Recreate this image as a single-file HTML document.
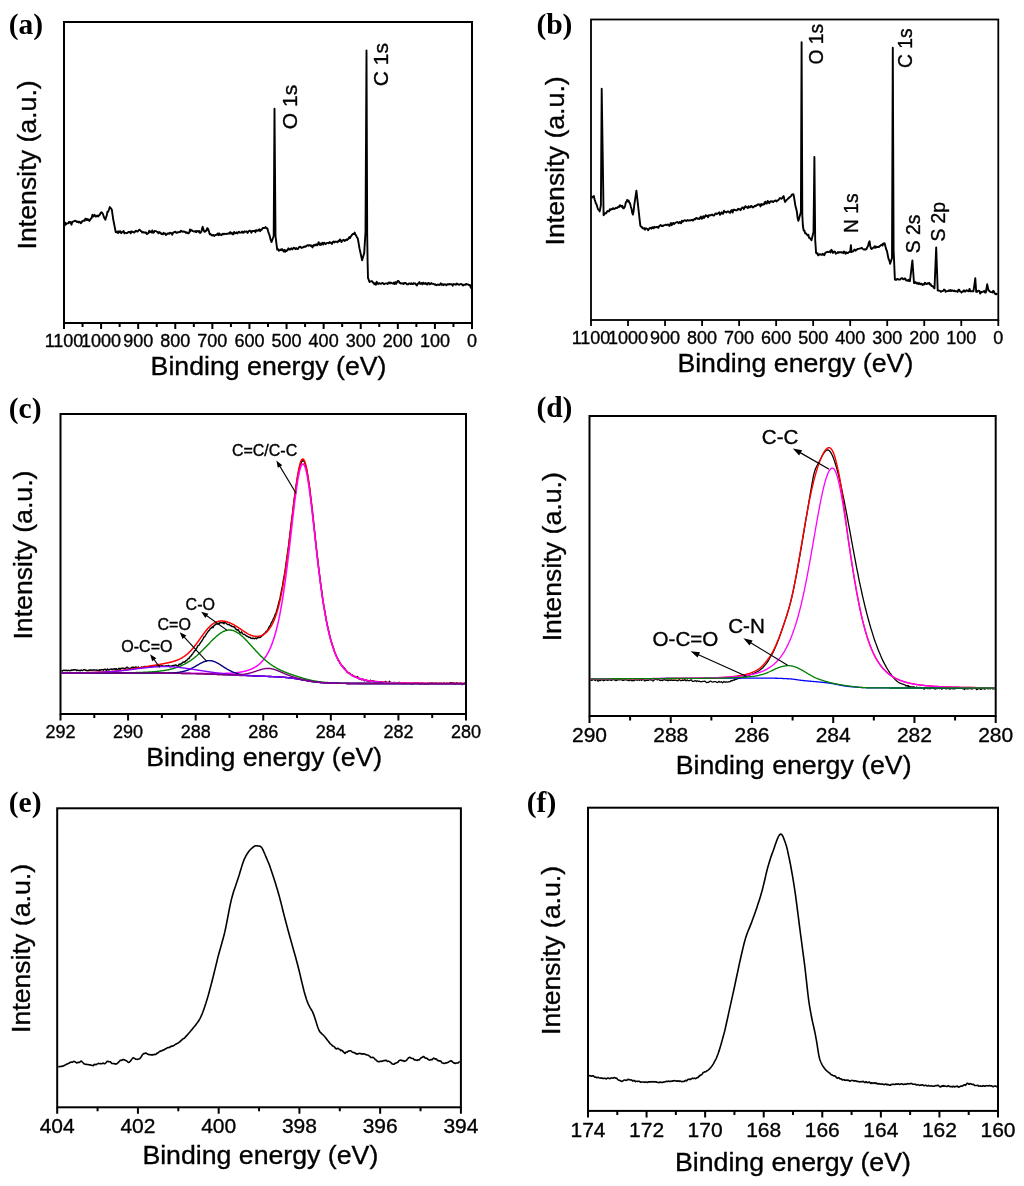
<!DOCTYPE html>
<html><head><meta charset="utf-8"><style>
html,body{margin:0;padding:0;background:#fff;}
body{width:1024px;height:1186px;position:relative;overflow:hidden;}
</style></head><body>
<svg width="1024" height="1186" viewBox="0 0 1024 1186" style="position:absolute;left:0;top:0;will-change:transform"><rect x="64" y="22" width="408" height="301" fill="none" stroke="#000" stroke-width="2"/><path d="M64.00,323L64.00,329M101.09,323L101.09,329M138.18,323L138.18,329M175.27,323L175.27,329M212.36,323L212.36,329M249.45,323L249.45,329M286.55,323L286.55,329M323.64,323L323.64,329M360.73,323L360.73,329M397.82,323L397.82,329M434.91,323L434.91,329M472.00,323L472.00,329M82.55,323L82.55,327M119.64,323L119.64,327M156.73,323L156.73,327M193.82,323L193.82,327M230.91,323L230.91,327M268.00,323L268.00,327M305.09,323L305.09,327M342.18,323L342.18,327M379.27,323L379.27,327M416.36,323L416.36,327M453.45,323L453.45,327" stroke="#000" stroke-width="2" fill="none"/><text x="64.0" y="347" font-family="'Liberation Sans', sans-serif" font-size="18" font-weight="normal" text-anchor="middle" fill="#000" stroke="#000" stroke-width="0.35">1100</text><text x="101.09" y="347" font-family="'Liberation Sans', sans-serif" font-size="18" font-weight="normal" text-anchor="middle" fill="#000" stroke="#000" stroke-width="0.35">1000</text><text x="138.18" y="347" font-family="'Liberation Sans', sans-serif" font-size="18" font-weight="normal" text-anchor="middle" fill="#000" stroke="#000" stroke-width="0.35">900</text><text x="175.27" y="347" font-family="'Liberation Sans', sans-serif" font-size="18" font-weight="normal" text-anchor="middle" fill="#000" stroke="#000" stroke-width="0.35">800</text><text x="212.36" y="347" font-family="'Liberation Sans', sans-serif" font-size="18" font-weight="normal" text-anchor="middle" fill="#000" stroke="#000" stroke-width="0.35">700</text><text x="249.45" y="347" font-family="'Liberation Sans', sans-serif" font-size="18" font-weight="normal" text-anchor="middle" fill="#000" stroke="#000" stroke-width="0.35">600</text><text x="286.55" y="347" font-family="'Liberation Sans', sans-serif" font-size="18" font-weight="normal" text-anchor="middle" fill="#000" stroke="#000" stroke-width="0.35">500</text><text x="323.64" y="347" font-family="'Liberation Sans', sans-serif" font-size="18" font-weight="normal" text-anchor="middle" fill="#000" stroke="#000" stroke-width="0.35">400</text><text x="360.73" y="347" font-family="'Liberation Sans', sans-serif" font-size="18" font-weight="normal" text-anchor="middle" fill="#000" stroke="#000" stroke-width="0.35">300</text><text x="397.82" y="347" font-family="'Liberation Sans', sans-serif" font-size="18" font-weight="normal" text-anchor="middle" fill="#000" stroke="#000" stroke-width="0.35">200</text><text x="434.91" y="347" font-family="'Liberation Sans', sans-serif" font-size="18" font-weight="normal" text-anchor="middle" fill="#000" stroke="#000" stroke-width="0.35">100</text><text x="472.0" y="347" font-family="'Liberation Sans', sans-serif" font-size="18" font-weight="normal" text-anchor="middle" fill="#000" stroke="#000" stroke-width="0.35">0</text><text x="150.6" y="375.2" font-family="'Liberation Sans', sans-serif" font-size="26.7" font-weight="normal" text-anchor="start" fill="#000" stroke="#000" stroke-width="0.35">Binding energy (eV)</text><text x="36.2" y="249.4" font-family="'Liberation Sans', sans-serif" font-size="26.7" font-weight="normal" text-anchor="start" fill="#000" stroke="#000" stroke-width="0.35" transform="rotate(-90 36.2 249.4)">Intensity (a.u.)</text><text x="8.8" y="34.2" font-family="'Liberation Serif', serif" font-size="29.5" font-weight="bold" text-anchor="start" fill="#000">(a)</text><path d="M64.40,226.13L65.18,222.65L65.97,224.47L66.75,223.52L67.54,223.34L68.32,223.24L69.11,221.72L69.89,222.71L70.68,222.00L71.46,224.67L72.25,222.24L73.03,221.58L73.82,221.36L74.60,220.83L75.37,220.66L76.13,221.23L76.90,221.94L77.67,221.53L78.43,222.47L79.20,221.76L79.97,222.02L80.73,223.18L81.50,222.58L82.28,221.17L83.06,220.71L83.84,220.54L84.62,220.83L85.40,218.61L86.18,218.93L86.96,220.10L87.74,219.08L88.52,219.80L89.30,220.92L90.08,219.83L90.86,218.60L91.64,218.13L92.42,214.80L93.20,216.61L93.90,215.30L94.60,214.87L95.30,216.31L96.00,216.68L96.70,215.95L97.40,215.58L98.10,216.42L98.78,215.38L99.46,215.42L100.14,213.98L100.82,212.62L101.50,212.28L102.28,213.02L103.06,214.17L103.84,216.89L104.62,218.55L105.40,219.65L106.07,217.12L106.73,215.69L107.40,211.65L108.20,211.78L109.00,209.54L109.80,207.10L110.47,207.90L111.13,208.70L111.80,209.50L112.50,214.40L113.20,219.30L113.83,222.48L114.45,225.65L115.08,228.82L115.70,232.00L116.50,232.23L117.30,231.57L118.10,233.11L118.90,231.17L119.70,232.25L120.50,231.27L121.29,233.03L122.08,232.08L122.87,231.89L123.66,231.00L124.45,233.43L125.24,232.83L126.03,232.88L126.82,233.20L127.61,232.69L128.40,232.05L129.16,231.89L129.92,231.84L130.68,233.31L131.44,231.28L132.20,231.83L132.96,231.98L133.72,232.31L134.48,232.50L135.24,231.18L136.00,230.79L136.78,231.40L137.55,231.65L138.32,230.73L139.10,229.75L139.88,229.96L140.66,230.97L141.44,231.17L142.22,232.49L143.00,231.94L143.78,232.56L144.56,232.36L145.33,232.78L146.11,232.52L146.89,234.12L147.67,233.35L148.44,233.31L149.22,230.81L150.00,231.96L150.76,231.71L151.52,232.45L152.28,230.42L153.04,232.78L153.80,232.65L154.56,230.93L155.32,231.10L156.08,231.16L156.84,231.69L157.60,232.05L158.36,233.28L159.12,231.96L159.88,232.89L160.64,232.71L161.40,234.08L162.16,233.62L162.92,234.31L163.68,232.85L164.44,233.72L165.20,233.53L165.99,235.03L166.77,234.32L167.56,233.53L168.34,233.31L169.13,233.84L169.91,232.89L170.70,232.62L171.49,233.48L172.27,234.75L173.06,232.74L173.84,232.40L174.63,231.85L175.41,231.62L176.20,232.80L176.99,232.91L177.77,232.20L178.56,232.31L179.34,232.04L180.13,231.94L180.91,230.65L181.70,231.28L182.41,231.82L183.12,231.34L183.83,231.70L184.54,231.60L185.26,232.09L185.97,233.06L186.68,232.33L187.39,232.65L188.10,233.47L188.72,232.70L189.35,232.79L189.97,229.49L190.60,230.90L191.38,230.06L192.17,230.59L192.95,231.19L193.74,231.46L194.52,231.53L195.31,231.01L196.09,232.13L196.88,230.90L197.66,231.10L198.45,231.86L199.23,231.01L200.02,233.01L200.80,232.31L201.43,231.62L202.07,228.58L202.70,226.83L203.33,228.92L203.97,231.01L204.60,231.79L205.24,231.59L205.88,230.43L206.52,230.69L207.16,228.22L207.80,228.53L208.43,229.68L209.07,231.79L209.70,234.30L210.49,233.97L211.27,234.90L212.06,235.52L212.85,234.92L213.64,235.24L214.43,235.94L215.21,234.99L216.00,234.94L216.79,234.54L217.58,233.54L218.37,235.14L219.16,233.31L219.95,234.93L220.74,234.40L221.53,235.13L222.32,234.23L223.11,233.63L223.90,234.40L224.69,233.69L225.48,233.89L226.27,233.98L227.06,233.79L227.84,233.69L228.63,233.17L229.42,233.55L230.21,232.12L231.00,233.45L231.79,232.65L232.58,234.21L233.37,234.25L234.16,231.93L234.95,233.33L235.74,233.07L236.53,232.36L237.32,233.40L238.11,232.64L238.90,231.66L239.69,232.60L240.47,232.58L241.26,232.64L242.04,231.60L242.83,232.78L243.62,232.75L244.40,231.33L245.19,231.56L245.98,231.85L246.76,231.40L247.55,232.91L248.33,231.72L249.12,230.76L249.91,230.80L250.69,231.20L251.48,232.74L252.27,230.90L253.05,231.00L253.84,231.16L254.62,230.67L255.41,232.18L256.20,230.10L256.98,230.88L257.77,230.36L258.56,230.58L259.34,229.21L260.13,231.16L260.91,229.73L261.70,229.72L262.46,228.41L263.22,227.91L263.98,228.17L264.74,227.83L265.50,227.03L266.13,227.98L266.77,228.27L267.40,228.42L268.10,231.25L268.80,233.35L269.50,235.13L270.20,237.97L270.90,240.63L271.60,242.00L272.30,240.00L273.00,238.00L273.70,236.00L274.10,172.40L274.50,108.80L275.00,172.40L275.50,236.00L276.07,240.53L276.63,245.07L277.20,249.60L278.00,249.12L278.80,250.82L279.60,250.24L280.40,249.58L281.20,250.19L282.00,249.07L282.80,249.83L283.60,251.60L284.40,249.78L285.20,251.79L285.99,250.29L286.77,250.89L287.56,250.07L288.34,248.32L289.13,249.34L289.91,249.72L290.70,248.63L291.49,248.34L292.27,249.38L293.06,248.52L293.84,247.64L294.63,248.19L295.41,249.12L296.20,248.04L296.99,248.87L297.77,249.13L298.56,247.93L299.34,246.97L300.13,246.69L300.91,247.43L301.70,247.92L302.47,247.35L303.24,247.41L304.01,246.58L304.79,246.97L305.56,246.29L306.33,246.26L307.10,245.45L307.87,245.11L308.64,245.74L309.41,245.17L310.19,245.14L310.96,246.14L311.73,245.46L312.50,247.44L313.27,245.91L314.04,244.69L314.81,245.54L315.59,245.11L316.36,244.24L317.13,245.36L317.90,243.91L318.67,242.17L319.44,244.73L320.21,243.61L320.99,244.95L321.76,243.32L322.53,242.81L323.30,244.58L324.09,242.64L324.88,243.42L325.67,244.18L326.46,243.14L327.25,242.89L328.04,242.91L328.83,243.31L329.62,242.05L330.41,242.93L331.20,242.80L331.99,243.92L332.78,241.94L333.57,241.43L334.36,242.47L335.14,241.57L335.93,241.94L336.72,241.72L337.51,242.33L338.30,240.94L339.09,241.23L339.88,239.40L340.67,240.45L341.46,242.04L342.25,240.37L343.04,240.25L343.83,239.78L344.62,240.93L345.41,240.53L346.20,239.47L346.97,240.08L347.75,239.10L348.52,238.76L349.29,237.09L350.06,238.06L350.84,236.44L351.61,235.38L352.38,234.41L353.15,233.91L353.93,233.99L354.70,232.51L355.45,234.70L356.20,235.61L356.95,237.39L357.70,238.27L358.30,241.22L358.90,244.83L359.50,248.40L360.15,251.35L360.80,254.30L361.45,257.25L362.10,260.20L362.80,257.83L363.50,255.47L364.20,253.10L364.85,242.55L365.50,232.00L366.00,141.25L366.50,50.50L367.20,235.00L367.60,262.00L368.00,277.90L368.75,279.95L369.50,282.00L370.15,281.70L370.80,281.40L371.45,281.10L372.10,281.18L372.85,282.54L373.60,282.65L374.38,284.26L375.16,283.38L375.94,284.64L376.72,281.80L377.50,283.73L378.28,283.93L379.06,283.01L379.84,283.57L380.62,283.78L381.40,283.67L382.18,282.90L382.96,283.18L383.74,284.00L384.52,284.19L385.30,283.37L386.08,283.36L386.86,283.45L387.64,284.05L388.42,282.59L389.20,282.40L389.98,283.43L390.76,282.57L391.54,282.94L392.32,283.42L393.10,283.70L393.88,282.62L394.66,283.94L395.44,282.15L396.22,283.78L397.00,282.30L397.75,281.06L398.50,280.95L399.00,281.62L399.50,282.74L400.29,283.00L401.09,283.66L401.88,283.31L402.68,283.34L403.47,284.11L404.27,282.89L405.06,283.07L405.85,283.05L406.65,284.25L407.44,284.14L408.24,284.37L409.03,283.46L409.83,283.38L410.62,284.11L411.41,283.25L412.21,284.12L413.00,284.06L413.80,283.08L414.59,283.53L415.39,283.52L416.18,284.83L416.97,285.44L417.77,283.57L418.56,283.67L419.36,282.08L420.15,283.84L420.94,283.70L421.74,282.97L422.53,284.28L423.33,282.65L424.12,283.61L424.92,283.88L425.71,282.92L426.50,284.41L427.30,284.56L428.09,282.87L428.89,282.87L429.68,284.29L430.48,283.86L431.27,283.05L432.06,283.71L432.86,283.85L433.65,283.84L434.45,284.54L435.24,284.24L436.04,285.23L436.83,284.96L437.62,284.49L438.42,284.79L439.21,284.97L440.01,284.56L440.80,283.22L441.60,284.69L442.39,284.16L443.18,285.26L443.98,284.20L444.77,284.52L445.57,284.40L446.36,285.36L447.16,284.32L447.95,284.02L448.74,284.44L449.54,283.93L450.33,284.37L451.13,284.27L451.92,284.48L452.71,285.65L453.51,284.03L454.30,284.36L455.10,284.21L455.89,284.83L456.69,283.55L457.48,283.91L458.27,284.38L459.07,284.80L459.86,284.40L460.66,284.10L461.45,283.86L462.25,284.84L463.04,285.50L463.83,284.74L464.63,284.66L465.42,284.85L466.22,283.90L467.01,284.35L467.81,284.40L468.60,284.81L469.28,285.22L469.96,285.03L470.64,287.31L471.32,288.34L472.00,287.62" stroke="#000" stroke-width="1.9" fill="none" stroke-linejoin="round"/><text x="296.6" y="129.2" font-family="'Liberation Sans', sans-serif" font-size="21" font-weight="normal" text-anchor="start" fill="#000" stroke="#000" stroke-width="0.35" transform="rotate(-90 296.6 129.2)">O 1s</text><text x="388" y="86.2" font-family="'Liberation Sans', sans-serif" font-size="21" font-weight="normal" text-anchor="start" fill="#000" stroke="#000" stroke-width="0.35" transform="rotate(-90 388 86.2)">C 1s</text><rect x="591" y="19.5" width="407.29999999999995" height="300.5" fill="none" stroke="#000" stroke-width="1.8"/><path d="M591.00,320L591.00,326M628.03,320L628.03,326M665.05,320L665.05,326M702.08,320L702.08,326M739.11,320L739.11,326M776.14,320L776.14,326M813.16,320L813.16,326M850.19,320L850.19,326M887.22,320L887.22,326M924.25,320L924.25,326M961.27,320L961.27,326M998.30,320L998.30,326" stroke="#000" stroke-width="1.8" fill="none"/><text x="591.0" y="343.6" font-family="'Liberation Sans', sans-serif" font-size="18" font-weight="normal" text-anchor="middle" fill="#000" stroke="#000" stroke-width="0.35">1100</text><text x="628.03" y="343.6" font-family="'Liberation Sans', sans-serif" font-size="18" font-weight="normal" text-anchor="middle" fill="#000" stroke="#000" stroke-width="0.35">1000</text><text x="665.05" y="343.6" font-family="'Liberation Sans', sans-serif" font-size="18" font-weight="normal" text-anchor="middle" fill="#000" stroke="#000" stroke-width="0.35">900</text><text x="702.08" y="343.6" font-family="'Liberation Sans', sans-serif" font-size="18" font-weight="normal" text-anchor="middle" fill="#000" stroke="#000" stroke-width="0.35">800</text><text x="739.11" y="343.6" font-family="'Liberation Sans', sans-serif" font-size="18" font-weight="normal" text-anchor="middle" fill="#000" stroke="#000" stroke-width="0.35">700</text><text x="776.14" y="343.6" font-family="'Liberation Sans', sans-serif" font-size="18" font-weight="normal" text-anchor="middle" fill="#000" stroke="#000" stroke-width="0.35">600</text><text x="813.16" y="343.6" font-family="'Liberation Sans', sans-serif" font-size="18" font-weight="normal" text-anchor="middle" fill="#000" stroke="#000" stroke-width="0.35">500</text><text x="850.19" y="343.6" font-family="'Liberation Sans', sans-serif" font-size="18" font-weight="normal" text-anchor="middle" fill="#000" stroke="#000" stroke-width="0.35">400</text><text x="887.22" y="343.6" font-family="'Liberation Sans', sans-serif" font-size="18" font-weight="normal" text-anchor="middle" fill="#000" stroke="#000" stroke-width="0.35">300</text><text x="924.25" y="343.6" font-family="'Liberation Sans', sans-serif" font-size="18" font-weight="normal" text-anchor="middle" fill="#000" stroke="#000" stroke-width="0.35">200</text><text x="961.27" y="343.6" font-family="'Liberation Sans', sans-serif" font-size="18" font-weight="normal" text-anchor="middle" fill="#000" stroke="#000" stroke-width="0.35">100</text><text x="998.3" y="343.6" font-family="'Liberation Sans', sans-serif" font-size="18" font-weight="normal" text-anchor="middle" fill="#000" stroke="#000" stroke-width="0.35">0</text><text x="677.4" y="371.6" font-family="'Liberation Sans', sans-serif" font-size="26.7" font-weight="normal" text-anchor="start" fill="#000" stroke="#000" stroke-width="0.35">Binding energy (eV)</text><text x="563.7" y="245.4" font-family="'Liberation Sans', sans-serif" font-size="26.7" font-weight="normal" text-anchor="start" fill="#000" stroke="#000" stroke-width="0.35" transform="rotate(-90 563.7 245.4)">Intensity (a.u.)</text><text x="536.4" y="33.5" font-family="'Liberation Serif', serif" font-size="29.5" font-weight="bold" text-anchor="start" fill="#000">(b)</text><path d="M591.50,198.30L592.30,196.87L593.10,196.65L593.90,196.12L594.53,199.25L595.17,201.08L595.80,203.19L596.58,204.57L597.36,207.28L598.14,209.51L598.92,210.04L599.70,211.40L600.30,208.20L600.90,205.00L601.30,146.85L601.70,88.70L602.33,130.90L602.97,173.10L603.60,215.30L604.38,214.15L605.16,213.21L605.94,213.38L606.72,212.13L607.50,210.96L608.29,211.38L609.07,211.37L609.86,209.18L610.64,209.89L611.43,209.02L612.21,209.30L613.00,208.13L613.78,208.98L614.57,208.80L615.35,208.47L616.13,207.78L616.92,208.14L617.70,207.48L618.48,206.51L619.25,206.92L620.02,205.14L620.80,206.08L621.57,206.71L622.35,205.65L623.12,208.33L623.90,208.27L624.54,207.32L625.18,205.53L625.82,202.21L626.46,201.72L627.10,199.91L627.87,201.45L628.63,200.48L629.40,202.55L630.10,203.60L630.80,206.59L631.50,208.63L632.20,212.77L632.90,214.53L633.60,211.24L634.30,204.74L635.00,200.06L635.70,195.38L636.40,190.70L637.18,197.66L637.96,204.62L638.74,211.58L639.52,218.68L640.30,225.48L640.90,226.63L641.50,226.58L642.10,227.41L642.70,228.38L643.48,228.54L644.27,228.08L645.05,229.67L645.83,228.29L646.62,228.63L647.40,228.84L648.17,230.23L648.95,228.93L649.73,228.17L650.50,227.75L651.28,228.74L652.07,227.46L652.85,227.13L653.64,228.37L654.42,226.84L655.20,227.32L655.99,227.39L656.77,226.88L657.56,227.00L658.34,227.88L659.12,226.31L659.91,225.58L660.69,224.98L661.48,226.03L662.26,225.74L663.05,226.04L663.83,225.32L664.61,225.13L665.40,224.78L666.18,224.76L666.97,225.09L667.75,224.51L668.53,224.70L669.32,225.88L670.10,224.64L670.89,222.93L671.67,225.24L672.45,224.02L673.24,222.88L674.02,224.10L674.81,223.26L675.59,222.61L676.38,222.42L677.16,221.98L677.94,222.59L678.73,223.18L679.51,221.97L680.30,222.35L681.08,223.27L681.86,220.78L682.65,221.71L683.43,221.12L684.22,220.38L685.00,220.23L685.80,220.82L686.59,220.98L687.39,220.08L688.18,220.35L688.98,220.68L689.77,220.19L690.57,220.44L691.36,219.96L692.16,219.81L692.95,220.64L693.75,219.57L694.55,219.02L695.34,219.29L696.14,217.89L696.93,218.16L697.73,218.83L698.52,218.54L699.32,219.05L700.11,217.73L700.91,216.45L701.70,218.83L702.50,218.02L703.30,216.23L704.09,217.89L704.89,216.71L705.68,215.15L706.48,216.02L707.27,215.78L708.07,217.18L708.86,215.22L709.66,215.46L710.45,215.27L711.25,215.02L712.05,214.44L712.84,215.12L713.64,215.59L714.43,215.08L715.23,213.74L716.02,213.40L716.82,214.18L717.61,213.39L718.41,213.27L719.20,212.31L720.00,214.86L720.79,213.91L721.59,212.31L722.38,213.55L723.17,213.70L723.97,210.72L724.76,211.92L725.56,211.86L726.35,212.46L727.14,211.71L727.94,211.45L728.73,211.40L729.52,212.66L730.32,212.71L731.11,210.52L731.90,210.04L732.70,212.57L733.49,209.64L734.29,209.77L735.08,210.05L735.87,210.21L736.67,210.44L737.46,209.78L738.25,208.66L739.05,209.51L739.84,209.14L740.63,210.19L741.43,208.59L742.22,207.42L743.02,207.46L743.81,209.15L744.60,207.48L745.40,206.13L746.19,207.10L746.98,207.36L747.78,208.07L748.57,206.24L749.37,207.32L750.16,207.24L750.95,205.94L751.75,206.15L752.54,207.44L753.33,207.22L754.13,206.40L754.92,205.83L755.71,206.25L756.51,205.12L757.30,204.97L758.10,204.22L758.89,204.69L759.68,204.45L760.48,206.41L761.27,204.01L762.06,204.93L762.86,204.79L763.65,203.48L764.44,204.32L765.24,201.63L766.03,203.16L766.83,203.55L767.62,200.93L768.41,201.69L769.21,203.17L770.00,202.01L770.74,201.20L771.48,201.57L772.21,201.27L772.95,202.04L773.69,201.67L774.42,200.94L775.16,200.48L775.90,200.76L776.68,201.44L777.46,200.36L778.24,200.23L779.02,199.29L779.80,198.08L780.58,198.17L781.36,198.84L782.14,198.08L782.92,196.97L783.70,196.09L784.40,199.83L785.10,201.95L785.83,200.97L786.57,200.02L787.30,199.51L788.03,198.55L788.77,198.09L789.50,197.10L790.28,196.90L791.06,196.00L791.84,194.65L792.62,194.36L793.40,194.27L794.10,197.51L794.80,202.00L795.50,206.29L796.20,208.67L796.90,211.79L797.60,217.85L798.30,220.81L798.95,219.13L799.60,216.40L800.25,214.20L800.90,212.00L801.60,42.30L802.30,215.00L802.90,226.00L803.30,228.25L803.70,230.50L804.47,230.65L805.24,233.42L806.01,233.43L806.79,234.50L807.56,235.50L808.33,234.65L809.10,237.80L809.90,238.12L810.70,239.12L811.50,240.35L812.17,237.53L812.83,234.77L813.50,232.00L813.95,194.45L814.40,156.90L814.80,198.45L815.20,240.00L815.65,246.50L816.10,253.00L816.77,253.50L817.45,253.20L818.12,255.40L818.80,254.96L819.58,254.28L820.37,254.12L821.15,254.75L821.94,254.87L822.72,253.85L823.51,254.51L824.29,255.17L825.08,253.24L825.87,252.34L826.65,252.21L827.43,251.76L828.22,252.12L829.00,251.86L829.79,251.21L830.58,252.40L831.36,249.84L832.14,250.61L832.93,252.91L833.72,251.98L834.50,251.39L835.13,252.01L835.77,253.66L836.40,253.40L837.16,253.00L837.92,251.97L838.68,252.78L839.44,252.23L840.21,252.19L840.97,252.13L841.73,252.58L842.49,252.31L843.25,253.15L844.01,251.45L844.77,252.26L845.53,253.73L846.29,252.31L847.06,253.12L847.82,253.02L848.58,252.11L849.34,252.06L850.10,252.00L850.90,245.20L851.50,252.00L852.29,251.70L853.08,251.40L853.88,250.16L854.67,249.55L855.46,250.66L856.25,250.17L857.05,249.38L857.84,248.89L858.63,248.89L859.42,248.70L860.22,248.39L861.01,248.36L861.80,247.77L862.58,248.79L863.36,249.29L864.14,249.57L864.92,249.20L865.70,249.64L866.48,249.07L867.26,247.23L868.04,245.99L868.82,242.79L869.60,241.27L870.25,245.95L870.90,248.35L871.64,248.99L872.38,248.33L873.12,247.80L873.85,247.50L874.59,246.26L875.33,247.84L876.07,246.57L876.81,247.25L877.55,246.87L878.28,246.77L879.02,247.08L879.76,245.89L880.50,245.81L881.18,244.87L881.87,244.65L882.55,245.60L883.23,243.49L883.92,244.07L884.60,243.22L885.39,246.18L886.17,249.26L886.96,250.93L887.74,254.99L888.53,258.93L889.31,260.25L890.10,263.76L890.73,261.87L891.37,259.93L892.00,258.00L892.80,47.80L893.20,148.90L893.60,250.00L894.25,264.80L894.90,279.60L895.64,279.87L896.38,279.77L897.12,278.98L897.87,278.97L898.61,279.56L899.35,279.59L900.09,279.48L900.83,278.83L901.57,278.20L902.32,278.29L903.06,279.15L903.80,279.28L904.56,278.37L905.32,278.69L906.09,280.41L906.85,280.44L907.61,280.85L908.38,279.77L909.14,280.89L909.90,281.21L910.52,276.30L911.15,271.00L911.77,265.70L912.40,260.40L912.93,267.93L913.47,275.47L914.00,283.00L914.77,283.05L915.55,281.92L916.32,283.37L917.09,283.71L917.87,282.71L918.64,283.89L919.41,283.08L920.19,284.30L920.96,283.82L921.73,283.63L922.51,285.02L923.28,284.18L924.05,284.59L924.83,282.76L925.60,283.22L926.30,284.15L927.00,284.03L927.70,283.13L928.40,283.58L929.16,282.88L929.92,284.51L930.69,284.16L931.45,285.96L932.21,286.01L932.98,286.57L933.74,287.72L934.50,288.40L935.07,274.73L935.63,261.07L936.20,247.40L936.95,268.95L937.70,290.50L938.50,290.52L939.29,290.60L940.09,290.81L940.88,291.87L941.68,291.07L942.47,290.98L943.27,290.80L944.06,289.45L944.86,289.98L945.66,291.77L946.45,291.29L947.25,291.07L948.04,291.18L948.84,290.31L949.63,290.99L950.43,290.07L951.22,291.06L952.02,290.24L952.82,290.64L953.61,291.15L954.41,290.58L955.20,291.33L956.00,291.20L956.79,291.14L957.59,291.88L958.38,289.80L959.18,289.72L959.98,291.40L960.77,291.66L961.57,292.48L962.36,291.55L963.16,291.62L963.95,290.35L964.75,291.59L965.54,291.55L966.34,290.27L967.14,290.40L967.93,291.01L968.73,291.32L969.52,288.91L970.32,291.19L971.11,291.33L971.91,291.04L972.70,291.38L973.50,291.20L974.10,286.87L974.70,282.53L975.30,278.20L975.75,285.05L976.20,291.90L977.00,291.95L977.80,290.90L978.60,290.81L979.40,290.86L980.20,293.63L981.00,292.01L981.80,292.21L982.60,291.71L983.40,291.64L984.20,290.88L985.00,292.45L985.80,292.50L986.50,288.40L987.20,284.30L987.85,287.40L988.50,290.50L989.29,290.70L990.07,291.74L990.86,292.12L991.64,292.10L992.43,292.51L993.21,290.83L994.00,291.48L994.68,293.58L995.36,293.76L996.04,294.37L996.72,293.70L997.40,294.61" stroke="#000" stroke-width="1.9" fill="none" stroke-linejoin="round"/><text x="822.5" y="64.5" font-family="'Liberation Sans', sans-serif" font-size="19.3" font-weight="normal" text-anchor="start" fill="#000" stroke="#000" stroke-width="0.35" transform="rotate(-90 822.5 64.5)">O 1s</text><text x="911.8" y="68" font-family="'Liberation Sans', sans-serif" font-size="19.3" font-weight="normal" text-anchor="start" fill="#000" stroke="#000" stroke-width="0.35" transform="rotate(-90 911.8 68)">C 1s</text><text x="858.4" y="233" font-family="'Liberation Sans', sans-serif" font-size="19.3" font-weight="normal" text-anchor="start" fill="#000" stroke="#000" stroke-width="0.35" transform="rotate(-90 858.4 233)">N 1s</text><text x="920" y="253.2" font-family="'Liberation Sans', sans-serif" font-size="19.3" font-weight="normal" text-anchor="start" fill="#000" stroke="#000" stroke-width="0.35" transform="rotate(-90 920 253.2)">S 2s</text><text x="945" y="241.6" font-family="'Liberation Sans', sans-serif" font-size="19.3" font-weight="normal" text-anchor="start" fill="#000" stroke="#000" stroke-width="0.35" transform="rotate(-90 945 241.6)">S 2p</text><rect x="60.5" y="414" width="405.5" height="300" fill="none" stroke="#000" stroke-width="2"/><path d="M60.50,714L60.50,720.5M128.08,714L128.08,720.5M195.67,714L195.67,720.5M263.25,714L263.25,720.5M330.83,714L330.83,720.5M398.42,714L398.42,720.5M466.00,714L466.00,720.5M94.29,714L94.29,718M161.88,714L161.88,718M229.46,714L229.46,718M297.04,714L297.04,718M364.62,714L364.62,718M432.21,714L432.21,718" stroke="#000" stroke-width="2" fill="none"/><text x="60.5" y="737.6" font-family="'Liberation Sans', sans-serif" font-size="18" font-weight="normal" text-anchor="middle" fill="#000" stroke="#000" stroke-width="0.35">292</text><text x="128.08" y="737.6" font-family="'Liberation Sans', sans-serif" font-size="18" font-weight="normal" text-anchor="middle" fill="#000" stroke="#000" stroke-width="0.35">290</text><text x="195.67" y="737.6" font-family="'Liberation Sans', sans-serif" font-size="18" font-weight="normal" text-anchor="middle" fill="#000" stroke="#000" stroke-width="0.35">288</text><text x="263.25" y="737.6" font-family="'Liberation Sans', sans-serif" font-size="18" font-weight="normal" text-anchor="middle" fill="#000" stroke="#000" stroke-width="0.35">286</text><text x="330.83" y="737.6" font-family="'Liberation Sans', sans-serif" font-size="18" font-weight="normal" text-anchor="middle" fill="#000" stroke="#000" stroke-width="0.35">284</text><text x="398.42" y="737.6" font-family="'Liberation Sans', sans-serif" font-size="18" font-weight="normal" text-anchor="middle" fill="#000" stroke="#000" stroke-width="0.35">282</text><text x="466.0" y="737.6" font-family="'Liberation Sans', sans-serif" font-size="18" font-weight="normal" text-anchor="middle" fill="#000" stroke="#000" stroke-width="0.35">280</text><text x="146.3" y="765.8" font-family="'Liberation Sans', sans-serif" font-size="26.7" font-weight="normal" text-anchor="start" fill="#000" stroke="#000" stroke-width="0.35">Binding energy (eV)</text><text x="32.1" y="639.6" font-family="'Liberation Sans', sans-serif" font-size="26.7" font-weight="normal" text-anchor="start" fill="#000" stroke="#000" stroke-width="0.35" transform="rotate(-90 32.1 639.6)">Intensity (a.u.)</text><text x="8.8" y="418.2" font-family="'Liberation Serif', serif" font-size="29.5" font-weight="bold" text-anchor="start" fill="#000">(c)</text><path d="M61.50,670.43L62.00,670.81L62.50,671.13L63.00,670.61L63.50,670.19L64.00,670.19L64.50,670.42L65.00,670.55L65.50,670.60L66.00,670.10L66.50,670.32L67.00,670.80L67.50,670.56L68.00,670.54L68.50,670.25L69.00,670.41L69.50,670.74L70.00,670.55L70.50,670.28L71.00,670.52L71.50,670.32L72.00,669.72L72.50,670.06L73.00,670.29L73.50,669.65L74.00,669.61L74.50,670.00L75.00,669.89L75.50,669.61L76.00,669.94L76.50,670.60L77.00,670.52L77.50,670.06L78.00,670.23L78.50,670.63L79.00,670.43L79.50,670.38L80.00,670.75L80.50,670.53L81.00,670.02L81.50,670.17L82.00,670.45L82.50,670.65L83.00,670.23L83.50,669.74L84.00,669.85L84.50,669.55L85.00,669.81L85.50,670.42L86.00,670.18L86.50,670.41L87.00,670.83L87.50,670.61L88.00,670.49L88.50,670.57L89.00,670.08L89.50,669.98L90.00,670.50L90.50,669.84L91.00,669.76L91.50,670.16L92.00,670.27L92.50,670.21L93.00,669.98L93.50,670.18L94.00,669.93L94.50,669.99L95.00,670.19L95.50,670.14L96.00,670.02L96.50,670.16L97.00,670.46L97.50,670.10L98.00,670.09L98.50,670.46L99.00,670.77L99.50,669.97L100.00,669.70L100.50,670.24L101.00,669.96L101.50,669.53L102.00,669.88L102.50,669.79L103.00,669.58L103.50,670.26L104.00,669.64L104.50,669.18L105.00,669.23L105.50,669.36L106.00,670.11L106.50,670.57L107.00,669.64L107.50,668.90L108.00,669.55L108.50,670.12L109.00,670.01L109.50,669.34L110.00,669.27L110.50,669.44L111.00,669.27L111.50,669.04L112.00,669.17L112.50,669.42L113.00,669.25L113.50,669.07L114.00,668.70L114.50,668.59L115.00,669.24L115.50,669.28L116.00,668.51L116.50,668.89L117.00,669.39L117.50,669.56L118.00,669.38L118.50,668.63L119.00,668.17L119.50,668.62L120.00,669.67L120.50,669.04L121.00,668.11L121.50,668.45L122.00,668.36L122.50,668.07L123.00,668.16L123.50,668.25L124.00,668.61L124.50,668.52L125.00,668.44L125.50,668.28L126.00,668.08L126.50,667.57L127.00,667.04L127.50,667.81L128.00,668.02L128.50,667.92L129.00,668.20L129.50,668.37L130.00,668.41L130.50,668.30L131.00,668.01L131.50,667.51L132.00,667.31L132.50,667.33L133.00,667.19L133.50,667.14L134.00,667.40L134.50,667.59L135.00,667.49L135.50,666.86L136.00,666.90L136.50,667.46L137.00,667.75L137.50,667.82L138.00,667.31L138.50,666.92L139.00,667.62L139.50,667.99L140.00,667.91L140.50,668.26L141.00,667.50L141.50,666.99L142.00,667.30L142.50,667.32L143.00,667.31L143.50,667.18L144.00,667.04L144.50,666.54L145.00,666.41L145.50,666.58L146.00,666.62L146.50,666.67L147.00,666.77L147.50,667.09L148.00,666.97L148.50,666.80L149.00,666.71L149.50,666.47L150.00,666.37L150.50,666.32L151.00,666.45L151.50,666.56L152.00,666.59L152.50,666.19L153.00,666.25L153.50,666.38L154.00,665.91L154.50,666.04L155.00,666.06L155.50,666.18L156.00,666.15L156.50,665.76L157.00,665.66L157.50,666.30L158.00,666.52L158.50,665.82L159.00,665.79L159.50,665.67L160.00,666.14L160.50,666.13L161.00,665.76L161.50,666.31L162.00,665.76L162.50,665.68L163.00,666.33L163.50,666.36L164.00,666.14L164.50,666.26L165.00,666.21L165.50,666.03L166.00,665.94L166.50,666.02L167.00,665.80L167.50,665.85L168.00,665.98L168.50,665.48L169.00,665.73L169.50,666.51L170.00,666.69L170.50,666.09L171.00,666.03L171.50,666.05L172.00,665.82L172.50,665.97L173.00,665.35L173.50,665.36L174.00,665.68L174.50,665.39L175.00,665.21L175.50,664.92L176.00,664.99L176.50,665.54L177.00,666.14L177.50,665.78L178.00,665.47L178.50,665.24L179.00,664.22L179.50,664.12L180.00,664.54L180.50,664.13L181.00,663.82L181.50,663.82L182.00,663.21L182.50,662.34L183.00,662.20L183.50,662.22L184.00,661.84L184.50,661.81L185.00,662.01L185.50,661.23L186.00,660.54L186.50,660.50L187.00,660.07L187.50,659.65L188.00,658.88L188.50,658.31L189.00,658.48L189.50,657.98L190.00,656.73L190.50,656.13L191.00,656.08L191.50,655.44L192.00,654.35L192.50,654.06L193.00,653.25L193.50,652.33L194.00,652.03L194.50,650.90L195.00,650.57L195.50,650.31L196.00,648.95L196.50,648.32L197.00,647.81L197.50,646.40L198.00,645.60L198.50,645.46L199.00,645.09L199.50,644.32L200.00,643.41L200.50,642.75L201.00,641.93L201.50,641.37L202.00,640.72L202.50,639.72L203.00,639.08L203.50,637.97L204.00,636.88L204.50,636.86L205.00,636.43L205.50,635.21L206.00,634.51L206.50,633.77L207.00,633.08L207.50,632.37L208.00,631.73L208.50,630.85L209.00,630.54L209.50,630.24L210.00,628.88L210.50,628.41L211.00,628.23L211.50,627.83L212.00,627.15L212.50,626.76L213.00,627.65L213.50,626.78L214.00,625.50L214.50,625.42L215.00,625.05L215.50,624.33L216.00,623.68L216.50,624.03L217.00,624.09L217.50,624.18L218.00,623.78L218.50,623.19L219.00,624.01L219.50,623.61L220.00,622.43L220.50,622.52L221.00,622.68L221.50,622.86L222.00,622.87L222.50,622.42L223.00,622.45L223.50,623.42L224.00,623.77L224.50,622.36L225.00,622.08L225.50,622.73L226.00,623.09L226.50,623.45L227.00,623.99L227.50,624.49L228.00,624.42L228.50,624.45L229.00,624.44L229.50,624.74L230.00,625.38L230.50,625.72L231.00,625.56L231.50,626.07L232.00,626.53L232.50,626.48L233.00,626.54L233.50,626.75L234.00,627.13L234.50,626.87L235.00,627.68L235.50,628.96L236.00,628.98L236.50,629.47L237.00,630.01L237.50,630.19L238.00,629.75L238.50,629.93L239.00,631.11L239.50,631.97L240.00,632.67L240.50,632.96L241.00,632.47L241.50,631.81L242.00,632.61L242.50,633.56L243.00,633.99L243.50,634.27L244.00,634.38L244.50,634.32L245.00,634.69L245.50,635.27L246.00,635.54L246.50,636.07L247.00,636.21L247.50,636.44L248.00,636.72L248.50,637.08L249.00,637.45L249.50,637.30L250.00,637.21L250.50,638.02L251.00,638.33L251.50,638.28L252.00,638.56L252.50,638.26L253.00,638.05L253.50,638.32L254.00,638.65L254.50,638.81L255.00,638.39L255.50,638.02L256.00,638.27L256.50,638.78L257.00,638.04L257.50,637.58L258.00,637.91L258.50,637.71L259.00,637.50L259.50,637.24L260.00,637.54L260.50,637.25L261.00,636.63L261.50,636.31L262.00,635.64L262.50,635.31L263.00,635.03L263.50,634.20L264.00,633.75L264.50,633.38L265.00,633.03L265.50,632.49L266.00,631.50L266.50,631.26L267.00,630.98L267.50,630.22L268.00,629.37L268.50,628.23L269.00,627.15L269.50,626.29L270.00,625.83L270.50,625.08L271.00,623.53L271.50,622.58L272.00,621.67L272.50,620.76L273.00,619.79L273.50,618.32L274.00,617.53L274.50,616.64L275.00,614.87L275.50,613.74L276.00,613.36L276.50,611.24L277.00,609.55L277.50,608.09L278.00,605.68L278.50,603.97L279.00,601.75L279.50,600.10L280.00,598.49L280.50,595.67L281.00,593.09L281.50,590.42L282.00,587.82L282.50,585.81L283.00,582.65L283.50,579.39L284.00,576.92L284.50,574.23L285.00,571.37L285.50,567.66L286.00,563.70L286.50,560.45L287.00,556.97L287.50,553.09L288.00,549.73L288.50,546.44L289.00,542.31L289.50,537.82L290.00,533.87L290.50,529.34L291.00,525.07L291.50,521.18L292.00,517.71L292.50,514.10L293.00,509.44L293.50,505.22L294.00,500.60L294.50,497.06L295.00,494.52L295.50,490.57L296.00,486.88L296.50,484.01L297.00,480.28L297.50,477.41L298.00,475.46L298.50,472.72L299.00,470.00L299.50,468.04L300.00,465.75L300.50,463.94L301.00,463.32L301.50,461.92L302.00,461.18L302.50,461.00L303.00,460.08L303.50,460.40L304.00,461.28L304.50,462.29L305.00,463.45L305.50,465.19L306.00,467.15L306.50,469.10L307.00,471.56L307.50,474.08L308.00,477.53L308.50,480.88L309.00,483.88L309.50,487.13L310.00,491.39L310.50,495.95L311.00,499.69L311.50,503.82L312.00,507.99L312.50,512.09L313.00,516.66L313.50,521.59L314.00,526.49L314.50,530.78L315.00,535.50L315.50,540.50L316.00,544.89L316.50,549.47L317.00,553.80L317.50,557.88L318.00,562.42L318.50,566.69L319.00,570.94L319.50,574.68L320.00,578.83L320.50,582.85L321.00,586.19L321.50,589.70L322.00,593.48L322.50,597.68L323.00,601.16L323.50,604.29L324.00,606.71L324.50,609.30L325.00,612.53L325.50,615.31L326.00,618.47L326.50,621.40L327.00,623.61L327.50,626.12L328.00,628.20L328.50,630.06L329.00,632.23L329.50,634.69L330.00,637.01L330.50,638.94L331.00,640.96L331.50,642.18L332.00,643.41L332.50,645.43L333.00,646.76L333.50,648.05L334.00,650.11L334.50,651.91L335.00,653.22L335.50,654.17L336.00,655.01L336.50,656.43L337.00,657.47L337.50,658.31L338.00,659.77L338.50,660.53L339.00,660.91L339.50,661.88L340.00,663.05L340.50,663.99L341.00,664.63L341.50,665.39L342.00,665.60L342.50,665.89L343.00,667.02L343.50,667.61L344.00,667.79L344.50,668.28L345.00,668.94L345.50,669.74L346.00,670.21L346.50,670.80L347.00,672.01L347.50,672.34L348.00,672.65L348.50,673.17L349.00,672.90L349.50,673.12L350.00,673.51L350.50,674.14L351.00,674.42L351.50,674.89L352.00,675.66L352.50,675.03L353.00,675.37L353.50,676.62L354.00,676.45L354.50,676.54L355.00,676.50L355.50,676.52L356.00,676.78L356.50,677.06L357.00,677.22L357.50,676.56L358.00,677.35L358.50,678.89L359.00,678.79L359.50,678.55L360.00,678.91L360.50,678.75L361.00,679.04L361.50,679.72L362.00,679.35L362.50,679.19L363.00,679.75L363.50,679.33L364.00,679.80L364.50,680.85L365.00,680.25L365.50,680.30L366.00,680.68L366.50,680.26L367.00,680.76L367.50,680.96L368.00,680.72L368.50,681.16L369.00,681.51L369.50,681.42L370.00,680.76L370.50,680.16L371.00,680.93L371.50,681.18L372.00,680.98L372.50,681.01L373.00,680.98L373.50,680.98L374.00,681.54L374.50,681.67L375.00,681.25L375.50,681.53L376.00,681.95L376.50,681.66L377.00,681.37L377.50,681.75L378.00,681.95L378.50,682.19L379.00,681.96L379.50,681.93L380.00,682.00L380.50,682.10L381.00,682.22L381.50,681.94L382.00,682.00L382.50,682.32L383.00,682.98L383.50,682.78L384.00,682.27L384.50,682.84L385.00,682.22L385.50,681.36L386.00,681.64L386.50,682.11L387.00,683.14L387.50,683.30L388.00,682.99L388.50,682.85L389.00,681.86L389.50,681.31L390.00,682.29L390.50,683.00L391.00,682.38L391.50,682.66L392.00,682.61L392.50,682.64L393.00,683.48L393.50,682.98L394.00,682.29L394.50,682.75L395.00,682.77L395.50,682.79L396.00,682.78L396.50,682.78L397.00,683.15L397.50,682.83L398.00,682.57L398.50,682.77L399.00,682.51L399.50,682.38L400.00,682.81L400.50,683.08L401.00,682.86L401.50,683.16L402.00,683.43L402.50,682.65L403.00,683.13L403.50,683.91L404.00,683.49L404.50,682.80L405.00,682.87L405.50,682.93L406.00,682.85L406.50,683.48L407.00,683.68L407.50,683.30L408.00,683.30L408.50,683.25L409.00,683.40L409.50,683.66L410.00,683.34L410.50,683.13L411.00,683.91L411.50,684.00L412.00,683.29L412.50,683.75L413.00,683.81L413.50,682.95L414.00,683.14L414.50,683.20L415.00,682.88L415.50,683.23L416.00,683.34L416.50,683.04L417.00,682.93L417.50,682.98L418.00,683.46L418.50,683.43L419.00,682.96L419.50,683.72L420.00,683.73L420.50,683.59L421.00,684.11L421.50,683.66L422.00,682.91L422.50,683.08L423.00,683.66L423.50,683.81L424.00,683.65L424.50,683.72L425.00,684.08L425.50,683.47L426.00,683.48L426.50,683.82L427.00,683.28L427.50,683.15L428.00,683.82L428.50,684.18L429.00,683.18L429.50,682.93L430.00,683.39L430.50,683.32L431.00,683.22L431.50,682.87L432.00,683.26L432.50,683.40L433.00,683.07L433.50,683.16L434.00,683.07L434.50,683.44L435.00,683.75L435.50,683.36L436.00,683.00L436.50,683.06L437.00,683.58L437.50,683.75L438.00,683.55L438.50,683.43L439.00,683.30L439.50,683.45L440.00,683.01L440.50,683.40L441.00,683.69L441.50,683.09L442.00,683.68L442.50,683.90L443.00,683.55L443.50,683.33L444.00,682.89L444.50,683.10L445.00,683.86L445.50,683.56L446.00,683.61L446.50,683.55L447.00,682.98L447.50,683.43L448.00,683.63L448.50,683.68L449.00,683.48L449.50,683.01L450.00,682.70L450.50,682.66L451.00,682.87L451.50,682.81L452.00,683.20L452.50,683.41L453.00,682.78L453.50,683.64L454.00,683.96L454.50,682.94L455.00,683.51L455.50,684.18L456.00,683.52L456.50,682.79L457.00,682.84L457.50,683.55L458.00,683.74L458.50,683.21L459.00,683.29L459.50,683.85L460.00,683.47L460.50,683.04L461.00,683.04L461.50,683.74L462.00,684.63L462.50,684.29L463.00,683.76L463.50,683.68L464.00,683.14L464.50,683.03L465.00,683.24" stroke="#000" stroke-width="1.4" fill="none" stroke-linejoin="round"/><path d="M61.50,672.92L62.00,672.92L62.50,672.92L63.00,672.92L63.50,672.91L64.00,672.91L64.50,672.91L65.00,672.91L65.50,672.90L66.00,672.90L66.50,672.90L67.00,672.89L67.50,672.89L68.00,672.89L68.50,672.88L69.00,672.88L69.50,672.88L70.00,672.87L70.50,672.87L71.00,672.86L71.50,672.86L72.00,672.86L72.50,672.85L73.00,672.85L73.50,672.84L74.00,672.84L74.50,672.83L75.00,672.83L75.50,672.82L76.00,672.81L76.50,672.81L77.00,672.80L77.50,672.80L78.00,672.79L78.50,672.78L79.00,672.78L79.50,672.77L80.00,672.76L80.50,672.75L81.00,672.74L81.50,672.74L82.00,672.73L82.50,672.72L83.00,672.71L83.50,672.70L84.00,672.69L84.50,672.68L85.00,672.67L85.50,672.66L86.00,672.65L86.50,672.64L87.00,672.63L87.50,672.62L88.00,672.60L88.50,672.59L89.00,672.58L89.50,672.56L90.00,672.55L90.50,672.54L91.00,672.52L91.50,672.51L92.00,672.49L92.50,672.48L93.00,672.46L93.50,672.44L94.00,672.43L94.50,672.41L95.00,672.39L95.50,672.37L96.00,672.35L96.50,672.33L97.00,672.31L97.50,672.29L98.00,672.27L98.50,672.25L99.00,672.22L99.50,672.20L100.00,672.18L100.50,672.15L101.00,672.13L101.50,672.10L102.00,672.08L102.50,672.05L103.00,672.02L103.50,671.99L104.00,671.96L104.50,671.93L105.00,671.90L105.50,671.87L106.00,671.84L106.50,671.81L107.00,671.77L107.50,671.74L108.00,671.70L108.50,671.67L109.00,671.63L109.50,671.59L110.00,671.55L110.50,671.51L111.00,671.47L111.50,671.43L112.00,671.39L112.50,671.35L113.00,671.31L113.50,671.26L114.00,671.22L114.50,671.17L115.00,671.12L115.50,671.08L116.00,671.03L116.50,670.98L117.00,670.93L117.50,670.87L118.00,670.82L118.50,670.77L119.00,670.71L119.50,670.66L120.00,670.60L120.50,670.55L121.00,670.49L121.50,670.43L122.00,670.37L122.50,670.31L123.00,670.25L123.50,670.18L124.00,670.12L124.50,670.06L125.00,669.99L125.50,669.93L126.00,669.86L126.50,669.79L127.00,669.72L127.50,669.65L128.00,669.58L128.50,669.51L129.00,669.44L129.50,669.37L130.00,669.30L130.50,669.22L131.00,669.15L131.50,669.07L132.00,669.00L132.50,668.92L133.00,668.84L133.50,668.77L134.00,668.69L134.50,668.61L135.00,668.53L135.50,668.45L136.00,668.37L136.50,668.29L137.00,668.21L137.50,668.13L138.00,668.04L138.50,667.96L139.00,667.88L139.50,667.79L140.00,667.71L140.50,667.63L141.00,667.54L141.50,667.46L142.00,667.37L142.50,667.29L143.00,667.21L143.50,667.12L144.00,667.04L144.50,666.95L145.00,666.87L145.50,666.78L146.00,666.69L146.50,666.61L147.00,666.52L147.50,666.44L148.00,666.35L148.50,666.27L149.00,666.18L149.50,666.10L150.00,666.01L150.50,665.93L151.00,665.84L151.50,665.76L152.00,665.67L152.50,665.59L153.00,665.51L153.50,665.42L154.00,665.34L154.50,665.25L155.00,665.17L155.50,665.08L156.00,665.00L156.50,664.91L157.00,664.83L157.50,664.74L158.00,664.66L158.50,664.57L159.00,664.49L159.50,664.40L160.00,664.31L160.50,664.23L161.00,664.14L161.50,664.05L162.00,663.96L162.50,663.87L163.00,663.78L163.50,663.69L164.00,663.60L164.50,663.50L165.00,663.41L165.50,663.31L166.00,663.21L166.50,663.11L167.00,663.00L167.50,662.90L168.00,662.79L168.50,662.68L169.00,662.57L169.50,662.45L170.00,662.33L170.50,662.21L171.00,662.09L171.50,661.96L172.00,661.82L172.50,661.68L173.00,661.54L173.50,661.39L174.00,661.24L174.50,661.08L175.00,660.92L175.50,660.75L176.00,660.57L176.50,660.39L177.00,660.19L177.50,659.99L178.00,659.79L178.50,659.57L179.00,659.35L179.50,659.12L180.00,658.87L180.50,658.62L181.00,658.36L181.50,658.09L182.00,657.80L182.50,657.51L183.00,657.20L183.50,656.88L184.00,656.55L184.50,656.20L185.00,655.85L185.50,655.47L186.00,655.09L186.50,654.69L187.00,654.28L187.50,653.85L188.00,653.41L188.50,652.95L189.00,652.48L189.50,651.99L190.00,651.49L190.50,650.97L191.00,650.44L191.50,649.89L192.00,649.33L192.50,648.76L193.00,648.17L193.50,647.57L194.00,646.96L194.50,646.33L195.00,645.69L195.50,645.04L196.00,644.39L196.50,643.72L197.00,643.04L197.50,642.36L198.00,641.66L198.50,640.97L199.00,640.27L199.50,639.56L200.00,638.86L200.50,638.15L201.00,637.44L201.50,636.74L202.00,636.04L202.50,635.34L203.00,634.65L203.50,633.96L204.00,633.29L204.50,632.62L205.00,631.96L205.50,631.32L206.00,630.69L206.50,630.07L207.00,629.47L207.50,628.89L208.00,628.32L208.50,627.78L209.00,627.25L209.50,626.74L210.00,626.25L210.50,625.78L211.00,625.34L211.50,624.92L212.00,624.52L212.50,624.14L213.00,623.78L213.50,623.45L214.00,623.14L214.50,622.85L215.00,622.58L215.50,622.34L216.00,622.12L216.50,621.92L217.00,621.74L217.50,621.58L218.00,621.45L218.50,621.33L219.00,621.23L219.50,621.15L220.00,621.09L220.50,621.05L221.00,621.02L221.50,621.01L222.00,621.02L222.50,621.04L223.00,621.08L223.50,621.13L224.00,621.20L224.50,621.28L225.00,621.37L225.50,621.48L226.00,621.59L226.50,621.73L227.00,621.87L227.50,622.02L228.00,622.19L228.50,622.36L229.00,622.55L229.50,622.75L230.00,622.96L230.50,623.17L231.00,623.40L231.50,623.63L232.00,623.88L232.50,624.13L233.00,624.39L233.50,624.66L234.00,624.94L234.50,625.22L235.00,625.52L235.50,625.81L236.00,626.12L236.50,626.43L237.00,626.74L237.50,627.06L238.00,627.39L238.50,627.72L239.00,628.05L239.50,628.38L240.00,628.72L240.50,629.06L241.00,629.40L241.50,629.74L242.00,630.08L242.50,630.41L243.00,630.75L243.50,631.08L244.00,631.41L244.50,631.74L245.00,632.06L245.50,632.37L246.00,632.68L246.50,632.98L247.00,633.28L247.50,633.56L248.00,633.84L248.50,634.10L249.00,634.36L249.50,634.60L250.00,634.83L250.50,635.05L251.00,635.25L251.50,635.44L252.00,635.61L252.50,635.77L253.00,635.91L253.50,636.04L254.00,636.15L254.50,636.24L255.00,636.31L255.50,636.37L256.00,636.40L256.50,636.42L257.00,636.42L257.50,636.40L258.00,636.35L258.50,636.29L259.00,636.20L259.50,636.10L260.00,635.97L260.50,635.82L261.00,635.65L261.50,635.46L262.00,635.24L262.50,635.00L263.00,634.73L263.50,634.44L264.00,634.13L264.50,633.78L265.00,633.41L265.50,633.01L266.00,632.58L266.50,632.12L267.00,631.63L267.50,631.11L268.00,630.54L268.50,629.95L269.00,629.31L269.50,628.64L270.00,627.92L270.50,627.15L271.00,626.34L271.50,625.48L272.00,624.57L272.50,623.60L273.00,622.58L273.50,621.49L274.00,620.35L274.50,619.13L275.00,617.85L275.50,616.49L276.00,615.06L276.50,613.55L277.00,611.96L277.50,610.28L278.00,608.51L278.50,606.65L279.00,604.70L279.50,602.64L280.00,600.49L280.50,598.24L281.00,595.88L281.50,593.41L282.00,590.83L282.50,588.14L283.00,585.34L283.50,582.43L284.00,579.41L284.50,576.27L285.00,573.03L285.50,569.67L286.00,566.21L286.50,562.64L287.00,558.97L287.50,555.21L288.00,551.36L288.50,547.42L289.00,543.41L289.50,539.34L290.00,535.21L290.50,531.03L291.00,526.82L291.50,522.58L292.00,518.34L292.50,514.11L293.00,509.90L293.50,505.74L294.00,501.63L294.50,497.60L295.00,493.67L295.50,489.86L296.00,486.18L296.50,482.65L297.00,479.31L297.50,476.15L298.00,473.22L298.50,470.51L299.00,468.06L299.50,465.87L300.00,463.96L300.50,462.35L301.00,461.05L301.50,460.06L302.00,459.39L302.50,459.06L303.00,459.06L303.50,459.39L304.00,460.06L304.50,461.06L305.00,462.38L305.50,464.02L306.00,465.97L306.50,468.21L307.00,470.74L307.50,473.53L308.00,476.58L308.50,479.86L309.00,483.35L309.50,487.05L310.00,490.92L310.50,494.95L311.00,499.12L311.50,503.41L312.00,507.80L312.50,512.27L313.00,516.80L313.50,521.37L314.00,525.98L314.50,530.60L315.00,535.21L315.50,539.81L316.00,544.37L316.50,548.90L317.00,553.37L317.50,557.79L318.00,562.13L318.50,566.39L319.00,570.57L319.50,574.66L320.00,578.65L320.50,582.55L321.00,586.34L321.50,590.03L322.00,593.61L322.50,597.08L323.00,600.45L323.50,603.71L324.00,606.86L324.50,609.90L325.00,612.83L325.50,615.66L326.00,618.39L326.50,621.02L327.00,623.55L327.50,625.98L328.00,628.32L328.50,630.56L329.00,632.72L329.50,634.79L330.00,636.78L330.50,638.68L331.00,640.51L331.50,642.26L332.00,643.94L332.50,645.55L333.00,647.09L333.50,648.56L334.00,649.98L334.50,651.33L335.00,652.63L335.50,653.87L336.00,655.05L336.50,656.19L337.00,657.28L337.50,658.32L338.00,659.31L338.50,660.27L339.00,661.18L339.50,662.05L340.00,662.89L340.50,663.69L341.00,664.46L341.50,665.19L342.00,665.89L342.50,666.56L343.00,667.21L343.50,667.83L344.00,668.42L344.50,668.98L345.00,669.52L345.50,670.04L346.00,670.54L346.50,671.02L347.00,671.48L347.50,671.92L348.00,672.34L348.50,672.74L349.00,673.13L349.50,673.50L350.00,673.85L350.50,674.20L351.00,674.52L351.50,674.84L352.00,675.14L352.50,675.43L353.00,675.71L353.50,675.98L354.00,676.24L354.50,676.48L355.00,676.72L355.50,676.95L356.00,677.17L356.50,677.38L357.00,677.58L357.50,677.78L358.00,677.97L358.50,678.15L359.00,678.32L359.50,678.49L360.00,678.65L360.50,678.81L361.00,678.96L361.50,679.10L362.00,679.24L362.50,679.38L363.00,679.50L363.50,679.63L364.00,679.75L364.50,679.87L365.00,679.98L365.50,680.09L366.00,680.19L366.50,680.29L367.00,680.39L367.50,680.48L368.00,680.57L368.50,680.66L369.00,680.74L369.50,680.82L370.00,680.90L370.50,680.98L371.00,681.05L371.50,681.12L372.00,681.19L372.50,681.26L373.00,681.32L373.50,681.39L374.00,681.45L374.50,681.50L375.00,681.56L375.50,681.62L376.00,681.67L376.50,681.72L377.00,681.77L377.50,681.82L378.00,681.86L378.50,681.91L379.00,681.95L379.50,682.00L380.00,682.04L380.50,682.08L381.00,682.12L381.50,682.15L382.00,682.19L382.50,682.22L383.00,682.26L383.50,682.29L384.00,682.32L384.50,682.36L385.00,682.39L385.50,682.42L386.00,682.44L386.50,682.47L387.00,682.50L387.50,682.53L388.00,682.55L388.50,682.58L389.00,682.60L389.50,682.62L390.00,682.65L390.50,682.67L391.00,682.69L391.50,682.71L392.00,682.73L392.50,682.75L393.00,682.77L393.50,682.79L394.00,682.81L394.50,682.82L395.00,682.84L395.50,682.86L396.00,682.87L396.50,682.89L397.00,682.91L397.50,682.92L398.00,682.94L398.50,682.95L399.00,682.96L399.50,682.98L400.00,682.99L400.50,683.00L401.00,683.02L401.50,683.03L402.00,683.04L402.50,683.05L403.00,683.06L403.50,683.07L404.00,683.09L404.50,683.10L405.00,683.11L405.50,683.12L406.00,683.13L406.50,683.14L407.00,683.15L407.50,683.15L408.00,683.16L408.50,683.17L409.00,683.18L409.50,683.19L410.00,683.20L410.50,683.20L411.00,683.21L411.50,683.22L412.00,683.23L412.50,683.23L413.00,683.24L413.50,683.25L414.00,683.26L414.50,683.26L415.00,683.27L415.50,683.27L416.00,683.28L416.50,683.29L417.00,683.29L417.50,683.30L418.00,683.30L418.50,683.31L419.00,683.31L419.50,683.32L420.00,683.32L420.50,683.33L421.00,683.33L421.50,683.34L422.00,683.34L422.50,683.35L423.00,683.35L423.50,683.36L424.00,683.36L424.50,683.37L425.00,683.37L425.50,683.37L426.00,683.38L426.50,683.38L427.00,683.39L427.50,683.39L428.00,683.39L428.50,683.40L429.00,683.40L429.50,683.40L430.00,683.41L430.50,683.41L431.00,683.41L431.50,683.42L432.00,683.42L432.50,683.42L433.00,683.43L433.50,683.43L434.00,683.43L434.50,683.43L435.00,683.44L435.50,683.44L436.00,683.44L436.50,683.44L437.00,683.45L437.50,683.45L438.00,683.45L438.50,683.45L439.00,683.46L439.50,683.46L440.00,683.46L440.50,683.46L441.00,683.47L441.50,683.47L442.00,683.47L442.50,683.47L443.00,683.47L443.50,683.48L444.00,683.48L444.50,683.48L445.00,683.48L445.50,683.48L446.00,683.49L446.50,683.49L447.00,683.49L447.50,683.49L448.00,683.49L448.50,683.49L449.00,683.50L449.50,683.50L450.00,683.50L450.50,683.50L451.00,683.50L451.50,683.50L452.00,683.50L452.50,683.51L453.00,683.51L453.50,683.51L454.00,683.51L454.50,683.51L455.00,683.51L455.50,683.51L456.00,683.51L456.50,683.52L457.00,683.52L457.50,683.52L458.00,683.52L458.50,683.52L459.00,683.52L459.50,683.52L460.00,683.52L460.50,683.53L461.00,683.53L461.50,683.53L462.00,683.53L462.50,683.53L463.00,683.53L463.50,683.53L464.00,683.53L464.50,683.53L465.00,683.53" stroke="#ff0000" stroke-width="1.5" fill="none" stroke-linejoin="round"/><path d="M61.50,672.99L62.00,672.99L62.50,672.99L63.00,672.99L63.50,672.99L64.00,672.99L64.50,672.99L65.00,672.99L65.50,672.99L66.00,672.99L66.50,672.99L67.00,672.99L67.50,672.99L68.00,672.99L68.50,672.99L69.00,672.99L69.50,672.99L70.00,672.99L70.50,672.99L71.00,672.99L71.50,672.99L72.00,672.99L72.50,672.99L73.00,672.99L73.50,672.99L74.00,672.99L74.50,672.99L75.00,672.99L75.50,672.99L76.00,672.99L76.50,672.99L77.00,672.99L77.50,672.99L78.00,672.99L78.50,672.99L79.00,672.99L79.50,672.99L80.00,672.99L80.50,672.99L81.00,672.99L81.50,672.99L82.00,672.99L82.50,672.99L83.00,672.99L83.50,672.99L84.00,672.99L84.50,672.99L85.00,672.99L85.50,672.99L86.00,672.99L86.50,672.99L87.00,672.99L87.50,672.99L88.00,672.99L88.50,672.99L89.00,672.99L89.50,672.99L90.00,672.99L90.50,672.99L91.00,672.99L91.50,672.99L92.00,672.99L92.50,672.99L93.00,672.99L93.50,672.99L94.00,672.99L94.50,672.99L95.00,672.99L95.50,672.99L96.00,672.99L96.50,672.99L97.00,672.99L97.50,672.99L98.00,672.99L98.50,672.99L99.00,672.99L99.50,672.99L100.00,672.99L100.50,672.99L101.00,672.99L101.50,672.99L102.00,672.99L102.50,672.99L103.00,672.99L103.50,672.99L104.00,672.99L104.50,672.99L105.00,672.99L105.50,672.99L106.00,672.99L106.50,672.99L107.00,672.99L107.50,672.99L108.00,672.99L108.50,672.99L109.00,672.99L109.50,672.99L110.00,672.99L110.50,672.99L111.00,672.99L111.50,672.99L112.00,672.99L112.50,672.99L113.00,672.99L113.50,672.99L114.00,672.99L114.50,672.99L115.00,672.99L115.50,672.99L116.00,672.99L116.50,672.99L117.00,672.99L117.50,673.00L118.00,673.00L118.50,673.00L119.00,673.00L119.50,673.00L120.00,673.00L120.50,673.00L121.00,673.00L121.50,673.00L122.00,673.00L122.50,673.00L123.00,673.00L123.50,673.00L124.00,673.00L124.50,673.00L125.00,673.00L125.50,673.01L126.00,673.01L126.50,673.01L127.00,673.01L127.50,673.01L128.00,673.01L128.50,673.01L129.00,673.01L129.50,673.01L130.00,673.01L130.50,673.01L131.00,673.01L131.50,673.02L132.00,673.02L132.50,673.02L133.00,673.02L133.50,673.02L134.00,673.02L134.50,673.02L135.00,673.02L135.50,673.02L136.00,673.03L136.50,673.03L137.00,673.03L137.50,673.03L138.00,673.03L138.50,673.03L139.00,673.03L139.50,673.04L140.00,673.04L140.50,673.04L141.00,673.04L141.50,673.04L142.00,673.04L142.50,673.04L143.00,673.05L143.50,673.05L144.00,673.05L144.50,673.05L145.00,673.05L145.50,673.05L146.00,673.06L146.50,673.06L147.00,673.06L147.50,673.06L148.00,673.06L148.50,673.06L149.00,673.07L149.50,673.07L150.00,673.07L150.50,673.07L151.00,673.07L151.50,673.07L152.00,673.08L152.50,673.08L153.00,673.08L153.50,673.08L154.00,673.08L154.50,673.09L155.00,673.09L155.50,673.09L156.00,673.09L156.50,673.09L157.00,673.10L157.50,673.10L158.00,673.10L158.50,673.10L159.00,673.10L159.50,673.11L160.00,673.11L160.50,673.11L161.00,673.11L161.50,673.11L162.00,673.12L162.50,673.12L163.00,673.12L163.50,673.12L164.00,673.13L164.50,673.13L165.00,673.13L165.50,673.13L166.00,673.13L166.50,673.14L167.00,673.14L167.50,673.14L168.00,673.14L168.50,673.14L169.00,673.15L169.50,673.15L170.00,673.15L170.50,673.15L171.00,673.16L171.50,673.16L172.00,673.16L172.50,673.16L173.00,673.16L173.50,673.17L174.00,673.17L174.50,673.17L175.00,673.17L175.50,673.17L176.00,673.18L176.50,673.18L177.00,673.18L177.50,673.18L178.00,673.19L178.50,673.19L179.00,673.19L179.50,673.19L180.00,673.20L180.50,673.20L181.00,673.20L181.50,673.20L182.00,673.21L182.50,673.21L183.00,673.21L183.50,673.21L184.00,673.22L184.50,673.22L185.00,673.22L185.50,673.22L186.00,673.23L186.50,673.23L187.00,673.23L187.50,673.24L188.00,673.24L188.50,673.24L189.00,673.25L189.50,673.25L190.00,673.25L190.50,673.26L191.00,673.26L191.50,673.26L192.00,673.27L192.50,673.27L193.00,673.27L193.50,673.28L194.00,673.28L194.50,673.29L195.00,673.29L195.50,673.30L196.00,673.30L196.50,673.30L197.00,673.31L197.50,673.31L198.00,673.32L198.50,673.32L199.00,673.33L199.50,673.33L200.00,673.34L200.50,673.35L201.00,673.35L201.50,673.36L202.00,673.36L202.50,673.37L203.00,673.37L203.50,673.38L204.00,673.39L204.50,673.39L205.00,673.40L205.50,673.40L206.00,673.41L206.50,673.41L207.00,673.42L207.50,673.42L208.00,673.43L208.50,673.44L209.00,673.44L209.50,673.45L210.00,673.45L210.50,673.45L211.00,673.46L211.50,673.46L212.00,673.47L212.50,673.47L213.00,673.47L213.50,673.48L214.00,673.48L214.50,673.48L215.00,673.48L215.50,673.48L216.00,673.48L216.50,673.49L217.00,673.48L217.50,673.48L218.00,673.48L218.50,673.48L219.00,673.48L219.50,673.47L220.00,673.47L220.50,673.47L221.00,673.46L221.50,673.45L222.00,673.45L222.50,673.44L223.00,673.43L223.50,673.42L224.00,673.41L224.50,673.39L225.00,673.38L225.50,673.37L226.00,673.35L226.50,673.33L227.00,673.31L227.50,673.29L228.00,673.27L228.50,673.25L229.00,673.23L229.50,673.20L230.00,673.17L230.50,673.14L231.00,673.11L231.50,673.08L232.00,673.05L232.50,673.01L233.00,672.97L233.50,672.93L234.00,672.89L234.50,672.84L235.00,672.79L235.50,672.74L236.00,672.69L236.50,672.64L237.00,672.58L237.50,672.52L238.00,672.45L238.50,672.38L239.00,672.31L239.50,672.24L240.00,672.16L240.50,672.08L241.00,672.00L241.50,671.91L242.00,671.81L242.50,671.72L243.00,671.61L243.50,671.51L244.00,671.40L244.50,671.28L245.00,671.16L245.50,671.03L246.00,670.90L246.50,670.76L247.00,670.62L247.50,670.46L248.00,670.31L248.50,670.14L249.00,669.97L249.50,669.79L250.00,669.60L250.50,669.40L251.00,669.20L251.50,668.98L252.00,668.76L252.50,668.53L253.00,668.28L253.50,668.03L254.00,667.76L254.50,667.49L255.00,667.20L255.50,666.89L256.00,666.58L256.50,666.25L257.00,665.90L257.50,665.54L258.00,665.17L258.50,664.77L259.00,664.36L259.50,663.93L260.00,663.48L260.50,663.02L261.00,662.53L261.50,662.02L262.00,661.48L262.50,660.92L263.00,660.34L263.50,659.73L264.00,659.09L264.50,658.42L265.00,657.72L265.50,656.99L266.00,656.23L266.50,655.43L267.00,654.60L267.50,653.73L268.00,652.82L268.50,651.87L269.00,650.87L269.50,649.83L270.00,648.74L270.50,647.60L271.00,646.41L271.50,645.17L272.00,643.87L272.50,642.52L273.00,641.10L273.50,639.62L274.00,638.07L274.50,636.46L275.00,634.78L275.50,633.02L276.00,631.19L276.50,629.28L277.00,627.29L277.50,625.21L278.00,623.05L278.50,620.80L279.00,618.46L279.50,616.03L280.00,613.50L280.50,610.88L281.00,608.16L281.50,605.33L282.00,602.41L282.50,599.38L283.00,596.25L283.50,593.02L284.00,589.68L284.50,586.24L285.00,582.70L285.50,579.07L286.00,575.33L286.50,571.50L287.00,567.59L287.50,563.59L288.00,559.51L288.50,555.36L289.00,551.14L289.50,546.87L290.00,542.56L290.50,538.21L291.00,533.83L291.50,529.45L292.00,525.06L292.50,520.70L293.00,516.37L293.50,512.09L294.00,507.87L294.50,503.74L295.00,499.71L295.50,495.81L296.00,492.05L296.50,488.44L297.00,485.02L297.50,481.80L298.00,478.79L298.50,476.02L299.00,473.50L299.50,471.25L300.00,469.28L300.50,467.61L301.00,466.24L301.50,465.18L302.00,464.45L302.50,464.04L303.00,463.97L303.50,464.23L304.00,464.82L304.50,465.73L305.00,466.97L305.50,468.52L306.00,470.38L306.50,472.53L307.00,474.96L307.50,477.65L308.00,480.60L308.50,483.77L309.00,487.16L309.50,490.75L310.00,494.51L310.50,498.43L311.00,502.49L311.50,506.67L312.00,510.95L312.50,515.31L313.00,519.74L313.50,524.20L314.00,528.70L314.50,533.22L315.00,537.73L315.50,542.23L316.00,546.70L316.50,551.13L317.00,555.51L317.50,559.83L318.00,564.09L318.50,568.27L319.00,572.37L319.50,576.38L320.00,580.30L320.50,584.12L321.00,587.85L321.50,591.47L322.00,594.99L322.50,598.40L323.00,601.71L323.50,604.91L324.00,608.01L324.50,611.00L325.00,613.89L325.50,616.67L326.00,619.36L326.50,621.94L327.00,624.43L327.50,626.82L328.00,629.13L328.50,631.34L329.00,633.46L329.50,635.50L330.00,637.46L330.50,639.34L331.00,641.14L331.50,642.86L332.00,644.52L332.50,646.10L333.00,647.62L333.50,649.07L334.00,650.47L334.50,651.80L335.00,653.08L335.50,654.30L336.00,655.47L336.50,656.59L337.00,657.66L337.50,658.69L338.00,659.67L338.50,660.61L339.00,661.51L339.50,662.38L340.00,663.20L340.50,663.99L341.00,664.75L341.50,665.47L342.00,666.16L342.50,666.83L343.00,667.46L343.50,668.07L344.00,668.65L344.50,669.21L345.00,669.74L345.50,670.26L346.00,670.75L346.50,671.22L347.00,671.67L347.50,672.10L348.00,672.52L348.50,672.92L349.00,673.30L349.50,673.66L350.00,674.01L350.50,674.35L351.00,674.67L351.50,674.98L352.00,675.28L352.50,675.57L353.00,675.84L353.50,676.11L354.00,676.36L354.50,676.60L355.00,676.84L355.50,677.06L356.00,677.28L356.50,677.49L357.00,677.69L357.50,677.88L358.00,678.07L358.50,678.25L359.00,678.42L359.50,678.58L360.00,678.74L360.50,678.89L361.00,679.04L361.50,679.18L362.00,679.32L362.50,679.45L363.00,679.58L363.50,679.70L364.00,679.82L364.50,679.94L365.00,680.05L365.50,680.15L366.00,680.25L366.50,680.35L367.00,680.45L367.50,680.54L368.00,680.63L368.50,680.72L369.00,680.80L369.50,680.88L370.00,680.96L370.50,681.03L371.00,681.10L371.50,681.17L372.00,681.24L372.50,681.31L373.00,681.37L373.50,681.43L374.00,681.49L374.50,681.55L375.00,681.60L375.50,681.66L376.00,681.71L376.50,681.76L377.00,681.81L377.50,681.85L378.00,681.90L378.50,681.94L379.00,681.99L379.50,682.03L380.00,682.07L380.50,682.11L381.00,682.15L381.50,682.18L382.00,682.22L382.50,682.25L383.00,682.29L383.50,682.32L384.00,682.35L384.50,682.38L385.00,682.41L385.50,682.44L386.00,682.47L386.50,682.50L387.00,682.52L387.50,682.55L388.00,682.57L388.50,682.60L389.00,682.62L389.50,682.64L390.00,682.67L390.50,682.69L391.00,682.71L391.50,682.73L392.00,682.75L392.50,682.77L393.00,682.79L393.50,682.81L394.00,682.82L394.50,682.84L395.00,682.86L395.50,682.87L396.00,682.89L396.50,682.91L397.00,682.92L397.50,682.94L398.00,682.95L398.50,682.96L399.00,682.98L399.50,682.99L400.00,683.00L400.50,683.02L401.00,683.03L401.50,683.04L402.00,683.05L402.50,683.06L403.00,683.08L403.50,683.09L404.00,683.10L404.50,683.11L405.00,683.12L405.50,683.13L406.00,683.14L406.50,683.15L407.00,683.16L407.50,683.16L408.00,683.17L408.50,683.18L409.00,683.19L409.50,683.20L410.00,683.21L410.50,683.21L411.00,683.22L411.50,683.23L412.00,683.24L412.50,683.24L413.00,683.25L413.50,683.26L414.00,683.26L414.50,683.27L415.00,683.28L415.50,683.28L416.00,683.29L416.50,683.29L417.00,683.30L417.50,683.30L418.00,683.31L418.50,683.32L419.00,683.32L419.50,683.33L420.00,683.33L420.50,683.34L421.00,683.34L421.50,683.34L422.00,683.35L422.50,683.35L423.00,683.36L423.50,683.36L424.00,683.37L424.50,683.37L425.00,683.37L425.50,683.38L426.00,683.38L426.50,683.39L427.00,683.39L427.50,683.39L428.00,683.40L428.50,683.40L429.00,683.40L429.50,683.41L430.00,683.41L430.50,683.41L431.00,683.42L431.50,683.42L432.00,683.42L432.50,683.43L433.00,683.43L433.50,683.43L434.00,683.43L434.50,683.44L435.00,683.44L435.50,683.44L436.00,683.45L436.50,683.45L437.00,683.45L437.50,683.45L438.00,683.45L438.50,683.46L439.00,683.46L439.50,683.46L440.00,683.46L440.50,683.47L441.00,683.47L441.50,683.47L442.00,683.47L442.50,683.47L443.00,683.48L443.50,683.48L444.00,683.48L444.50,683.48L445.00,683.48L445.50,683.49L446.00,683.49L446.50,683.49L447.00,683.49L447.50,683.49L448.00,683.49L448.50,683.50L449.00,683.50L449.50,683.50L450.00,683.50L450.50,683.50L451.00,683.50L451.50,683.50L452.00,683.51L452.50,683.51L453.00,683.51L453.50,683.51L454.00,683.51L454.50,683.51L455.00,683.51L455.50,683.52L456.00,683.52L456.50,683.52L457.00,683.52L457.50,683.52L458.00,683.52L458.50,683.52L459.00,683.52L459.50,683.52L460.00,683.53L460.50,683.53L461.00,683.53L461.50,683.53L462.00,683.53L462.50,683.53L463.00,683.53L463.50,683.53L464.00,683.53L464.50,683.53L465.00,683.54" stroke="#ff00ff" stroke-width="1.5" fill="none" stroke-linejoin="round"/><path d="M61.50,673.00L62.00,673.00L62.50,673.00L63.00,673.00L63.50,673.00L64.00,673.00L64.50,673.00L65.00,673.00L65.50,673.00L66.00,673.00L66.50,673.00L67.00,673.00L67.50,673.00L68.00,673.00L68.50,673.00L69.00,673.00L69.50,673.00L70.00,673.00L70.50,673.00L71.00,673.00L71.50,673.00L72.00,673.00L72.50,673.00L73.00,673.00L73.50,673.00L74.00,673.00L74.50,673.00L75.00,673.00L75.50,673.00L76.00,673.00L76.50,673.00L77.00,673.00L77.50,673.00L78.00,673.00L78.50,673.00L79.00,673.00L79.50,673.00L80.00,673.00L80.50,673.00L81.00,673.00L81.50,673.00L82.00,673.00L82.50,673.00L83.00,673.00L83.50,673.00L84.00,673.00L84.50,673.00L85.00,673.00L85.50,673.00L86.00,673.00L86.50,673.00L87.00,673.00L87.50,673.00L88.00,673.00L88.50,673.00L89.00,673.00L89.50,673.00L90.00,673.01L90.50,673.01L91.00,673.01L91.50,673.01L92.00,673.01L92.50,673.01L93.00,673.01L93.50,673.01L94.00,673.01L94.50,673.01L95.00,673.01L95.50,673.01L96.00,673.01L96.50,673.01L97.00,673.01L97.50,673.01L98.00,673.01L98.50,673.01L99.00,673.01L99.50,673.01L100.00,673.01L100.50,673.01L101.00,673.01L101.50,673.01L102.00,673.01L102.50,673.01L103.00,673.01L103.50,673.01L104.00,673.01L104.50,673.01L105.00,673.01L105.50,673.01L106.00,673.02L106.50,673.02L107.00,673.02L107.50,673.02L108.00,673.02L108.50,673.02L109.00,673.02L109.50,673.02L110.00,673.02L110.50,673.02L111.00,673.02L111.50,673.02L112.00,673.02L112.50,673.02L113.00,673.02L113.50,673.02L114.00,673.03L114.50,673.03L115.00,673.03L115.50,673.03L116.00,673.03L116.50,673.03L117.00,673.03L117.50,673.03L118.00,673.03L118.50,673.03L119.00,673.03L119.50,673.03L120.00,673.04L120.50,673.04L121.00,673.04L121.50,673.04L122.00,673.04L122.50,673.04L123.00,673.04L123.50,673.04L124.00,673.04L124.50,673.05L125.00,673.05L125.50,673.05L126.00,673.05L126.50,673.05L127.00,673.05L127.50,673.05L128.00,673.06L128.50,673.06L129.00,673.06L129.50,673.06L130.00,673.06L130.50,673.06L131.00,673.06L131.50,673.07L132.00,673.07L132.50,673.07L133.00,673.07L133.50,673.07L134.00,673.08L134.50,673.08L135.00,673.08L135.50,673.08L136.00,673.08L136.50,673.08L137.00,673.09L137.50,673.09L138.00,673.09L138.50,673.09L139.00,673.10L139.50,673.10L140.00,673.10L140.50,673.10L141.00,673.10L141.50,673.11L142.00,673.11L142.50,673.11L143.00,673.11L143.50,673.12L144.00,673.12L144.50,673.12L145.00,673.12L145.50,673.13L146.00,673.13L146.50,673.13L147.00,673.13L147.50,673.14L148.00,673.14L148.50,673.14L149.00,673.15L149.50,673.15L150.00,673.15L150.50,673.16L151.00,673.16L151.50,673.16L152.00,673.16L152.50,673.17L153.00,673.17L153.50,673.17L154.00,673.18L154.50,673.18L155.00,673.18L155.50,673.19L156.00,673.19L156.50,673.19L157.00,673.20L157.50,673.20L158.00,673.21L158.50,673.21L159.00,673.21L159.50,673.22L160.00,673.22L160.50,673.22L161.00,673.23L161.50,673.23L162.00,673.24L162.50,673.24L163.00,673.24L163.50,673.25L164.00,673.25L164.50,673.26L165.00,673.26L165.50,673.26L166.00,673.27L166.50,673.27L167.00,673.28L167.50,673.28L168.00,673.28L168.50,673.29L169.00,673.29L169.50,673.30L170.00,673.30L170.50,673.31L171.00,673.31L171.50,673.32L172.00,673.32L172.50,673.33L173.00,673.33L173.50,673.34L174.00,673.34L174.50,673.35L175.00,673.35L175.50,673.36L176.00,673.36L176.50,673.37L177.00,673.37L177.50,673.38L178.00,673.38L178.50,673.39L179.00,673.40L179.50,673.40L180.00,673.41L180.50,673.41L181.00,673.42L181.50,673.43L182.00,673.43L182.50,673.44L183.00,673.45L183.50,673.45L184.00,673.46L184.50,673.47L185.00,673.48L185.50,673.48L186.00,673.49L186.50,673.50L187.00,673.51L187.50,673.51L188.00,673.52L188.50,673.53L189.00,673.54L189.50,673.55L190.00,673.56L190.50,673.57L191.00,673.58L191.50,673.59L192.00,673.60L192.50,673.61L193.00,673.62L193.50,673.63L194.00,673.64L194.50,673.65L195.00,673.66L195.50,673.67L196.00,673.69L196.50,673.70L197.00,673.71L197.50,673.72L198.00,673.74L198.50,673.75L199.00,673.77L199.50,673.78L200.00,673.79L200.50,673.81L201.00,673.82L201.50,673.84L202.00,673.85L202.50,673.87L203.00,673.89L203.50,673.90L204.00,673.92L204.50,673.94L205.00,673.96L205.50,673.97L206.00,673.99L206.50,674.01L207.00,674.03L207.50,674.05L208.00,674.07L208.50,674.09L209.00,674.11L209.50,674.12L210.00,674.14L210.50,674.17L211.00,674.19L211.50,674.21L212.00,674.23L212.50,674.25L213.00,674.27L213.50,674.29L214.00,674.31L214.50,674.33L215.00,674.36L215.50,674.38L216.00,674.40L216.50,674.42L217.00,674.44L217.50,674.47L218.00,674.49L218.50,674.51L219.00,674.53L219.50,674.56L220.00,674.58L220.50,674.60L221.00,674.62L221.50,674.65L222.00,674.67L222.50,674.69L223.00,674.72L223.50,674.74L224.00,674.76L224.50,674.78L225.00,674.81L225.50,674.83L226.00,674.85L226.50,674.87L227.00,674.90L227.50,674.92L228.00,674.94L228.50,674.96L229.00,674.99L229.50,675.01L230.00,675.03L230.50,675.05L231.00,675.07L231.50,675.10L232.00,675.12L232.50,675.14L233.00,675.16L233.50,675.18L234.00,675.20L234.50,675.23L235.00,675.25L235.50,675.27L236.00,675.29L236.50,675.31L237.00,675.33L237.50,675.35L238.00,675.37L238.50,675.39L239.00,675.41L239.50,675.43L240.00,675.45L240.50,675.47L241.00,675.49L241.50,675.51L242.00,675.53L242.50,675.55L243.00,675.57L243.50,675.59L244.00,675.61L244.50,675.62L245.00,675.64L245.50,675.66L246.00,675.68L246.50,675.70L247.00,675.72L247.50,675.73L248.00,675.75L248.50,675.77L249.00,675.79L249.50,675.80L250.00,675.82L250.50,675.84L251.00,675.86L251.50,675.87L252.00,675.89L252.50,675.91L253.00,675.93L253.50,675.94L254.00,675.96L254.50,675.98L255.00,675.99L255.50,676.01L256.00,676.03L256.50,676.04L257.00,676.06L257.50,676.08L258.00,676.09L258.50,676.11L259.00,676.13L259.50,676.14L260.00,676.16L260.50,676.18L261.00,676.19L261.50,676.21L262.00,676.23L262.50,676.25L263.00,676.26L263.50,676.28L264.00,676.30L264.50,676.32L265.00,676.34L265.50,676.35L266.00,676.37L266.50,676.39L267.00,676.41L267.50,676.43L268.00,676.45L268.50,676.47L269.00,676.49L269.50,676.51L270.00,676.53L270.50,676.55L271.00,676.57L271.50,676.59L272.00,676.61L272.50,676.63L273.00,676.65L273.50,676.68L274.00,676.70L274.50,676.72L275.00,676.75L275.50,676.77L276.00,676.80L276.50,676.82L277.00,676.85L277.50,676.88L278.00,676.91L278.50,676.94L279.00,676.97L279.50,677.00L280.00,677.03L280.50,677.06L281.00,677.09L281.50,677.13L282.00,677.16L282.50,677.20L283.00,677.24L283.50,677.27L284.00,677.31L284.50,677.36L285.00,677.40L285.50,677.44L286.00,677.49L286.50,677.53L287.00,677.58L287.50,677.63L288.00,677.68L288.50,677.74L289.00,677.79L289.50,677.85L290.00,677.91L290.50,677.97L291.00,678.03L291.50,678.09L292.00,678.16L292.50,678.22L293.00,678.29L293.50,678.36L294.00,678.43L294.50,678.51L295.00,678.58L295.50,678.66L296.00,678.74L296.50,678.82L297.00,678.90L297.50,678.99L298.00,679.07L298.50,679.16L299.00,679.24L299.50,679.33L300.00,679.42L300.50,679.51L301.00,679.60L301.50,679.69L302.00,679.79L302.50,679.88L303.00,679.97L303.50,680.06L304.00,680.16L304.50,680.25L305.00,680.34L305.50,680.43L306.00,680.52L306.50,680.61L307.00,680.70L307.50,680.79L308.00,680.87L308.50,680.96L309.00,681.04L309.50,681.13L310.00,681.21L310.50,681.29L311.00,681.36L311.50,681.44L312.00,681.52L312.50,681.59L313.00,681.66L313.50,681.73L314.00,681.80L314.50,681.86L315.00,681.92L315.50,681.99L316.00,682.04L316.50,682.10L317.00,682.16L317.50,682.21L318.00,682.26L318.50,682.31L319.00,682.36L319.50,682.41L320.00,682.46L320.50,682.50L321.00,682.54L321.50,682.58L322.00,682.62L322.50,682.66L323.00,682.69L323.50,682.73L324.00,682.76L324.50,682.79L325.00,682.82L325.50,682.85L326.00,682.88L326.50,682.91L327.00,682.93L327.50,682.96L328.00,682.98L328.50,683.01L329.00,683.03L329.50,683.05L330.00,683.07L330.50,683.09L331.00,683.11L331.50,683.13L332.00,683.14L332.50,683.16L333.00,683.17L333.50,683.19L334.00,683.20L334.50,683.22L335.00,683.23L335.50,683.25L336.00,683.26L336.50,683.27L337.00,683.28L337.50,683.29L338.00,683.30L338.50,683.31L339.00,683.32L339.50,683.33L340.00,683.34L340.50,683.35L341.00,683.36L341.50,683.37L342.00,683.37L342.50,683.38L343.00,683.39L343.50,683.39L344.00,683.40L344.50,683.41L345.00,683.41L345.50,683.42L346.00,683.42L346.50,683.43L347.00,683.44L347.50,683.44L348.00,683.45L348.50,683.45L349.00,683.45L349.50,683.46L350.00,683.46L350.50,683.47L351.00,683.47L351.50,683.47L352.00,683.48L352.50,683.48L353.00,683.49L353.50,683.49L354.00,683.49L354.50,683.49L355.00,683.50L355.50,683.50L356.00,683.50L356.50,683.51L357.00,683.51L357.50,683.51L358.00,683.51L358.50,683.52L359.00,683.52L359.50,683.52L360.00,683.52L360.50,683.52L361.00,683.53L361.50,683.53L362.00,683.53L362.50,683.53L363.00,683.53L363.50,683.54L364.00,683.54L364.50,683.54L365.00,683.54L365.50,683.54L366.00,683.54L366.50,683.54L367.00,683.55L367.50,683.55L368.00,683.55L368.50,683.55L369.00,683.55L369.50,683.55L370.00,683.55L370.50,683.55L371.00,683.56L371.50,683.56L372.00,683.56L372.50,683.56L373.00,683.56L373.50,683.56L374.00,683.56L374.50,683.56L375.00,683.56L375.50,683.56L376.00,683.57L376.50,683.57L377.00,683.57L377.50,683.57L378.00,683.57L378.50,683.57L379.00,683.57L379.50,683.57L380.00,683.57L380.50,683.57L381.00,683.57L381.50,683.57L382.00,683.57L382.50,683.57L383.00,683.57L383.50,683.58L384.00,683.58L384.50,683.58L385.00,683.58L385.50,683.58L386.00,683.58L386.50,683.58L387.00,683.58L387.50,683.58L388.00,683.58L388.50,683.58L389.00,683.58L389.50,683.58L390.00,683.58L390.50,683.58L391.00,683.58L391.50,683.58L392.00,683.58L392.50,683.58L393.00,683.58L393.50,683.58L394.00,683.58L394.50,683.58L395.00,683.58L395.50,683.59L396.00,683.59L396.50,683.59L397.00,683.59L397.50,683.59L398.00,683.59L398.50,683.59L399.00,683.59L399.50,683.59L400.00,683.59L400.50,683.59L401.00,683.59L401.50,683.59L402.00,683.59L402.50,683.59L403.00,683.59L403.50,683.59L404.00,683.59L404.50,683.59L405.00,683.59L405.50,683.59L406.00,683.59L406.50,683.59L407.00,683.59L407.50,683.59L408.00,683.59L408.50,683.59L409.00,683.59L409.50,683.59L410.00,683.59L410.50,683.59L411.00,683.59L411.50,683.59L412.00,683.59L412.50,683.59L413.00,683.59L413.50,683.59L414.00,683.59L414.50,683.59L415.00,683.59L415.50,683.59L416.00,683.59L416.50,683.59L417.00,683.59L417.50,683.59L418.00,683.59L418.50,683.59L419.00,683.59L419.50,683.59L420.00,683.59L420.50,683.59L421.00,683.59L421.50,683.59L422.00,683.60L422.50,683.60L423.00,683.60L423.50,683.60L424.00,683.60L424.50,683.60L425.00,683.60L425.50,683.60L426.00,683.60L426.50,683.60L427.00,683.60L427.50,683.60L428.00,683.60L428.50,683.60L429.00,683.60L429.50,683.60L430.00,683.60L430.50,683.60L431.00,683.60L431.50,683.60L432.00,683.60L432.50,683.60L433.00,683.60L433.50,683.60L434.00,683.60L434.50,683.60L435.00,683.60L435.50,683.60L436.00,683.60L436.50,683.60L437.00,683.60L437.50,683.60L438.00,683.60L438.50,683.60L439.00,683.60L439.50,683.60L440.00,683.60L440.50,683.60L441.00,683.60L441.50,683.60L442.00,683.60L442.50,683.60L443.00,683.60L443.50,683.60L444.00,683.60L444.50,683.60L445.00,683.60L445.50,683.60L446.00,683.60L446.50,683.60L447.00,683.60L447.50,683.60L448.00,683.60L448.50,683.60L449.00,683.60L449.50,683.60L450.00,683.60L450.50,683.60L451.00,683.60L451.50,683.60L452.00,683.60L452.50,683.60L453.00,683.60L453.50,683.60L454.00,683.60L454.50,683.60L455.00,683.60L455.50,683.60L456.00,683.60L456.50,683.60L457.00,683.60L457.50,683.60L458.00,683.60L458.50,683.60L459.00,683.60L459.50,683.60L460.00,683.60L460.50,683.60L461.00,683.60L461.50,683.60L462.00,683.60L462.50,683.60L463.00,683.60L463.50,683.60L464.00,683.60L464.50,683.60L465.00,683.60" stroke="#800080" stroke-width="1.4" fill="none" stroke-linejoin="round"/><path d="M61.50,672.99L62.00,672.99L62.50,672.99L63.00,672.99L63.50,672.99L64.00,672.99L64.50,672.99L65.00,672.98L65.50,672.98L66.00,672.98L66.50,672.98L67.00,672.98L67.50,672.98L68.00,672.98L68.50,672.98L69.00,672.98L69.50,672.98L70.00,672.98L70.50,672.98L71.00,672.98L71.50,672.98L72.00,672.98L72.50,672.98L73.00,672.98L73.50,672.98L74.00,672.98L74.50,672.98L75.00,672.98L75.50,672.98L76.00,672.98L76.50,672.98L77.00,672.98L77.50,672.98L78.00,672.97L78.50,672.97L79.00,672.97L79.50,672.97L80.00,672.97L80.50,672.97L81.00,672.97L81.50,672.97L82.00,672.97L82.50,672.97L83.00,672.97L83.50,672.97L84.00,672.97L84.50,672.97L85.00,672.97L85.50,672.97L86.00,672.96L86.50,672.96L87.00,672.96L87.50,672.96L88.00,672.96L88.50,672.96L89.00,672.96L89.50,672.96L90.00,672.96L90.50,672.96L91.00,672.96L91.50,672.96L92.00,672.95L92.50,672.95L93.00,672.95L93.50,672.95L94.00,672.95L94.50,672.95L95.00,672.95L95.50,672.95L96.00,672.95L96.50,672.94L97.00,672.94L97.50,672.94L98.00,672.94L98.50,672.94L99.00,672.94L99.50,672.94L100.00,672.93L100.50,672.93L101.00,672.93L101.50,672.93L102.00,672.93L102.50,672.93L103.00,672.92L103.50,672.92L104.00,672.92L104.50,672.92L105.00,672.92L105.50,672.92L106.00,672.91L106.50,672.91L107.00,672.91L107.50,672.91L108.00,672.90L108.50,672.90L109.00,672.90L109.50,672.90L110.00,672.89L110.50,672.89L111.00,672.89L111.50,672.89L112.00,672.88L112.50,672.88L113.00,672.88L113.50,672.87L114.00,672.87L114.50,672.87L115.00,672.86L115.50,672.86L116.00,672.86L116.50,672.85L117.00,672.85L117.50,672.85L118.00,672.84L118.50,672.84L119.00,672.83L119.50,672.83L120.00,672.82L120.50,672.82L121.00,672.81L121.50,672.81L122.00,672.80L122.50,672.80L123.00,672.79L123.50,672.79L124.00,672.78L124.50,672.78L125.00,672.77L125.50,672.76L126.00,672.76L126.50,672.75L127.00,672.74L127.50,672.74L128.00,672.73L128.50,672.72L129.00,672.71L129.50,672.70L130.00,672.70L130.50,672.69L131.00,672.68L131.50,672.67L132.00,672.66L132.50,672.65L133.00,672.64L133.50,672.63L134.00,672.62L134.50,672.60L135.00,672.59L135.50,672.58L136.00,672.57L136.50,672.56L137.00,672.54L137.50,672.53L138.00,672.51L138.50,672.50L139.00,672.48L139.50,672.47L140.00,672.45L140.50,672.43L141.00,672.42L141.50,672.40L142.00,672.38L142.50,672.36L143.00,672.34L143.50,672.32L144.00,672.30L144.50,672.28L145.00,672.26L145.50,672.23L146.00,672.21L146.50,672.18L147.00,672.16L147.50,672.13L148.00,672.10L148.50,672.07L149.00,672.05L149.50,672.01L150.00,671.98L150.50,671.95L151.00,671.92L151.50,671.88L152.00,671.85L152.50,671.81L153.00,671.77L153.50,671.73L154.00,671.69L154.50,671.65L155.00,671.60L155.50,671.56L156.00,671.51L156.50,671.46L157.00,671.41L157.50,671.36L158.00,671.31L158.50,671.26L159.00,671.20L159.50,671.14L160.00,671.08L160.50,671.02L161.00,670.95L161.50,670.89L162.00,670.82L162.50,670.75L163.00,670.67L163.50,670.60L164.00,670.52L164.50,670.44L165.00,670.36L165.50,670.27L166.00,670.18L166.50,670.09L167.00,670.00L167.50,669.90L168.00,669.80L168.50,669.70L169.00,669.59L169.50,669.48L170.00,669.37L170.50,669.25L171.00,669.13L171.50,669.00L172.00,668.88L172.50,668.74L173.00,668.61L173.50,668.47L174.00,668.32L174.50,668.18L175.00,668.02L175.50,667.87L176.00,667.70L176.50,667.54L177.00,667.37L177.50,667.19L178.00,667.01L178.50,666.82L179.00,666.63L179.50,666.43L180.00,666.23L180.50,666.02L181.00,665.81L181.50,665.59L182.00,665.36L182.50,665.13L183.00,664.90L183.50,664.65L184.00,664.40L184.50,664.15L185.00,663.88L185.50,663.61L186.00,663.34L186.50,663.06L187.00,662.77L187.50,662.47L188.00,662.17L188.50,661.86L189.00,661.54L189.50,661.22L190.00,660.88L190.50,660.55L191.00,660.20L191.50,659.85L192.00,659.49L192.50,659.12L193.00,658.75L193.50,658.36L194.00,657.98L194.50,657.58L195.00,657.18L195.50,656.77L196.00,656.35L196.50,655.93L197.00,655.49L197.50,655.06L198.00,654.61L198.50,654.16L199.00,653.71L199.50,653.24L200.00,652.78L200.50,652.30L201.00,651.82L201.50,651.34L202.00,650.85L202.50,650.36L203.00,649.86L203.50,649.36L204.00,648.85L204.50,648.34L205.00,647.83L205.50,647.31L206.00,646.80L206.50,646.28L207.00,645.76L207.50,645.24L208.00,644.71L208.50,644.19L209.00,643.67L209.50,643.15L210.00,642.63L210.50,642.12L211.00,641.61L211.50,641.10L212.00,640.59L212.50,640.09L213.00,639.59L213.50,639.10L214.00,638.62L214.50,638.14L215.00,637.67L215.50,637.21L216.00,636.76L216.50,636.32L217.00,635.88L217.50,635.46L218.00,635.05L218.50,634.65L219.00,634.27L219.50,633.90L220.00,633.54L220.50,633.20L221.00,632.87L221.50,632.55L222.00,632.26L222.50,631.98L223.00,631.71L223.50,631.47L224.00,631.24L224.50,631.03L225.00,630.84L225.50,630.67L226.00,630.52L226.50,630.38L227.00,630.27L227.50,630.18L228.00,630.11L228.50,630.06L229.00,630.03L229.50,630.02L230.00,630.03L230.50,630.06L231.00,630.12L231.50,630.19L232.00,630.29L232.50,630.40L233.00,630.54L233.50,630.69L234.00,630.87L234.50,631.06L235.00,631.28L235.50,631.51L236.00,631.77L236.50,632.04L237.00,632.33L237.50,632.63L238.00,632.96L238.50,633.30L239.00,633.65L239.50,634.02L240.00,634.41L240.50,634.81L241.00,635.23L241.50,635.65L242.00,636.09L242.50,636.54L243.00,637.01L243.50,637.48L244.00,637.97L244.50,638.46L245.00,638.96L245.50,639.47L246.00,639.99L246.50,640.51L247.00,641.04L247.50,641.58L248.00,642.12L248.50,642.66L249.00,643.21L249.50,643.76L250.00,644.31L250.50,644.87L251.00,645.42L251.50,645.98L252.00,646.54L252.50,647.10L253.00,647.65L253.50,648.21L254.00,648.76L254.50,649.32L255.00,649.87L255.50,650.41L256.00,650.96L256.50,651.49L257.00,652.03L257.50,652.56L258.00,653.09L258.50,653.61L259.00,654.13L259.50,654.64L260.00,655.14L260.50,655.64L261.00,656.14L261.50,656.62L262.00,657.11L262.50,657.58L263.00,658.05L263.50,658.51L264.00,658.96L264.50,659.41L265.00,659.85L265.50,660.28L266.00,660.71L266.50,661.13L267.00,661.54L267.50,661.94L268.00,662.34L268.50,662.73L269.00,663.11L269.50,663.48L270.00,663.85L270.50,664.21L271.00,664.57L271.50,664.91L272.00,665.25L272.50,665.59L273.00,665.91L273.50,666.23L274.00,666.55L274.50,666.86L275.00,667.16L275.50,667.45L276.00,667.74L276.50,668.02L277.00,668.30L277.50,668.57L278.00,668.84L278.50,669.10L279.00,669.35L279.50,669.60L280.00,669.85L280.50,670.09L281.00,670.33L281.50,670.56L282.00,670.79L282.50,671.01L283.00,671.23L283.50,671.44L284.00,671.66L284.50,671.86L285.00,672.07L285.50,672.27L286.00,672.47L286.50,672.66L287.00,672.86L287.50,673.05L288.00,673.24L288.50,673.42L289.00,673.61L289.50,673.79L290.00,673.97L290.50,674.15L291.00,674.32L291.50,674.50L292.00,674.67L292.50,674.84L293.00,675.01L293.50,675.18L294.00,675.35L294.50,675.51L295.00,675.68L295.50,675.85L296.00,676.01L296.50,676.17L297.00,676.33L297.50,676.49L298.00,676.65L298.50,676.81L299.00,676.97L299.50,677.13L300.00,677.28L300.50,677.44L301.00,677.59L301.50,677.74L302.00,677.89L302.50,678.04L303.00,678.19L303.50,678.33L304.00,678.48L304.50,678.62L305.00,678.76L305.50,678.90L306.00,679.03L306.50,679.17L307.00,679.30L307.50,679.43L308.00,679.56L308.50,679.68L309.00,679.80L309.50,679.92L310.00,680.04L310.50,680.15L311.00,680.26L311.50,680.37L312.00,680.48L312.50,680.58L313.00,680.68L313.50,680.78L314.00,680.87L314.50,680.97L315.00,681.06L315.50,681.14L316.00,681.23L316.50,681.31L317.00,681.39L317.50,681.46L318.00,681.54L318.50,681.61L319.00,681.68L319.50,681.74L320.00,681.81L320.50,681.87L321.00,681.93L321.50,681.99L322.00,682.04L322.50,682.10L323.00,682.15L323.50,682.20L324.00,682.25L324.50,682.29L325.00,682.34L325.50,682.38L326.00,682.42L326.50,682.46L327.00,682.50L327.50,682.54L328.00,682.57L328.50,682.61L329.00,682.64L329.50,682.67L330.00,682.70L330.50,682.73L331.00,682.76L331.50,682.79L332.00,682.82L332.50,682.84L333.00,682.87L333.50,682.89L334.00,682.91L334.50,682.93L335.00,682.95L335.50,682.97L336.00,682.99L336.50,683.01L337.00,683.03L337.50,683.05L338.00,683.07L338.50,683.08L339.00,683.10L339.50,683.11L340.00,683.13L340.50,683.14L341.00,683.16L341.50,683.17L342.00,683.18L342.50,683.19L343.00,683.21L343.50,683.22L344.00,683.23L344.50,683.24L345.00,683.25L345.50,683.26L346.00,683.27L346.50,683.28L347.00,683.29L347.50,683.30L348.00,683.31L348.50,683.31L349.00,683.32L349.50,683.33L350.00,683.34L350.50,683.34L351.00,683.35L351.50,683.36L352.00,683.37L352.50,683.37L353.00,683.38L353.50,683.38L354.00,683.39L354.50,683.40L355.00,683.40L355.50,683.41L356.00,683.41L356.50,683.42L357.00,683.42L357.50,683.43L358.00,683.43L358.50,683.43L359.00,683.44L359.50,683.44L360.00,683.45L360.50,683.45L361.00,683.45L361.50,683.46L362.00,683.46L362.50,683.46L363.00,683.47L363.50,683.47L364.00,683.47L364.50,683.48L365.00,683.48L365.50,683.48L366.00,683.49L366.50,683.49L367.00,683.49L367.50,683.49L368.00,683.50L368.50,683.50L369.00,683.50L369.50,683.50L370.00,683.51L370.50,683.51L371.00,683.51L371.50,683.51L372.00,683.52L372.50,683.52L373.00,683.52L373.50,683.52L374.00,683.52L374.50,683.52L375.00,683.53L375.50,683.53L376.00,683.53L376.50,683.53L377.00,683.53L377.50,683.53L378.00,683.54L378.50,683.54L379.00,683.54L379.50,683.54L380.00,683.54L380.50,683.54L381.00,683.54L381.50,683.55L382.00,683.55L382.50,683.55L383.00,683.55L383.50,683.55L384.00,683.55L384.50,683.55L385.00,683.55L385.50,683.55L386.00,683.55L386.50,683.56L387.00,683.56L387.50,683.56L388.00,683.56L388.50,683.56L389.00,683.56L389.50,683.56L390.00,683.56L390.50,683.56L391.00,683.56L391.50,683.56L392.00,683.57L392.50,683.57L393.00,683.57L393.50,683.57L394.00,683.57L394.50,683.57L395.00,683.57L395.50,683.57L396.00,683.57L396.50,683.57L397.00,683.57L397.50,683.57L398.00,683.57L398.50,683.57L399.00,683.57L399.50,683.57L400.00,683.58L400.50,683.58L401.00,683.58L401.50,683.58L402.00,683.58L402.50,683.58L403.00,683.58L403.50,683.58L404.00,683.58L404.50,683.58L405.00,683.58L405.50,683.58L406.00,683.58L406.50,683.58L407.00,683.58L407.50,683.58L408.00,683.58L408.50,683.58L409.00,683.58L409.50,683.58L410.00,683.58L410.50,683.58L411.00,683.58L411.50,683.58L412.00,683.58L412.50,683.58L413.00,683.59L413.50,683.59L414.00,683.59L414.50,683.59L415.00,683.59L415.50,683.59L416.00,683.59L416.50,683.59L417.00,683.59L417.50,683.59L418.00,683.59L418.50,683.59L419.00,683.59L419.50,683.59L420.00,683.59L420.50,683.59L421.00,683.59L421.50,683.59L422.00,683.59L422.50,683.59L423.00,683.59L423.50,683.59L424.00,683.59L424.50,683.59L425.00,683.59L425.50,683.59L426.00,683.59L426.50,683.59L427.00,683.59L427.50,683.59L428.00,683.59L428.50,683.59L429.00,683.59L429.50,683.59L430.00,683.59L430.50,683.59L431.00,683.59L431.50,683.59L432.00,683.59L432.50,683.59L433.00,683.59L433.50,683.59L434.00,683.59L434.50,683.59L435.00,683.59L435.50,683.59L436.00,683.59L436.50,683.59L437.00,683.59L437.50,683.59L438.00,683.59L438.50,683.59L439.00,683.59L439.50,683.60L440.00,683.60L440.50,683.60L441.00,683.60L441.50,683.60L442.00,683.60L442.50,683.60L443.00,683.60L443.50,683.60L444.00,683.60L444.50,683.60L445.00,683.60L445.50,683.60L446.00,683.60L446.50,683.60L447.00,683.60L447.50,683.60L448.00,683.60L448.50,683.60L449.00,683.60L449.50,683.60L450.00,683.60L450.50,683.60L451.00,683.60L451.50,683.60L452.00,683.60L452.50,683.60L453.00,683.60L453.50,683.60L454.00,683.60L454.50,683.60L455.00,683.60L455.50,683.60L456.00,683.60L456.50,683.60L457.00,683.60L457.50,683.60L458.00,683.60L458.50,683.60L459.00,683.60L459.50,683.60L460.00,683.60L460.50,683.60L461.00,683.60L461.50,683.60L462.00,683.60L462.50,683.60L463.00,683.60L463.50,683.60L464.00,683.60L464.50,683.60L465.00,683.60" stroke="#008000" stroke-width="1.4" fill="none" stroke-linejoin="round"/><path d="M61.50,673.00L62.00,673.00L62.50,673.00L63.00,673.00L63.50,673.00L64.00,673.00L64.50,673.00L65.00,673.00L65.50,673.00L66.00,673.00L66.50,673.00L67.00,673.00L67.50,673.00L68.00,673.00L68.50,673.00L69.00,673.00L69.50,673.00L70.00,673.00L70.50,673.00L71.00,673.00L71.50,673.00L72.00,673.00L72.50,673.00L73.00,673.00L73.50,673.00L74.00,673.00L74.50,673.00L75.00,673.00L75.50,673.00L76.00,673.00L76.50,673.00L77.00,673.00L77.50,673.00L78.00,673.00L78.50,673.00L79.00,673.00L79.50,673.00L80.00,673.00L80.50,673.00L81.00,673.00L81.50,673.00L82.00,673.00L82.50,673.00L83.00,673.00L83.50,673.00L84.00,673.00L84.50,673.00L85.00,673.00L85.50,673.00L86.00,673.00L86.50,673.00L87.00,673.00L87.50,673.00L88.00,673.00L88.50,673.00L89.00,673.00L89.50,673.00L90.00,673.01L90.50,673.01L91.00,673.01L91.50,673.01L92.00,673.01L92.50,673.01L93.00,673.01L93.50,673.01L94.00,673.01L94.50,673.01L95.00,673.01L95.50,673.01L96.00,673.01L96.50,673.01L97.00,673.01L97.50,673.01L98.00,673.01L98.50,673.01L99.00,673.01L99.50,673.01L100.00,673.01L100.50,673.01L101.00,673.01L101.50,673.01L102.00,673.01L102.50,673.01L103.00,673.01L103.50,673.01L104.00,673.01L104.50,673.01L105.00,673.01L105.50,673.01L106.00,673.02L106.50,673.02L107.00,673.02L107.50,673.02L108.00,673.02L108.50,673.02L109.00,673.02L109.50,673.02L110.00,673.02L110.50,673.02L111.00,673.02L111.50,673.02L112.00,673.02L112.50,673.02L113.00,673.02L113.50,673.02L114.00,673.03L114.50,673.03L115.00,673.03L115.50,673.03L116.00,673.03L116.50,673.03L117.00,673.03L117.50,673.03L118.00,673.03L118.50,673.03L119.00,673.03L119.50,673.03L120.00,673.04L120.50,673.04L121.00,673.04L121.50,673.04L122.00,673.04L122.50,673.04L123.00,673.04L123.50,673.04L124.00,673.04L124.50,673.05L125.00,673.05L125.50,673.05L126.00,673.05L126.50,673.05L127.00,673.05L127.50,673.05L128.00,673.06L128.50,673.06L129.00,673.06L129.50,673.06L130.00,673.06L130.50,673.06L131.00,673.06L131.50,673.07L132.00,673.07L132.50,673.07L133.00,673.07L133.50,673.07L134.00,673.07L134.50,673.08L135.00,673.08L135.50,673.08L136.00,673.08L136.50,673.08L137.00,673.09L137.50,673.09L138.00,673.09L138.50,673.09L139.00,673.09L139.50,673.10L140.00,673.10L140.50,673.10L141.00,673.10L141.50,673.10L142.00,673.11L142.50,673.11L143.00,673.11L143.50,673.11L144.00,673.12L144.50,673.12L145.00,673.12L145.50,673.12L146.00,673.12L146.50,673.13L147.00,673.13L147.50,673.13L148.00,673.13L148.50,673.14L149.00,673.14L149.50,673.14L150.00,673.14L150.50,673.15L151.00,673.15L151.50,673.15L152.00,673.15L152.50,673.15L153.00,673.16L153.50,673.16L154.00,673.16L154.50,673.16L155.00,673.16L155.50,673.16L156.00,673.16L156.50,673.17L157.00,673.17L157.50,673.17L158.00,673.17L158.50,673.17L159.00,673.17L159.50,673.17L160.00,673.17L160.50,673.17L161.00,673.17L161.50,673.16L162.00,673.16L162.50,673.16L163.00,673.16L163.50,673.15L164.00,673.15L164.50,673.14L165.00,673.14L165.50,673.13L166.00,673.12L166.50,673.12L167.00,673.11L167.50,673.10L168.00,673.09L168.50,673.07L169.00,673.06L169.50,673.04L170.00,673.03L170.50,673.01L171.00,672.99L171.50,672.97L172.00,672.94L172.50,672.92L173.00,672.89L173.50,672.86L174.00,672.82L174.50,672.79L175.00,672.75L175.50,672.70L176.00,672.66L176.50,672.61L177.00,672.55L177.50,672.50L178.00,672.44L178.50,672.37L179.00,672.30L179.50,672.22L180.00,672.14L180.50,672.06L181.00,671.97L181.50,671.87L182.00,671.77L182.50,671.66L183.00,671.54L183.50,671.42L184.00,671.29L184.50,671.15L185.00,671.01L185.50,670.86L186.00,670.70L186.50,670.53L187.00,670.36L187.50,670.17L188.00,669.98L188.50,669.79L189.00,669.58L189.50,669.37L190.00,669.15L190.50,668.92L191.00,668.68L191.50,668.44L192.00,668.19L192.50,667.93L193.00,667.66L193.50,667.40L194.00,667.12L194.50,666.84L195.00,666.56L195.50,666.27L196.00,665.98L196.50,665.69L197.00,665.40L197.50,665.11L198.00,664.82L198.50,664.53L199.00,664.24L199.50,663.96L200.00,663.68L200.50,663.41L201.00,663.14L201.50,662.88L202.00,662.63L202.50,662.39L203.00,662.17L203.50,661.95L204.00,661.75L204.50,661.56L205.00,661.39L205.50,661.23L206.00,661.09L206.50,660.97L207.00,660.86L207.50,660.78L208.00,660.71L208.50,660.66L209.00,660.64L209.50,660.63L210.00,660.65L210.50,660.68L211.00,660.73L211.50,660.81L212.00,660.90L212.50,661.02L213.00,661.15L213.50,661.30L214.00,661.47L214.50,661.66L215.00,661.86L215.50,662.08L216.00,662.31L216.50,662.56L217.00,662.82L217.50,663.09L218.00,663.37L218.50,663.66L219.00,663.96L219.50,664.27L220.00,664.58L220.50,664.90L221.00,665.22L221.50,665.54L222.00,665.87L222.50,666.20L223.00,666.53L223.50,666.85L224.00,667.18L224.50,667.50L225.00,667.82L225.50,668.14L226.00,668.45L226.50,668.75L227.00,669.05L227.50,669.35L228.00,669.63L228.50,669.91L229.00,670.19L229.50,670.45L230.00,670.71L230.50,670.96L231.00,671.20L231.50,671.43L232.00,671.66L232.50,671.88L233.00,672.09L233.50,672.29L234.00,672.48L234.50,672.66L235.00,672.84L235.50,673.01L236.00,673.17L236.50,673.33L237.00,673.47L237.50,673.61L238.00,673.75L238.50,673.87L239.00,674.00L239.50,674.11L240.00,674.22L240.50,674.33L241.00,674.42L241.50,674.52L242.00,674.61L242.50,674.69L243.00,674.77L243.50,674.85L244.00,674.92L244.50,674.99L245.00,675.06L245.50,675.12L246.00,675.18L246.50,675.23L247.00,675.29L247.50,675.34L248.00,675.38L248.50,675.43L249.00,675.47L249.50,675.52L250.00,675.56L250.50,675.59L251.00,675.63L251.50,675.66L252.00,675.70L252.50,675.73L253.00,675.76L253.50,675.79L254.00,675.82L254.50,675.85L255.00,675.88L255.50,675.90L256.00,675.93L256.50,675.95L257.00,675.98L257.50,676.00L258.00,676.02L258.50,676.05L259.00,676.07L259.50,676.09L260.00,676.11L260.50,676.13L261.00,676.15L261.50,676.17L262.00,676.19L262.50,676.21L263.00,676.23L263.50,676.25L264.00,676.27L264.50,676.29L265.00,676.31L265.50,676.33L266.00,676.35L266.50,676.37L267.00,676.39L267.50,676.41L268.00,676.43L268.50,676.45L269.00,676.48L269.50,676.50L270.00,676.52L270.50,676.54L271.00,676.56L271.50,676.58L272.00,676.60L272.50,676.63L273.00,676.65L273.50,676.67L274.00,676.70L274.50,676.72L275.00,676.74L275.50,676.77L276.00,676.80L276.50,676.82L277.00,676.85L277.50,676.88L278.00,676.90L278.50,676.93L279.00,676.96L279.50,676.99L280.00,677.03L280.50,677.06L281.00,677.09L281.50,677.13L282.00,677.16L282.50,677.20L283.00,677.23L283.50,677.27L284.00,677.31L284.50,677.35L285.00,677.40L285.50,677.44L286.00,677.49L286.50,677.53L287.00,677.58L287.50,677.63L288.00,677.68L288.50,677.74L289.00,677.79L289.50,677.85L290.00,677.91L290.50,677.96L291.00,678.03L291.50,678.09L292.00,678.16L292.50,678.22L293.00,678.29L293.50,678.36L294.00,678.43L294.50,678.51L295.00,678.58L295.50,678.66L296.00,678.74L296.50,678.82L297.00,678.90L297.50,678.99L298.00,679.07L298.50,679.16L299.00,679.24L299.50,679.33L300.00,679.42L300.50,679.51L301.00,679.60L301.50,679.69L302.00,679.79L302.50,679.88L303.00,679.97L303.50,680.06L304.00,680.16L304.50,680.25L305.00,680.34L305.50,680.43L306.00,680.52L306.50,680.61L307.00,680.70L307.50,680.79L308.00,680.87L308.50,680.96L309.00,681.04L309.50,681.13L310.00,681.21L310.50,681.29L311.00,681.36L311.50,681.44L312.00,681.52L312.50,681.59L313.00,681.66L313.50,681.73L314.00,681.80L314.50,681.86L315.00,681.92L315.50,681.99L316.00,682.04L316.50,682.10L317.00,682.16L317.50,682.21L318.00,682.26L318.50,682.31L319.00,682.36L319.50,682.41L320.00,682.46L320.50,682.50L321.00,682.54L321.50,682.58L322.00,682.62L322.50,682.66L323.00,682.69L323.50,682.73L324.00,682.76L324.50,682.79L325.00,682.82L325.50,682.85L326.00,682.88L326.50,682.91L327.00,682.93L327.50,682.96L328.00,682.98L328.50,683.01L329.00,683.03L329.50,683.05L330.00,683.07L330.50,683.09L331.00,683.11L331.50,683.13L332.00,683.14L332.50,683.16L333.00,683.17L333.50,683.19L334.00,683.20L334.50,683.22L335.00,683.23L335.50,683.25L336.00,683.26L336.50,683.27L337.00,683.28L337.50,683.29L338.00,683.30L338.50,683.31L339.00,683.32L339.50,683.33L340.00,683.34L340.50,683.35L341.00,683.36L341.50,683.37L342.00,683.37L342.50,683.38L343.00,683.39L343.50,683.39L344.00,683.40L344.50,683.41L345.00,683.41L345.50,683.42L346.00,683.42L346.50,683.43L347.00,683.44L347.50,683.44L348.00,683.45L348.50,683.45L349.00,683.45L349.50,683.46L350.00,683.46L350.50,683.47L351.00,683.47L351.50,683.47L352.00,683.48L352.50,683.48L353.00,683.49L353.50,683.49L354.00,683.49L354.50,683.49L355.00,683.50L355.50,683.50L356.00,683.50L356.50,683.51L357.00,683.51L357.50,683.51L358.00,683.51L358.50,683.52L359.00,683.52L359.50,683.52L360.00,683.52L360.50,683.52L361.00,683.53L361.50,683.53L362.00,683.53L362.50,683.53L363.00,683.53L363.50,683.54L364.00,683.54L364.50,683.54L365.00,683.54L365.50,683.54L366.00,683.54L366.50,683.54L367.00,683.55L367.50,683.55L368.00,683.55L368.50,683.55L369.00,683.55L369.50,683.55L370.00,683.55L370.50,683.55L371.00,683.56L371.50,683.56L372.00,683.56L372.50,683.56L373.00,683.56L373.50,683.56L374.00,683.56L374.50,683.56L375.00,683.56L375.50,683.56L376.00,683.57L376.50,683.57L377.00,683.57L377.50,683.57L378.00,683.57L378.50,683.57L379.00,683.57L379.50,683.57L380.00,683.57L380.50,683.57L381.00,683.57L381.50,683.57L382.00,683.57L382.50,683.57L383.00,683.57L383.50,683.58L384.00,683.58L384.50,683.58L385.00,683.58L385.50,683.58L386.00,683.58L386.50,683.58L387.00,683.58L387.50,683.58L388.00,683.58L388.50,683.58L389.00,683.58L389.50,683.58L390.00,683.58L390.50,683.58L391.00,683.58L391.50,683.58L392.00,683.58L392.50,683.58L393.00,683.58L393.50,683.58L394.00,683.58L394.50,683.58L395.00,683.58L395.50,683.59L396.00,683.59L396.50,683.59L397.00,683.59L397.50,683.59L398.00,683.59L398.50,683.59L399.00,683.59L399.50,683.59L400.00,683.59L400.50,683.59L401.00,683.59L401.50,683.59L402.00,683.59L402.50,683.59L403.00,683.59L403.50,683.59L404.00,683.59L404.50,683.59L405.00,683.59L405.50,683.59L406.00,683.59L406.50,683.59L407.00,683.59L407.50,683.59L408.00,683.59L408.50,683.59L409.00,683.59L409.50,683.59L410.00,683.59L410.50,683.59L411.00,683.59L411.50,683.59L412.00,683.59L412.50,683.59L413.00,683.59L413.50,683.59L414.00,683.59L414.50,683.59L415.00,683.59L415.50,683.59L416.00,683.59L416.50,683.59L417.00,683.59L417.50,683.59L418.00,683.59L418.50,683.59L419.00,683.59L419.50,683.59L420.00,683.59L420.50,683.59L421.00,683.59L421.50,683.59L422.00,683.60L422.50,683.60L423.00,683.60L423.50,683.60L424.00,683.60L424.50,683.60L425.00,683.60L425.50,683.60L426.00,683.60L426.50,683.60L427.00,683.60L427.50,683.60L428.00,683.60L428.50,683.60L429.00,683.60L429.50,683.60L430.00,683.60L430.50,683.60L431.00,683.60L431.50,683.60L432.00,683.60L432.50,683.60L433.00,683.60L433.50,683.60L434.00,683.60L434.50,683.60L435.00,683.60L435.50,683.60L436.00,683.60L436.50,683.60L437.00,683.60L437.50,683.60L438.00,683.60L438.50,683.60L439.00,683.60L439.50,683.60L440.00,683.60L440.50,683.60L441.00,683.60L441.50,683.60L442.00,683.60L442.50,683.60L443.00,683.60L443.50,683.60L444.00,683.60L444.50,683.60L445.00,683.60L445.50,683.60L446.00,683.60L446.50,683.60L447.00,683.60L447.50,683.60L448.00,683.60L448.50,683.60L449.00,683.60L449.50,683.60L450.00,683.60L450.50,683.60L451.00,683.60L451.50,683.60L452.00,683.60L452.50,683.60L453.00,683.60L453.50,683.60L454.00,683.60L454.50,683.60L455.00,683.60L455.50,683.60L456.00,683.60L456.50,683.60L457.00,683.60L457.50,683.60L458.00,683.60L458.50,683.60L459.00,683.60L459.50,683.60L460.00,683.60L460.50,683.60L461.00,683.60L461.50,683.60L462.00,683.60L462.50,683.60L463.00,683.60L463.50,683.60L464.00,683.60L464.50,683.60L465.00,683.60" stroke="#000080" stroke-width="1.4" fill="none" stroke-linejoin="round"/><path d="M61.50,672.95L62.00,672.95L62.50,672.94L63.00,672.94L63.50,672.94L64.00,672.94L64.50,672.94L65.00,672.93L65.50,672.93L66.00,672.93L66.50,672.93L67.00,672.92L67.50,672.92L68.00,672.92L68.50,672.91L69.00,672.91L69.50,672.91L70.00,672.90L70.50,672.90L71.00,672.90L71.50,672.89L72.00,672.89L72.50,672.89L73.00,672.88L73.50,672.88L74.00,672.87L74.50,672.87L75.00,672.86L75.50,672.86L76.00,672.85L76.50,672.85L77.00,672.84L77.50,672.84L78.00,672.83L78.50,672.83L79.00,672.82L79.50,672.81L80.00,672.81L80.50,672.80L81.00,672.79L81.50,672.78L82.00,672.78L82.50,672.77L83.00,672.76L83.50,672.75L84.00,672.74L84.50,672.74L85.00,672.73L85.50,672.72L86.00,672.71L86.50,672.70L87.00,672.69L87.50,672.68L88.00,672.66L88.50,672.65L89.00,672.64L89.50,672.63L90.00,672.62L90.50,672.60L91.00,672.59L91.50,672.58L92.00,672.56L92.50,672.55L93.00,672.53L93.50,672.52L94.00,672.50L94.50,672.49L95.00,672.47L95.50,672.45L96.00,672.44L96.50,672.42L97.00,672.40L97.50,672.38L98.00,672.36L98.50,672.34L99.00,672.32L99.50,672.30L100.00,672.28L100.50,672.25L101.00,672.23L101.50,672.21L102.00,672.18L102.50,672.16L103.00,672.13L103.50,672.11L104.00,672.08L104.50,672.05L105.00,672.03L105.50,672.00L106.00,671.97L106.50,671.94L107.00,671.91L107.50,671.88L108.00,671.84L108.50,671.81L109.00,671.78L109.50,671.74L110.00,671.71L110.50,671.67L111.00,671.64L111.50,671.60L112.00,671.56L112.50,671.52L113.00,671.48L113.50,671.44L114.00,671.40L114.50,671.36L115.00,671.32L115.50,671.28L116.00,671.23L116.50,671.19L117.00,671.14L117.50,671.10L118.00,671.05L118.50,671.00L119.00,670.95L119.50,670.90L120.00,670.85L120.50,670.80L121.00,670.75L121.50,670.70L122.00,670.64L122.50,670.59L123.00,670.54L123.50,670.48L124.00,670.43L124.50,670.37L125.00,670.31L125.50,670.25L126.00,670.20L126.50,670.14L127.00,670.08L127.50,670.02L128.00,669.96L128.50,669.90L129.00,669.84L129.50,669.77L130.00,669.71L130.50,669.65L131.00,669.59L131.50,669.52L132.00,669.46L132.50,669.39L133.00,669.33L133.50,669.27L134.00,669.20L134.50,669.14L135.00,669.07L135.50,669.01L136.00,668.94L136.50,668.88L137.00,668.81L137.50,668.75L138.00,668.68L138.50,668.62L139.00,668.55L139.50,668.49L140.00,668.42L140.50,668.36L141.00,668.30L141.50,668.23L142.00,668.17L142.50,668.11L143.00,668.05L143.50,667.99L144.00,667.93L144.50,667.87L145.00,667.81L145.50,667.75L146.00,667.69L146.50,667.64L147.00,667.58L147.50,667.53L148.00,667.48L148.50,667.42L149.00,667.37L149.50,667.32L150.00,667.27L150.50,667.23L151.00,667.18L151.50,667.14L152.00,667.09L152.50,667.05L153.00,667.01L153.50,666.97L154.00,666.93L154.50,666.90L155.00,666.86L155.50,666.83L156.00,666.80L156.50,666.77L157.00,666.74L157.50,666.72L158.00,666.69L158.50,666.67L159.00,666.65L159.50,666.63L160.00,666.62L160.50,666.60L161.00,666.59L161.50,666.58L162.00,666.57L162.50,666.56L163.00,666.56L163.50,666.56L164.00,666.55L164.50,666.56L165.00,666.56L165.50,666.56L166.00,666.57L166.50,666.58L167.00,666.59L167.50,666.61L168.00,666.62L168.50,666.64L169.00,666.66L169.50,666.68L170.00,666.70L170.50,666.73L171.00,666.75L171.50,666.78L172.00,666.81L172.50,666.84L173.00,666.88L173.50,666.91L174.00,666.95L174.50,666.99L175.00,667.03L175.50,667.08L176.00,667.12L176.50,667.17L177.00,667.21L177.50,667.26L178.00,667.31L178.50,667.37L179.00,667.42L179.50,667.47L180.00,667.53L180.50,667.59L181.00,667.65L181.50,667.71L182.00,667.77L182.50,667.83L183.00,667.90L183.50,667.96L184.00,668.03L184.50,668.09L185.00,668.16L185.50,668.23L186.00,668.30L186.50,668.37L187.00,668.44L187.50,668.51L188.00,668.59L188.50,668.66L189.00,668.73L189.50,668.81L190.00,668.88L190.50,668.96L191.00,669.03L191.50,669.11L192.00,669.19L192.50,669.26L193.00,669.34L193.50,669.42L194.00,669.50L194.50,669.58L195.00,669.65L195.50,669.73L196.00,669.81L196.50,669.89L197.00,669.97L197.50,670.05L198.00,670.13L198.50,670.21L199.00,670.29L199.50,670.36L200.00,670.44L200.50,670.52L201.00,670.60L201.50,670.68L202.00,670.76L202.50,670.84L203.00,670.91L203.50,670.99L204.00,671.07L204.50,671.14L205.00,671.22L205.50,671.30L206.00,671.37L206.50,671.45L207.00,671.52L207.50,671.60L208.00,671.67L208.50,671.74L209.00,671.82L209.50,671.89L210.00,671.96L210.50,672.03L211.00,672.10L211.50,672.17L212.00,672.24L212.50,672.31L213.00,672.38L213.50,672.45L214.00,672.52L214.50,672.58L215.00,672.65L215.50,672.71L216.00,672.78L216.50,672.84L217.00,672.90L217.50,672.97L218.00,673.03L218.50,673.09L219.00,673.15L219.50,673.21L220.00,673.27L220.50,673.33L221.00,673.38L221.50,673.44L222.00,673.50L222.50,673.55L223.00,673.61L223.50,673.66L224.00,673.71L224.50,673.77L225.00,673.82L225.50,673.87L226.00,673.92L226.50,673.97L227.00,674.02L227.50,674.07L228.00,674.11L228.50,674.16L229.00,674.21L229.50,674.25L230.00,674.30L230.50,674.34L231.00,674.38L231.50,674.43L232.00,674.47L232.50,674.51L233.00,674.55L233.50,674.59L234.00,674.63L234.50,674.67L235.00,674.71L235.50,674.75L236.00,674.78L236.50,674.82L237.00,674.86L237.50,674.89L238.00,674.93L238.50,674.96L239.00,675.00L239.50,675.03L240.00,675.06L240.50,675.10L241.00,675.13L241.50,675.16L242.00,675.19L242.50,675.22L243.00,675.25L243.50,675.28L244.00,675.31L244.50,675.34L245.00,675.37L245.50,675.39L246.00,675.42L246.50,675.45L247.00,675.47L247.50,675.50L248.00,675.53L248.50,675.55L249.00,675.58L249.50,675.60L250.00,675.63L250.50,675.65L251.00,675.67L251.50,675.70L252.00,675.72L252.50,675.74L253.00,675.77L253.50,675.79L254.00,675.81L254.50,675.83L255.00,675.85L255.50,675.88L256.00,675.90L256.50,675.92L257.00,675.94L257.50,675.96L258.00,675.98L258.50,676.00L259.00,676.02L259.50,676.04L260.00,676.06L260.50,676.09L261.00,676.11L261.50,676.13L262.00,676.15L262.50,676.17L263.00,676.19L263.50,676.21L264.00,676.23L264.50,676.25L265.00,676.27L265.50,676.29L266.00,676.31L266.50,676.33L267.00,676.35L267.50,676.37L268.00,676.39L268.50,676.41L269.00,676.44L269.50,676.46L270.00,676.48L270.50,676.50L271.00,676.52L271.50,676.55L272.00,676.57L272.50,676.59L273.00,676.62L273.50,676.64L274.00,676.67L274.50,676.69L275.00,676.72L275.50,676.74L276.00,676.77L276.50,676.80L277.00,676.82L277.50,676.85L278.00,676.88L278.50,676.91L279.00,676.94L279.50,676.97L280.00,677.01L280.50,677.04L281.00,677.07L281.50,677.11L282.00,677.14L282.50,677.18L283.00,677.22L283.50,677.26L284.00,677.30L284.50,677.34L285.00,677.38L285.50,677.43L286.00,677.47L286.50,677.52L287.00,677.57L287.50,677.62L288.00,677.67L288.50,677.72L289.00,677.78L289.50,677.84L290.00,677.90L290.50,677.96L291.00,678.02L291.50,678.08L292.00,678.15L292.50,678.21L293.00,678.28L293.50,678.35L294.00,678.43L294.50,678.50L295.00,678.58L295.50,678.65L296.00,678.73L296.50,678.81L297.00,678.90L297.50,678.98L298.00,679.07L298.50,679.15L299.00,679.24L299.50,679.33L300.00,679.42L300.50,679.51L301.00,679.60L301.50,679.69L302.00,679.78L302.50,679.87L303.00,679.97L303.50,680.06L304.00,680.15L304.50,680.24L305.00,680.34L305.50,680.43L306.00,680.52L306.50,680.61L307.00,680.70L307.50,680.78L308.00,680.87L308.50,680.96L309.00,681.04L309.50,681.12L310.00,681.20L310.50,681.28L311.00,681.36L311.50,681.44L312.00,681.51L312.50,681.59L313.00,681.66L313.50,681.73L314.00,681.79L314.50,681.86L315.00,681.92L315.50,681.98L316.00,682.04L316.50,682.10L317.00,682.16L317.50,682.21L318.00,682.26L318.50,682.31L319.00,682.36L319.50,682.41L320.00,682.45L320.50,682.50L321.00,682.54L321.50,682.58L322.00,682.62L322.50,682.66L323.00,682.69L323.50,682.73L324.00,682.76L324.50,682.79L325.00,682.82L325.50,682.85L326.00,682.88L326.50,682.91L327.00,682.93L327.50,682.96L328.00,682.98L328.50,683.01L329.00,683.03L329.50,683.05L330.00,683.07L330.50,683.09L331.00,683.11L331.50,683.13L332.00,683.14L332.50,683.16L333.00,683.17L333.50,683.19L334.00,683.20L334.50,683.22L335.00,683.23L335.50,683.24L336.00,683.26L336.50,683.27L337.00,683.28L337.50,683.29L338.00,683.30L338.50,683.31L339.00,683.32L339.50,683.33L340.00,683.34L340.50,683.35L341.00,683.36L341.50,683.36L342.00,683.37L342.50,683.38L343.00,683.39L343.50,683.39L344.00,683.40L344.50,683.41L345.00,683.41L345.50,683.42L346.00,683.42L346.50,683.43L347.00,683.44L347.50,683.44L348.00,683.44L348.50,683.45L349.00,683.45L349.50,683.46L350.00,683.46L350.50,683.47L351.00,683.47L351.50,683.47L352.00,683.48L352.50,683.48L353.00,683.49L353.50,683.49L354.00,683.49L354.50,683.49L355.00,683.50L355.50,683.50L356.00,683.50L356.50,683.51L357.00,683.51L357.50,683.51L358.00,683.51L358.50,683.52L359.00,683.52L359.50,683.52L360.00,683.52L360.50,683.52L361.00,683.53L361.50,683.53L362.00,683.53L362.50,683.53L363.00,683.53L363.50,683.54L364.00,683.54L364.50,683.54L365.00,683.54L365.50,683.54L366.00,683.54L366.50,683.54L367.00,683.55L367.50,683.55L368.00,683.55L368.50,683.55L369.00,683.55L369.50,683.55L370.00,683.55L370.50,683.55L371.00,683.56L371.50,683.56L372.00,683.56L372.50,683.56L373.00,683.56L373.50,683.56L374.00,683.56L374.50,683.56L375.00,683.56L375.50,683.56L376.00,683.57L376.50,683.57L377.00,683.57L377.50,683.57L378.00,683.57L378.50,683.57L379.00,683.57L379.50,683.57L380.00,683.57L380.50,683.57L381.00,683.57L381.50,683.57L382.00,683.57L382.50,683.57L383.00,683.57L383.50,683.58L384.00,683.58L384.50,683.58L385.00,683.58L385.50,683.58L386.00,683.58L386.50,683.58L387.00,683.58L387.50,683.58L388.00,683.58L388.50,683.58L389.00,683.58L389.50,683.58L390.00,683.58L390.50,683.58L391.00,683.58L391.50,683.58L392.00,683.58L392.50,683.58L393.00,683.58L393.50,683.58L394.00,683.58L394.50,683.58L395.00,683.58L395.50,683.59L396.00,683.59L396.50,683.59L397.00,683.59L397.50,683.59L398.00,683.59L398.50,683.59L399.00,683.59L399.50,683.59L400.00,683.59L400.50,683.59L401.00,683.59L401.50,683.59L402.00,683.59L402.50,683.59L403.00,683.59L403.50,683.59L404.00,683.59L404.50,683.59L405.00,683.59L405.50,683.59L406.00,683.59L406.50,683.59L407.00,683.59L407.50,683.59L408.00,683.59L408.50,683.59L409.00,683.59L409.50,683.59L410.00,683.59L410.50,683.59L411.00,683.59L411.50,683.59L412.00,683.59L412.50,683.59L413.00,683.59L413.50,683.59L414.00,683.59L414.50,683.59L415.00,683.59L415.50,683.59L416.00,683.59L416.50,683.59L417.00,683.59L417.50,683.59L418.00,683.59L418.50,683.59L419.00,683.59L419.50,683.59L420.00,683.59L420.50,683.59L421.00,683.59L421.50,683.59L422.00,683.60L422.50,683.60L423.00,683.60L423.50,683.60L424.00,683.60L424.50,683.60L425.00,683.60L425.50,683.60L426.00,683.60L426.50,683.60L427.00,683.60L427.50,683.60L428.00,683.60L428.50,683.60L429.00,683.60L429.50,683.60L430.00,683.60L430.50,683.60L431.00,683.60L431.50,683.60L432.00,683.60L432.50,683.60L433.00,683.60L433.50,683.60L434.00,683.60L434.50,683.60L435.00,683.60L435.50,683.60L436.00,683.60L436.50,683.60L437.00,683.60L437.50,683.60L438.00,683.60L438.50,683.60L439.00,683.60L439.50,683.60L440.00,683.60L440.50,683.60L441.00,683.60L441.50,683.60L442.00,683.60L442.50,683.60L443.00,683.60L443.50,683.60L444.00,683.60L444.50,683.60L445.00,683.60L445.50,683.60L446.00,683.60L446.50,683.60L447.00,683.60L447.50,683.60L448.00,683.60L448.50,683.60L449.00,683.60L449.50,683.60L450.00,683.60L450.50,683.60L451.00,683.60L451.50,683.60L452.00,683.60L452.50,683.60L453.00,683.60L453.50,683.60L454.00,683.60L454.50,683.60L455.00,683.60L455.50,683.60L456.00,683.60L456.50,683.60L457.00,683.60L457.50,683.60L458.00,683.60L458.50,683.60L459.00,683.60L459.50,683.60L460.00,683.60L460.50,683.60L461.00,683.60L461.50,683.60L462.00,683.60L462.50,683.60L463.00,683.60L463.50,683.60L464.00,683.60L464.50,683.60L465.00,683.60" stroke="#8000ff" stroke-width="1.4" fill="none" stroke-linejoin="round"/><path d="M61.50,673.00L62.00,673.00L62.50,673.00L63.00,673.00L63.50,673.00L64.00,673.00L64.50,673.00L65.00,673.00L65.50,673.00L66.00,673.00L66.50,673.00L67.00,673.00L67.50,673.00L68.00,673.00L68.50,673.00L69.00,673.00L69.50,673.00L70.00,673.00L70.50,673.00L71.00,673.00L71.50,673.00L72.00,673.00L72.50,673.00L73.00,673.00L73.50,673.00L74.00,673.00L74.50,673.00L75.00,673.00L75.50,673.00L76.00,673.00L76.50,673.00L77.00,673.00L77.50,673.00L78.00,673.00L78.50,673.00L79.00,673.00L79.50,673.00L80.00,673.00L80.50,673.00L81.00,673.00L81.50,673.00L82.00,673.00L82.50,673.00L83.00,673.00L83.50,673.00L84.00,673.00L84.50,673.00L85.00,673.00L85.50,673.00L86.00,673.00L86.50,673.00L87.00,673.00L87.50,673.00L88.00,673.00L88.50,673.00L89.00,673.00L89.50,673.00L90.00,673.01L90.50,673.01L91.00,673.01L91.50,673.01L92.00,673.01L92.50,673.01L93.00,673.01L93.50,673.01L94.00,673.01L94.50,673.01L95.00,673.01L95.50,673.01L96.00,673.01L96.50,673.01L97.00,673.01L97.50,673.01L98.00,673.01L98.50,673.01L99.00,673.01L99.50,673.01L100.00,673.01L100.50,673.01L101.00,673.01L101.50,673.01L102.00,673.01L102.50,673.01L103.00,673.01L103.50,673.01L104.00,673.01L104.50,673.01L105.00,673.01L105.50,673.01L106.00,673.02L106.50,673.02L107.00,673.02L107.50,673.02L108.00,673.02L108.50,673.02L109.00,673.02L109.50,673.02L110.00,673.02L110.50,673.02L111.00,673.02L111.50,673.02L112.00,673.02L112.50,673.02L113.00,673.02L113.50,673.02L114.00,673.03L114.50,673.03L115.00,673.03L115.50,673.03L116.00,673.03L116.50,673.03L117.00,673.03L117.50,673.03L118.00,673.03L118.50,673.03L119.00,673.03L119.50,673.03L120.00,673.04L120.50,673.04L121.00,673.04L121.50,673.04L122.00,673.04L122.50,673.04L123.00,673.04L123.50,673.04L124.00,673.04L124.50,673.05L125.00,673.05L125.50,673.05L126.00,673.05L126.50,673.05L127.00,673.05L127.50,673.05L128.00,673.06L128.50,673.06L129.00,673.06L129.50,673.06L130.00,673.06L130.50,673.06L131.00,673.06L131.50,673.07L132.00,673.07L132.50,673.07L133.00,673.07L133.50,673.07L134.00,673.08L134.50,673.08L135.00,673.08L135.50,673.08L136.00,673.08L136.50,673.08L137.00,673.09L137.50,673.09L138.00,673.09L138.50,673.09L139.00,673.10L139.50,673.10L140.00,673.10L140.50,673.10L141.00,673.10L141.50,673.11L142.00,673.11L142.50,673.11L143.00,673.11L143.50,673.12L144.00,673.12L144.50,673.12L145.00,673.12L145.50,673.13L146.00,673.13L146.50,673.13L147.00,673.13L147.50,673.14L148.00,673.14L148.50,673.14L149.00,673.15L149.50,673.15L150.00,673.15L150.50,673.16L151.00,673.16L151.50,673.16L152.00,673.16L152.50,673.17L153.00,673.17L153.50,673.17L154.00,673.18L154.50,673.18L155.00,673.18L155.50,673.19L156.00,673.19L156.50,673.19L157.00,673.20L157.50,673.20L158.00,673.21L158.50,673.21L159.00,673.21L159.50,673.22L160.00,673.22L160.50,673.22L161.00,673.23L161.50,673.23L162.00,673.24L162.50,673.24L163.00,673.24L163.50,673.25L164.00,673.25L164.50,673.26L165.00,673.26L165.50,673.26L166.00,673.27L166.50,673.27L167.00,673.28L167.50,673.28L168.00,673.28L168.50,673.29L169.00,673.29L169.50,673.30L170.00,673.30L170.50,673.31L171.00,673.31L171.50,673.32L172.00,673.32L172.50,673.33L173.00,673.33L173.50,673.34L174.00,673.34L174.50,673.35L175.00,673.35L175.50,673.36L176.00,673.36L176.50,673.37L177.00,673.37L177.50,673.38L178.00,673.38L178.50,673.39L179.00,673.40L179.50,673.40L180.00,673.41L180.50,673.41L181.00,673.42L181.50,673.43L182.00,673.43L182.50,673.44L183.00,673.45L183.50,673.45L184.00,673.46L184.50,673.47L185.00,673.48L185.50,673.48L186.00,673.49L186.50,673.50L187.00,673.51L187.50,673.51L188.00,673.52L188.50,673.53L189.00,673.54L189.50,673.55L190.00,673.56L190.50,673.57L191.00,673.58L191.50,673.59L192.00,673.60L192.50,673.61L193.00,673.62L193.50,673.63L194.00,673.64L194.50,673.65L195.00,673.66L195.50,673.67L196.00,673.69L196.50,673.70L197.00,673.71L197.50,673.72L198.00,673.74L198.50,673.75L199.00,673.76L199.50,673.78L200.00,673.79L200.50,673.81L201.00,673.82L201.50,673.84L202.00,673.85L202.50,673.87L203.00,673.89L203.50,673.90L204.00,673.92L204.50,673.94L205.00,673.95L205.50,673.97L206.00,673.99L206.50,674.01L207.00,674.03L207.50,674.04L208.00,674.06L208.50,674.08L209.00,674.10L209.50,674.12L210.00,674.14L210.50,674.16L211.00,674.18L211.50,674.20L212.00,674.22L212.50,674.24L213.00,674.26L213.50,674.28L214.00,674.30L214.50,674.32L215.00,674.34L215.50,674.36L216.00,674.39L216.50,674.41L217.00,674.43L217.50,674.45L218.00,674.47L218.50,674.49L219.00,674.51L219.50,674.53L220.00,674.55L220.50,674.57L221.00,674.59L221.50,674.61L222.00,674.63L222.50,674.65L223.00,674.67L223.50,674.69L224.00,674.70L224.50,674.72L225.00,674.74L225.50,674.75L226.00,674.77L226.50,674.78L227.00,674.80L227.50,674.81L228.00,674.83L228.50,674.84L229.00,674.85L229.50,674.86L230.00,674.87L230.50,674.88L231.00,674.88L231.50,674.89L232.00,674.89L232.50,674.90L233.00,674.90L233.50,674.90L234.00,674.89L234.50,674.89L235.00,674.88L235.50,674.87L236.00,674.86L236.50,674.85L237.00,674.83L237.50,674.82L238.00,674.79L238.50,674.77L239.00,674.74L239.50,674.71L240.00,674.68L240.50,674.64L241.00,674.59L241.50,674.55L242.00,674.50L242.50,674.44L243.00,674.39L243.50,674.32L244.00,674.25L244.50,674.18L245.00,674.10L245.50,674.02L246.00,673.93L246.50,673.84L247.00,673.74L247.50,673.64L248.00,673.53L248.50,673.42L249.00,673.30L249.50,673.17L250.00,673.04L250.50,672.91L251.00,672.77L251.50,672.63L252.00,672.48L252.50,672.33L253.00,672.17L253.50,672.01L254.00,671.85L254.50,671.69L255.00,671.52L255.50,671.35L256.00,671.18L256.50,671.01L257.00,670.84L257.50,670.67L258.00,670.50L258.50,670.34L259.00,670.18L259.50,670.01L260.00,669.86L260.50,669.71L261.00,669.56L261.50,669.42L262.00,669.29L262.50,669.16L263.00,669.05L263.50,668.94L264.00,668.84L264.50,668.75L265.00,668.68L265.50,668.61L266.00,668.56L266.50,668.51L267.00,668.48L267.50,668.46L268.00,668.46L268.50,668.47L269.00,668.49L269.50,668.52L270.00,668.57L270.50,668.63L271.00,668.70L271.50,668.79L272.00,668.88L272.50,668.99L273.00,669.11L273.50,669.24L274.00,669.38L274.50,669.53L275.00,669.69L275.50,669.86L276.00,670.04L276.50,670.22L277.00,670.41L277.50,670.61L278.00,670.81L278.50,671.02L279.00,671.23L279.50,671.44L280.00,671.66L280.50,671.88L281.00,672.10L281.50,672.32L282.00,672.54L282.50,672.76L283.00,672.98L283.50,673.20L284.00,673.42L284.50,673.64L285.00,673.85L285.50,674.06L286.00,674.27L286.50,674.48L287.00,674.68L287.50,674.88L288.00,675.08L288.50,675.27L289.00,675.46L289.50,675.65L290.00,675.83L290.50,676.01L291.00,676.19L291.50,676.37L292.00,676.54L292.50,676.70L293.00,676.87L293.50,677.03L294.00,677.19L294.50,677.34L295.00,677.49L295.50,677.64L296.00,677.79L296.50,677.94L297.00,678.08L297.50,678.22L298.00,678.36L298.50,678.50L299.00,678.63L299.50,678.76L300.00,678.90L300.50,679.02L301.00,679.15L301.50,679.28L302.00,679.40L302.50,679.52L303.00,679.64L303.50,679.76L304.00,679.87L304.50,679.99L305.00,680.10L305.50,680.21L306.00,680.32L306.50,680.42L307.00,680.53L307.50,680.63L308.00,680.73L308.50,680.83L309.00,680.92L309.50,681.01L310.00,681.10L310.50,681.19L311.00,681.28L311.50,681.36L312.00,681.44L312.50,681.52L313.00,681.60L313.50,681.67L314.00,681.74L314.50,681.81L315.00,681.88L315.50,681.95L316.00,682.01L316.50,682.07L317.00,682.13L317.50,682.18L318.00,682.24L318.50,682.29L319.00,682.34L319.50,682.39L320.00,682.44L320.50,682.48L321.00,682.53L321.50,682.57L322.00,682.61L322.50,682.65L323.00,682.68L323.50,682.72L324.00,682.75L324.50,682.78L325.00,682.82L325.50,682.85L326.00,682.87L326.50,682.90L327.00,682.93L327.50,682.95L328.00,682.98L328.50,683.00L329.00,683.02L329.50,683.05L330.00,683.07L330.50,683.09L331.00,683.11L331.50,683.12L332.00,683.14L332.50,683.16L333.00,683.17L333.50,683.19L334.00,683.20L334.50,683.22L335.00,683.23L335.50,683.24L336.00,683.26L336.50,683.27L337.00,683.28L337.50,683.29L338.00,683.30L338.50,683.31L339.00,683.32L339.50,683.33L340.00,683.34L340.50,683.35L341.00,683.36L341.50,683.36L342.00,683.37L342.50,683.38L343.00,683.39L343.50,683.39L344.00,683.40L344.50,683.41L345.00,683.41L345.50,683.42L346.00,683.42L346.50,683.43L347.00,683.44L347.50,683.44L348.00,683.44L348.50,683.45L349.00,683.45L349.50,683.46L350.00,683.46L350.50,683.47L351.00,683.47L351.50,683.47L352.00,683.48L352.50,683.48L353.00,683.49L353.50,683.49L354.00,683.49L354.50,683.49L355.00,683.50L355.50,683.50L356.00,683.50L356.50,683.51L357.00,683.51L357.50,683.51L358.00,683.51L358.50,683.52L359.00,683.52L359.50,683.52L360.00,683.52L360.50,683.52L361.00,683.53L361.50,683.53L362.00,683.53L362.50,683.53L363.00,683.53L363.50,683.54L364.00,683.54L364.50,683.54L365.00,683.54L365.50,683.54L366.00,683.54L366.50,683.54L367.00,683.55L367.50,683.55L368.00,683.55L368.50,683.55L369.00,683.55L369.50,683.55L370.00,683.55L370.50,683.55L371.00,683.56L371.50,683.56L372.00,683.56L372.50,683.56L373.00,683.56L373.50,683.56L374.00,683.56L374.50,683.56L375.00,683.56L375.50,683.56L376.00,683.57L376.50,683.57L377.00,683.57L377.50,683.57L378.00,683.57L378.50,683.57L379.00,683.57L379.50,683.57L380.00,683.57L380.50,683.57L381.00,683.57L381.50,683.57L382.00,683.57L382.50,683.57L383.00,683.57L383.50,683.58L384.00,683.58L384.50,683.58L385.00,683.58L385.50,683.58L386.00,683.58L386.50,683.58L387.00,683.58L387.50,683.58L388.00,683.58L388.50,683.58L389.00,683.58L389.50,683.58L390.00,683.58L390.50,683.58L391.00,683.58L391.50,683.58L392.00,683.58L392.50,683.58L393.00,683.58L393.50,683.58L394.00,683.58L394.50,683.58L395.00,683.58L395.50,683.59L396.00,683.59L396.50,683.59L397.00,683.59L397.50,683.59L398.00,683.59L398.50,683.59L399.00,683.59L399.50,683.59L400.00,683.59L400.50,683.59L401.00,683.59L401.50,683.59L402.00,683.59L402.50,683.59L403.00,683.59L403.50,683.59L404.00,683.59L404.50,683.59L405.00,683.59L405.50,683.59L406.00,683.59L406.50,683.59L407.00,683.59L407.50,683.59L408.00,683.59L408.50,683.59L409.00,683.59L409.50,683.59L410.00,683.59L410.50,683.59L411.00,683.59L411.50,683.59L412.00,683.59L412.50,683.59L413.00,683.59L413.50,683.59L414.00,683.59L414.50,683.59L415.00,683.59L415.50,683.59L416.00,683.59L416.50,683.59L417.00,683.59L417.50,683.59L418.00,683.59L418.50,683.59L419.00,683.59L419.50,683.59L420.00,683.59L420.50,683.59L421.00,683.59L421.50,683.59L422.00,683.60L422.50,683.60L423.00,683.60L423.50,683.60L424.00,683.60L424.50,683.60L425.00,683.60L425.50,683.60L426.00,683.60L426.50,683.60L427.00,683.60L427.50,683.60L428.00,683.60L428.50,683.60L429.00,683.60L429.50,683.60L430.00,683.60L430.50,683.60L431.00,683.60L431.50,683.60L432.00,683.60L432.50,683.60L433.00,683.60L433.50,683.60L434.00,683.60L434.50,683.60L435.00,683.60L435.50,683.60L436.00,683.60L436.50,683.60L437.00,683.60L437.50,683.60L438.00,683.60L438.50,683.60L439.00,683.60L439.50,683.60L440.00,683.60L440.50,683.60L441.00,683.60L441.50,683.60L442.00,683.60L442.50,683.60L443.00,683.60L443.50,683.60L444.00,683.60L444.50,683.60L445.00,683.60L445.50,683.60L446.00,683.60L446.50,683.60L447.00,683.60L447.50,683.60L448.00,683.60L448.50,683.60L449.00,683.60L449.50,683.60L450.00,683.60L450.50,683.60L451.00,683.60L451.50,683.60L452.00,683.60L452.50,683.60L453.00,683.60L453.50,683.60L454.00,683.60L454.50,683.60L455.00,683.60L455.50,683.60L456.00,683.60L456.50,683.60L457.00,683.60L457.50,683.60L458.00,683.60L458.50,683.60L459.00,683.60L459.50,683.60L460.00,683.60L460.50,683.60L461.00,683.60L461.50,683.60L462.00,683.60L462.50,683.60L463.00,683.60L463.50,683.60L464.00,683.60L464.50,683.60L465.00,683.60" stroke="#800080" stroke-width="1.4" fill="none" stroke-linejoin="round"/><text x="231.9" y="455.7" font-family="'Liberation Sans', sans-serif" font-size="16" font-weight="normal" text-anchor="start" fill="#000" stroke="#000" stroke-width="0.35">C=C/C-C</text><text x="185.6" y="609.5" font-family="'Liberation Sans', sans-serif" font-size="16" font-weight="normal" text-anchor="start" fill="#000" stroke="#000" stroke-width="0.35">C-O</text><text x="157.5" y="629.6" font-family="'Liberation Sans', sans-serif" font-size="16" font-weight="normal" text-anchor="start" fill="#000" stroke="#000" stroke-width="0.35">C=O</text><text x="121.3" y="651.9" font-family="'Liberation Sans', sans-serif" font-size="16" font-weight="normal" text-anchor="start" fill="#000" stroke="#000" stroke-width="0.35">O-C=O</text><path d="M296.20,493.50L279.49,465.64" stroke="#000" stroke-width="1.1" fill="none"/><path d="M276.40,460.50L282.23,465.16L277.77,467.84Z" fill="#000"/><path d="M227.20,630.40L206.07,615.20" stroke="#000" stroke-width="1.1" fill="none"/><path d="M201.20,611.70L208.40,613.68L205.36,617.90Z" fill="#000"/><path d="M206.70,661.30L183.78,636.60" stroke="#000" stroke-width="1.1" fill="none"/><path d="M179.70,632.20L186.37,635.56L182.56,639.10Z" fill="#000"/><path d="M159.80,667.30L153.67,659.02" stroke="#000" stroke-width="1.1" fill="none"/><path d="M150.10,654.20L156.36,658.28L152.18,661.37Z" fill="#000"/><rect x="589.5" y="416" width="406.20000000000005" height="300" fill="none" stroke="#000" stroke-width="2"/><path d="M589.50,716L589.50,723M670.74,716L670.74,723M751.98,716L751.98,723M833.22,716L833.22,723M914.46,716L914.46,723M995.70,716L995.70,723M630.12,716L630.12,720.5M711.36,716L711.36,720.5M792.60,716L792.60,720.5M873.84,716L873.84,720.5M955.08,716L955.08,720.5" stroke="#000" stroke-width="2" fill="none"/><text x="589.5" y="741.9" font-family="'Liberation Sans', sans-serif" font-size="21" font-weight="normal" text-anchor="middle" fill="#000" stroke="#000" stroke-width="0.35">290</text><text x="670.74" y="741.9" font-family="'Liberation Sans', sans-serif" font-size="21" font-weight="normal" text-anchor="middle" fill="#000" stroke="#000" stroke-width="0.35">288</text><text x="751.98" y="741.9" font-family="'Liberation Sans', sans-serif" font-size="21" font-weight="normal" text-anchor="middle" fill="#000" stroke="#000" stroke-width="0.35">286</text><text x="833.22" y="741.9" font-family="'Liberation Sans', sans-serif" font-size="21" font-weight="normal" text-anchor="middle" fill="#000" stroke="#000" stroke-width="0.35">284</text><text x="914.46" y="741.9" font-family="'Liberation Sans', sans-serif" font-size="21" font-weight="normal" text-anchor="middle" fill="#000" stroke="#000" stroke-width="0.35">282</text><text x="995.7" y="741.9" font-family="'Liberation Sans', sans-serif" font-size="21" font-weight="normal" text-anchor="middle" fill="#000" stroke="#000" stroke-width="0.35">280</text><text x="675.6999999999999" y="774.3" font-family="'Liberation Sans', sans-serif" font-size="26.7" font-weight="normal" text-anchor="start" fill="#000" stroke="#000" stroke-width="0.35">Binding energy (eV)</text><text x="561.2" y="641.3" font-family="'Liberation Sans', sans-serif" font-size="26.7" font-weight="normal" text-anchor="start" fill="#000" stroke="#000" stroke-width="0.35" transform="rotate(-90 561.2 641.3)">Intensity (a.u.)</text><text x="536.4" y="417" font-family="'Liberation Serif', serif" font-size="29.5" font-weight="bold" text-anchor="start" fill="#000">(d)</text><path d="M590.50,680.48L591.00,680.02L591.50,680.36L592.00,679.97L592.50,680.22L593.00,679.58L593.50,679.32L594.00,679.47L594.50,679.89L595.00,680.32L595.50,680.54L596.00,679.89L596.50,679.34L597.00,679.58L597.50,680.26L598.00,681.23L598.50,681.14L599.00,680.63L599.50,680.40L600.00,680.25L600.50,680.57L601.00,680.03L601.50,679.87L602.00,679.78L602.50,680.22L603.00,680.25L603.50,680.70L604.00,680.27L604.50,680.36L605.00,680.09L605.50,680.07L606.00,679.64L606.50,679.78L607.00,680.13L607.50,680.40L608.00,680.24L608.50,679.93L609.00,680.04L609.50,679.78L610.00,680.01L610.50,680.20L611.00,680.27L611.50,680.44L612.00,679.92L612.50,679.94L613.00,679.37L613.50,679.61L614.00,679.71L614.50,680.01L615.00,679.97L615.50,680.29L616.00,680.71L616.50,680.47L617.00,680.43L617.50,679.62L618.00,679.75L618.50,679.40L619.00,679.88L619.50,679.80L620.00,679.66L620.50,679.65L621.00,679.74L621.50,679.77L622.00,679.92L622.50,680.34L623.00,680.49L623.50,680.33L624.00,680.08L624.50,679.98L625.00,679.85L625.50,679.59L626.00,679.87L626.50,679.99L627.00,680.22L627.50,680.11L628.00,680.27L628.50,680.67L629.00,680.55L629.50,680.31L630.00,680.00L630.50,679.85L631.00,680.29L631.50,680.47L632.00,680.87L632.50,680.52L633.00,680.47L633.50,680.56L634.00,680.72L634.50,680.46L635.00,679.76L635.50,679.88L636.00,679.86L636.50,680.08L637.00,680.07L637.50,680.25L638.00,680.10L638.50,679.85L639.00,679.70L639.50,680.32L640.00,679.86L640.50,679.83L641.00,679.54L641.50,680.39L642.00,680.22L642.50,679.50L643.00,678.78L643.50,679.13L644.00,680.10L644.50,680.90L645.00,680.93L645.50,680.52L646.00,680.31L646.50,680.20L647.00,680.36L647.50,680.14L648.00,680.47L648.50,680.29L649.00,680.03L649.50,679.69L650.00,679.90L650.50,679.96L651.00,679.75L651.50,679.87L652.00,680.42L652.50,680.83L653.00,680.91L653.50,680.89L654.00,680.20L654.50,679.64L655.00,679.14L655.50,679.34L656.00,679.48L656.50,679.68L657.00,679.66L657.50,679.80L658.00,679.26L658.50,679.34L659.00,679.80L659.50,680.19L660.00,680.52L660.50,680.36L661.00,680.37L661.50,680.44L662.00,680.32L662.50,680.62L663.00,680.31L663.50,679.89L664.00,679.45L664.50,679.47L665.00,679.98L665.50,680.19L666.00,680.23L666.50,680.05L667.00,680.39L667.50,680.34L668.00,680.78L668.50,680.18L669.00,680.18L669.50,680.01L670.00,680.46L670.50,680.40L671.00,680.15L671.50,679.84L672.00,680.28L672.50,680.45L673.00,680.45L673.50,680.34L674.00,680.11L674.50,680.27L675.00,680.19L675.50,680.14L676.00,680.27L676.50,680.38L677.00,680.64L677.50,680.81L678.00,680.63L678.50,680.14L679.00,679.74L679.50,679.86L680.00,680.25L680.50,680.53L681.00,680.69L681.50,680.66L682.00,680.48L682.50,680.03L683.00,680.33L683.50,680.29L684.00,680.27L684.50,679.73L685.00,679.69L685.50,680.38L686.00,680.87L686.50,680.54L687.00,680.12L687.50,680.00L688.00,680.60L688.50,680.73L689.00,680.54L689.50,680.53L690.00,680.37L690.50,680.04L691.00,679.84L691.50,679.90L692.00,680.82L692.50,681.38L693.00,681.39L693.50,681.29L694.00,681.14L694.50,681.13L695.00,680.64L695.50,680.66L696.00,681.12L696.50,681.54L697.00,680.89L697.50,680.85L698.00,680.87L698.50,681.35L699.00,681.28L699.50,681.15L700.00,681.53L700.50,681.63L701.00,681.78L701.50,681.72L702.00,681.72L702.50,681.48L703.00,681.38L703.50,681.28L704.00,681.23L704.50,681.11L705.00,681.34L705.50,681.64L706.00,682.17L706.50,682.50L707.00,682.59L707.50,682.38L708.00,682.46L708.50,682.46L709.00,682.09L709.50,681.48L710.00,681.22L710.50,681.11L711.00,681.27L711.50,681.52L712.00,681.94L712.50,682.02L713.00,681.93L713.50,681.82L714.00,681.63L714.50,681.66L715.00,681.50L715.50,681.65L716.00,681.79L716.50,682.10L717.00,682.27L717.50,682.57L718.00,682.21L718.50,681.73L719.00,681.41L719.50,681.73L720.00,682.19L720.50,682.01L721.00,681.87L721.50,681.69L722.00,682.26L722.50,682.73L723.00,682.40L723.50,682.04L724.00,681.48L724.50,681.95L725.00,682.12L725.50,682.24L726.00,681.87L726.50,681.83L727.00,682.17L727.50,682.13L728.00,681.97L728.50,681.73L729.00,681.88L729.50,681.97L730.00,681.57L730.50,681.28L731.00,680.50L731.50,680.60L732.00,680.84L732.50,680.64L733.00,680.25L733.50,679.99L734.00,680.26L734.50,679.71L735.00,679.75L735.50,679.48L736.00,679.40L736.50,679.13L737.00,678.97L737.50,678.75L738.00,678.61L738.50,678.49L739.00,678.35L739.50,678.19L740.00,678.06L740.50,677.92L741.00,677.79L741.50,677.59L742.00,677.41L742.50,677.25L743.00,677.12L743.50,677.00L744.00,676.86L744.50,676.72L745.00,676.55L745.50,676.41L746.00,676.25L746.50,676.07L747.00,675.88L747.50,675.75L748.00,675.60L748.50,675.49L749.00,675.21L749.50,675.09L750.00,674.83L750.50,674.66L751.00,674.45L751.50,674.27L752.00,674.14L752.50,673.98L753.00,673.82L753.50,673.57L754.00,673.38L754.50,673.15L755.00,672.91L755.50,672.56L756.00,672.29L756.50,672.04L757.00,671.82L757.50,671.54L758.00,671.25L758.50,670.93L759.00,670.60L759.50,670.25L760.00,669.92L760.50,669.51L761.00,669.09L761.50,668.67L762.00,668.31L762.50,667.96L763.00,667.47L763.50,666.87L764.00,666.25L764.50,665.68L765.00,665.13L765.50,664.56L766.00,663.93L766.50,663.32L767.00,662.66L767.50,661.98L768.00,661.18L768.50,660.31L769.00,659.46L769.50,658.52L770.00,657.67L770.50,656.78L771.00,655.99L771.50,655.18L772.00,654.29L772.50,653.43L773.00,652.49L773.50,651.50L774.00,650.41L774.50,649.25L775.00,648.04L775.50,646.88L776.00,645.76L776.50,644.66L777.00,643.39L777.50,642.10L778.00,640.87L778.50,639.62L779.00,638.32L779.50,636.88L780.00,635.49L780.50,634.12L781.00,632.74L781.50,631.26L782.00,629.78L782.50,628.25L783.00,626.79L783.50,625.32L784.00,623.85L784.50,622.37L785.00,620.91L785.50,619.41L786.00,617.93L786.50,616.31L787.00,614.70L787.50,613.06L788.00,611.41L788.50,609.69L789.00,607.90L789.50,606.10L790.00,604.38L790.50,602.49L791.00,600.51L791.50,598.41L792.00,596.31L792.50,594.08L793.00,591.84L793.50,589.53L794.00,587.04L794.50,584.54L795.00,581.99L795.50,579.56L796.00,576.91L796.50,574.27L797.00,571.61L797.50,568.95L798.00,566.24L798.50,563.43L799.00,560.59L799.50,557.73L800.00,554.79L800.50,551.97L801.00,549.04L801.50,546.19L802.00,543.18L802.50,540.24L803.00,537.19L803.50,534.23L804.00,531.19L804.50,528.24L805.00,525.17L805.50,522.16L806.00,519.23L806.50,516.28L807.00,513.34L807.50,510.32L808.00,507.30L808.50,504.29L809.00,501.28L809.50,498.34L810.00,495.33L810.50,492.41L811.00,489.53L811.50,486.75L812.00,483.92L812.50,481.08L813.00,478.32L813.50,475.85L814.00,473.67L814.50,471.85L815.00,470.18L815.50,468.82L816.00,467.70L816.50,466.75L817.00,465.80L817.50,464.89L818.00,463.99L818.50,463.10L819.00,462.16L819.50,461.21L820.00,460.23L820.50,459.22L821.00,458.19L821.50,457.18L822.00,456.24L822.50,455.33L823.00,454.51L823.50,453.59L824.00,452.89L824.50,452.16L825.00,451.68L825.50,451.00L826.00,450.50L826.50,450.15L827.00,450.03L827.50,450.01L828.00,450.00L828.50,450.17L829.00,450.48L829.50,450.86L830.00,451.39L830.50,452.09L831.00,452.91L831.50,453.77L832.00,454.72L832.50,455.84L833.00,457.04L833.50,458.30L834.00,459.64L834.50,461.13L835.00,462.72L835.50,464.29L836.00,465.94L836.50,467.66L837.00,469.39L837.50,471.25L838.00,473.15L838.50,475.21L839.00,477.21L839.50,479.31L840.00,481.51L840.50,483.74L841.00,485.95L841.50,488.18L842.00,490.58L842.50,493.02L843.00,495.44L843.50,497.79L844.00,500.18L844.50,502.68L845.00,505.25L845.50,507.88L846.00,510.45L846.50,513.08L847.00,515.73L847.50,518.37L848.00,521.13L848.50,523.82L849.00,526.61L849.50,529.18L850.00,531.84L850.50,534.58L851.00,537.39L851.50,540.06L852.00,542.79L852.50,545.50L853.00,548.33L853.50,550.95L854.00,553.62L854.50,556.26L855.00,558.99L855.50,561.70L856.00,564.38L856.50,567.00L857.00,569.50L857.50,571.99L858.00,574.48L858.50,577.03L859.00,579.59L859.50,582.02L860.00,584.39L860.50,586.68L861.00,588.94L861.50,591.22L862.00,593.51L862.50,595.78L863.00,597.96L863.50,600.04L864.00,602.18L864.50,604.33L865.00,606.46L865.50,608.51L866.00,610.46L866.50,612.40L867.00,614.31L867.50,616.17L868.00,618.17L868.50,620.01L869.00,621.81L869.50,623.41L870.00,625.21L870.50,626.99L871.00,628.75L871.50,630.30L872.00,631.88L872.50,633.41L873.00,635.08L873.50,636.62L874.00,638.25L874.50,639.72L875.00,641.18L875.50,642.59L876.00,643.89L876.50,645.24L877.00,646.52L877.50,647.97L878.00,649.34L878.50,650.63L879.00,651.77L879.50,652.92L880.00,654.06L880.50,655.34L881.00,656.48L881.50,657.66L882.00,658.78L882.50,659.86L883.00,660.91L883.50,661.84L884.00,662.84L884.50,663.79L885.00,664.75L885.50,665.68L886.00,666.57L886.50,667.52L887.00,668.35L887.50,669.24L888.00,670.00L888.50,670.75L889.00,671.57L889.50,672.36L890.00,673.13L890.50,673.78L891.00,674.40L891.50,675.13L892.00,675.87L892.50,676.60L893.00,677.15L893.50,677.61L894.00,678.15L894.50,678.81L895.00,679.40L895.50,679.92L896.00,680.28L896.50,680.73L897.00,681.14L897.50,681.58L898.00,681.95L898.50,682.30L899.00,682.61L899.50,682.85L900.00,683.09L900.50,683.34L901.00,683.53L901.50,683.71L902.00,683.85L902.50,684.08L903.00,684.22L903.50,684.42L904.00,684.55L904.50,684.74L905.00,684.93L905.50,685.67L906.00,685.78L906.50,685.61L907.00,685.82L907.50,685.47L908.00,686.39L908.50,685.79L909.00,686.81L909.50,686.48L910.00,686.98L910.50,686.76L911.00,686.90L911.50,687.02L912.00,686.96L912.50,687.22L913.00,686.91L913.50,686.98L914.00,686.82L914.50,687.16L915.00,687.74L915.50,687.72L916.00,687.60L916.50,687.05L917.00,687.22L917.50,687.63L918.00,687.77L918.50,687.83L919.00,687.56L919.50,687.79L920.00,687.36L920.50,687.67L921.00,687.89L921.50,688.20L922.00,688.04L922.50,687.58L923.00,688.06L923.50,688.24L924.00,689.23L924.50,688.93L925.00,688.55L925.50,687.69L926.00,687.43L926.50,687.71L927.00,687.92L927.50,688.49L928.00,688.55L928.50,688.37L929.00,688.47L929.50,688.52L930.00,688.85L930.50,688.23L931.00,687.87L931.50,687.50L932.00,687.71L932.50,687.37L933.00,687.85L933.50,687.90L934.00,688.68L934.50,688.58L935.00,689.03L935.50,688.96L936.00,688.87L936.50,688.30L937.00,688.19L937.50,688.56L938.00,688.30L938.50,688.09L939.00,687.72L939.50,688.60L940.00,688.50L940.50,688.32L941.00,687.95L941.50,689.04L942.00,688.94L942.50,688.87L943.00,688.27L943.50,688.32L944.00,688.46L944.50,688.38L945.00,688.48L945.50,688.47L946.00,688.81L946.50,688.95L947.00,688.75L947.50,688.12L948.00,688.16L948.50,688.54L949.00,688.77L949.50,688.80L950.00,689.21L950.50,688.98L951.00,688.63L951.50,688.03L952.00,688.17L952.50,688.60L953.00,688.85L953.50,689.00L954.00,688.81L954.50,688.63L955.00,688.66L955.50,688.69L956.00,688.41L956.50,688.47L957.00,688.44L957.50,688.30L958.00,688.30L958.50,688.22L959.00,688.38L959.50,688.38L960.00,688.31L960.50,688.40L961.00,687.99L961.50,687.80L962.00,687.92L962.50,688.57L963.00,688.74L963.50,688.97L964.00,688.84L964.50,689.46L965.00,688.89L965.50,688.45L966.00,688.49L966.50,688.75L967.00,688.92L967.50,688.68L968.00,688.85L968.50,688.72L969.00,688.48L969.50,688.49L970.00,688.71L970.50,688.58L971.00,688.74L971.50,688.89L972.00,689.00L972.50,688.54L973.00,688.56L973.50,688.02L974.00,688.19L974.50,687.81L975.00,688.25L975.50,688.46L976.00,688.69L976.50,689.65L977.00,689.37L977.50,689.39L978.00,688.25L978.50,688.56L979.00,688.32L979.50,688.74L980.00,688.81L980.50,689.27L981.00,689.34L981.50,689.34L982.00,688.92L982.50,688.56L983.00,687.84L983.50,688.10L984.00,688.84L984.50,689.15L985.00,689.01L985.50,688.43L986.00,688.64L986.50,688.17L987.00,688.47L987.50,688.62L988.00,688.91L988.50,688.43L989.00,687.93L989.50,688.25L990.00,688.88L990.50,688.85L991.00,688.31L991.50,687.96L992.00,688.29L992.50,688.86L993.00,688.66L993.50,688.78L994.00,688.88L994.50,688.63L995.00,688.42" stroke="#000" stroke-width="1.3" fill="none" stroke-linejoin="round"/><path d="M590.50,678.80L591.00,678.80L591.50,678.80L592.00,678.80L592.50,678.80L593.00,678.79L593.50,678.79L594.00,678.79L594.50,678.79L595.00,678.79L595.50,678.79L596.00,678.79L596.50,678.79L597.00,678.79L597.50,678.78L598.00,678.78L598.50,678.78L599.00,678.78L599.50,678.78L600.00,678.78L600.50,678.78L601.00,678.77L601.50,678.77L602.00,678.77L602.50,678.77L603.00,678.77L603.50,678.77L604.00,678.77L604.50,678.76L605.00,678.76L605.50,678.76L606.00,678.76L606.50,678.76L607.00,678.76L607.50,678.76L608.00,678.75L608.50,678.75L609.00,678.75L609.50,678.75L610.00,678.75L610.50,678.75L611.00,678.74L611.50,678.74L612.00,678.74L612.50,678.74L613.00,678.74L613.50,678.74L614.00,678.73L614.50,678.73L615.00,678.73L615.50,678.73L616.00,678.73L616.50,678.73L617.00,678.72L617.50,678.72L618.00,678.72L618.50,678.72L619.00,678.72L619.50,678.71L620.00,678.71L620.50,678.71L621.00,678.71L621.50,678.71L622.00,678.71L622.50,678.70L623.00,678.70L623.50,678.70L624.00,678.70L624.50,678.70L625.00,678.69L625.50,678.69L626.00,678.69L626.50,678.69L627.00,678.69L627.50,678.68L628.00,678.68L628.50,678.68L629.00,678.68L629.50,678.67L630.00,678.67L630.50,678.67L631.00,678.67L631.50,678.67L632.00,678.66L632.50,678.66L633.00,678.66L633.50,678.66L634.00,678.66L634.50,678.65L635.00,678.65L635.50,678.65L636.00,678.65L636.50,678.64L637.00,678.64L637.50,678.64L638.00,678.64L638.50,678.64L639.00,678.63L639.50,678.63L640.00,678.63L640.50,678.63L641.00,678.62L641.50,678.62L642.00,678.62L642.50,678.62L643.00,678.61L643.50,678.61L644.00,678.61L644.50,678.61L645.00,678.60L645.50,678.60L646.00,678.60L646.50,678.60L647.00,678.60L647.50,678.59L648.00,678.59L648.50,678.59L649.00,678.59L649.50,678.58L650.00,678.58L650.50,678.58L651.00,678.58L651.50,678.57L652.00,678.57L652.50,678.57L653.00,678.57L653.50,678.56L654.00,678.56L654.50,678.56L655.00,678.56L655.50,678.55L656.00,678.55L656.50,678.55L657.00,678.54L657.50,678.54L658.00,678.54L658.50,678.54L659.00,678.53L659.50,678.53L660.00,678.53L660.50,678.53L661.00,678.52L661.50,678.52L662.00,678.52L662.50,678.52L663.00,678.51L663.50,678.51L664.00,678.51L664.50,678.50L665.00,678.50L665.50,678.50L666.00,678.50L666.50,678.49L667.00,678.49L667.50,678.49L668.00,678.49L668.50,678.48L669.00,678.48L669.50,678.48L670.00,678.47L670.50,678.47L671.00,678.47L671.50,678.47L672.00,678.46L672.50,678.46L673.00,678.46L673.50,678.46L674.00,678.45L674.50,678.45L675.00,678.45L675.50,678.44L676.00,678.44L676.50,678.44L677.00,678.44L677.50,678.43L678.00,678.43L678.50,678.43L679.00,678.42L679.50,678.42L680.00,678.42L680.50,678.42L681.00,678.41L681.50,678.41L682.00,678.41L682.50,678.40L683.00,678.40L683.50,678.40L684.00,678.39L684.50,678.39L685.00,678.39L685.50,678.39L686.00,678.38L686.50,678.38L687.00,678.38L687.50,678.37L688.00,678.37L688.50,678.37L689.00,678.37L689.50,678.36L690.00,678.36L690.50,678.36L691.00,678.35L691.50,678.35L692.00,678.35L692.50,678.34L693.00,678.34L693.50,678.34L694.00,678.34L694.50,678.33L695.00,678.33L695.50,678.33L696.00,678.32L696.50,678.32L697.00,678.32L697.50,678.32L698.00,678.31L698.50,678.31L699.00,678.31L699.50,678.30L700.00,678.30L700.50,678.30L701.00,678.29L701.50,678.29L702.00,678.29L702.50,678.28L703.00,678.28L703.50,678.27L704.00,678.27L704.50,678.27L705.00,678.26L705.50,678.26L706.00,678.25L706.50,678.25L707.00,678.24L707.50,678.24L708.00,678.23L708.50,678.23L709.00,678.22L709.50,678.22L710.00,678.22L710.50,678.21L711.00,678.21L711.50,678.20L712.00,678.20L712.50,678.19L713.00,678.19L713.50,678.18L714.00,678.18L714.50,678.18L715.00,678.17L715.50,678.17L716.00,678.17L716.50,678.16L717.00,678.16L717.50,678.16L718.00,678.16L718.50,678.15L719.00,678.15L719.50,678.15L720.00,678.15L720.50,678.15L721.00,678.15L721.50,678.15L722.00,678.15L722.50,678.14L723.00,678.14L723.50,678.14L724.00,678.14L724.50,678.14L725.00,678.14L725.50,678.14L726.00,678.14L726.50,678.14L727.00,678.14L727.50,678.14L728.00,678.13L728.50,678.13L729.00,678.13L729.50,678.13L730.00,678.13L730.50,678.13L731.00,678.13L731.50,678.13L732.00,678.13L732.50,678.13L733.00,678.13L733.50,678.13L734.00,678.12L734.50,678.12L735.00,678.12L735.50,678.12L736.00,678.12L736.50,678.12L737.00,678.12L737.50,678.12L738.00,678.12L738.50,678.12L739.00,678.12L739.50,678.12L740.00,678.12L740.50,678.12L741.00,678.12L741.50,678.12L742.00,678.11L742.50,678.11L743.00,678.11L743.50,678.11L744.00,678.11L744.50,678.11L745.00,678.11L745.50,678.11L746.00,678.11L746.50,678.11L747.00,678.11L747.50,678.11L748.00,678.11L748.50,678.11L749.00,678.11L749.50,678.11L750.00,678.11L750.50,678.11L751.00,678.11L751.50,678.11L752.00,678.11L752.50,678.10L753.00,678.10L753.50,678.10L754.00,678.10L754.50,678.10L755.00,678.10L755.50,678.10L756.00,678.10L756.50,678.10L757.00,678.10L757.50,678.10L758.00,678.10L758.50,678.10L759.00,678.10L759.50,678.10L760.00,678.10L760.50,678.10L761.00,678.10L761.50,678.10L762.00,678.10L762.50,678.10L763.00,678.10L763.50,678.10L764.00,678.10L764.50,678.10L765.00,678.10L765.50,678.10L766.00,678.10L766.50,678.10L767.00,678.10L767.50,678.10L768.00,678.10L768.50,678.10L769.00,678.11L769.50,678.11L770.00,678.12L770.50,678.12L771.00,678.13L771.50,678.14L772.00,678.15L772.50,678.16L773.00,678.17L773.50,678.18L774.00,678.19L774.50,678.20L775.00,678.21L775.50,678.23L776.00,678.24L776.50,678.26L777.00,678.27L777.50,678.29L778.00,678.31L778.50,678.33L779.00,678.34L779.50,678.36L780.00,678.38L780.50,678.40L781.00,678.42L781.50,678.45L782.00,678.47L782.50,678.49L783.00,678.51L783.50,678.54L784.00,678.56L784.50,678.59L785.00,678.61L785.50,678.64L786.00,678.66L786.50,678.69L787.00,678.71L787.50,678.74L788.00,678.77L788.50,678.80L789.00,678.83L789.50,678.85L790.00,678.88L790.50,678.91L791.00,678.95L791.50,678.99L792.00,679.04L792.50,679.09L793.00,679.15L793.50,679.22L794.00,679.28L794.50,679.35L795.00,679.43L795.50,679.50L796.00,679.58L796.50,679.66L797.00,679.73L797.50,679.81L798.00,679.89L798.50,679.96L799.00,680.04L799.50,680.11L800.00,680.18L800.50,680.24L801.00,680.30L801.50,680.36L802.00,680.41L802.50,680.47L803.00,680.52L803.50,680.57L804.00,680.63L804.50,680.68L805.00,680.73L805.50,680.78L806.00,680.83L806.50,680.87L807.00,680.92L807.50,680.97L808.00,681.02L808.50,681.06L809.00,681.11L809.50,681.15L810.00,681.20L810.50,681.24L811.00,681.29L811.50,681.33L812.00,681.37L812.50,681.42L813.00,681.46L813.50,681.50L814.00,681.55L814.50,681.59L815.00,681.64L815.50,681.68L816.00,681.72L816.50,681.77L817.00,681.81L817.50,681.86L818.00,681.90L818.50,681.95L819.00,681.99L819.50,682.04L820.00,682.09L820.50,682.14L821.00,682.18L821.50,682.23L822.00,682.28L822.50,682.33L823.00,682.38L823.50,682.44L824.00,682.49L824.50,682.54L825.00,682.60L825.50,682.65L826.00,682.71L826.50,682.77L827.00,682.83L827.50,682.89L828.00,682.95L828.50,683.01L829.00,683.08L829.50,683.15L830.00,683.22L830.50,683.30L831.00,683.38L831.50,683.46L832.00,683.55L832.50,683.64L833.00,683.73L833.50,683.82L834.00,683.91L834.50,684.01L835.00,684.11L835.50,684.20L836.00,684.30L836.50,684.40L837.00,684.50L837.50,684.61L838.00,684.71L838.50,684.81L839.00,684.91L839.50,685.01L840.00,685.11L840.50,685.21L841.00,685.30L841.50,685.40L842.00,685.49L842.50,685.58L843.00,685.67L843.50,685.76L844.00,685.85L844.50,685.93L845.00,686.01L845.50,686.08L846.00,686.16L846.50,686.23L847.00,686.29L847.50,686.35L848.00,686.41L848.50,686.46L849.00,686.51L849.50,686.56L850.00,686.60L850.50,686.65L851.00,686.69L851.50,686.74L852.00,686.78L852.50,686.83L853.00,686.87L853.50,686.91L854.00,686.96L854.50,687.00L855.00,687.04L855.50,687.08L856.00,687.12L856.50,687.16L857.00,687.20L857.50,687.24L858.00,687.27L858.50,687.31L859.00,687.34L859.50,687.38L860.00,687.41L860.50,687.44L861.00,687.48L861.50,687.51L862.00,687.53L862.50,687.56L863.00,687.59L863.50,687.61L864.00,687.64L864.50,687.66L865.00,687.68L865.50,687.70L866.00,687.72L866.50,687.74L867.00,687.75L867.50,687.76L868.00,687.78L868.50,687.79L869.00,687.79L869.50,687.80L870.00,687.81L870.50,687.81L871.00,687.82L871.50,687.83L872.00,687.83L872.50,687.84L873.00,687.84L873.50,687.85L874.00,687.85L874.50,687.86L875.00,687.86L875.50,687.87L876.00,687.87L876.50,687.88L877.00,687.88L877.50,687.89L878.00,687.89L878.50,687.90L879.00,687.90L879.50,687.91L880.00,687.91L880.50,687.92L881.00,687.92L881.50,687.92L882.00,687.93L882.50,687.93L883.00,687.94L883.50,687.94L884.00,687.94L884.50,687.95L885.00,687.95L885.50,687.95L886.00,687.96L886.50,687.96L887.00,687.96L887.50,687.96L888.00,687.97L888.50,687.97L889.00,687.97L889.50,687.98L890.00,687.98L890.50,687.98L891.00,687.98L891.50,687.98L892.00,687.99L892.50,687.99L893.00,687.99L893.50,687.99L894.00,687.99L894.50,687.99L895.00,687.99L895.50,688.00L896.00,688.00L896.50,688.00L897.00,688.00L897.50,688.00L898.00,688.00L898.50,688.00L899.00,688.00L899.50,688.00L900.00,688.00L900.50,688.00L901.00,688.00L901.50,688.00L902.00,688.00L902.50,688.00L903.00,688.00L903.50,688.00L904.00,688.00L904.50,688.00L905.00,688.00L905.50,688.00L906.00,688.00L906.50,688.00L907.00,688.00L907.50,688.00L908.00,688.00L908.50,688.00L909.00,688.00L909.50,688.00L910.00,688.00L910.50,688.00L911.00,688.00L911.50,688.00L912.00,688.00L912.50,688.00L913.00,688.00L913.50,688.00L914.00,688.00L914.50,688.00L915.00,688.00L915.50,688.00L916.00,688.00L916.50,688.00L917.00,688.00L917.50,688.00L918.00,688.00L918.50,688.00L919.00,688.00L919.50,688.00L920.00,688.00L920.50,688.00L921.00,688.00L921.50,688.00L922.00,688.00L922.50,688.00L923.00,688.00L923.50,688.00L924.00,688.00L924.50,688.00L925.00,688.00L925.50,688.00L926.00,688.00L926.50,688.00L927.00,688.00L927.50,688.00L928.00,688.00L928.50,688.00L929.00,688.00L929.50,688.00L930.00,688.00L930.50,688.00L931.00,688.00L931.50,688.00L932.00,688.00L932.50,688.00L933.00,688.00L933.50,688.00L934.00,688.00L934.50,688.00L935.00,688.00L935.50,688.00L936.00,688.00L936.50,688.00L937.00,688.00L937.50,688.00L938.00,688.00L938.50,688.00L939.00,688.00L939.50,688.00L940.00,688.00L940.50,688.00L941.00,688.00L941.50,688.00L942.00,688.00L942.50,688.00L943.00,688.00L943.50,688.00L944.00,688.00L944.50,688.00L945.00,688.00L945.50,688.00L946.00,688.00L946.50,688.00L947.00,688.00L947.50,688.00L948.00,688.00L948.50,688.00L949.00,688.00L949.50,688.00L950.00,688.00L950.50,688.00L951.00,688.00L951.50,688.00L952.00,688.00L952.50,688.00L953.00,688.00L953.50,688.00L954.00,688.00L954.50,688.00L955.00,688.00L955.50,688.00L956.00,688.00L956.50,688.00L957.00,688.00L957.50,688.00L958.00,688.00L958.50,688.00L959.00,688.00L959.50,688.00L960.00,688.00L960.50,688.00L961.00,688.00L961.50,688.00L962.00,688.00L962.50,688.00L963.00,688.00L963.50,688.00L964.00,688.00L964.50,688.00L965.00,688.00L965.50,688.00L966.00,688.00L966.50,688.00L967.00,688.00L967.50,688.00L968.00,688.00L968.50,688.00L969.00,688.00L969.50,688.00L970.00,688.00L970.50,688.00L971.00,688.00L971.50,688.00L972.00,688.00L972.50,688.00L973.00,688.00L973.50,688.00L974.00,688.00L974.50,688.00L975.00,688.00L975.50,688.00L976.00,688.00L976.50,688.00L977.00,688.00L977.50,688.00L978.00,688.00L978.50,688.00L979.00,688.00L979.50,688.00L980.00,688.00L980.50,688.00L981.00,688.00L981.50,688.00L982.00,688.00L982.50,688.00L983.00,688.00L983.50,688.00L984.00,688.00L984.50,688.00L985.00,688.00L985.50,688.00L986.00,688.00L986.50,688.00L987.00,688.00L987.50,688.00L988.00,688.00L988.50,688.00L989.00,688.00L989.50,688.00L990.00,688.00L990.50,688.00L991.00,688.00L991.50,688.00L992.00,688.00L992.50,688.00L993.00,688.00L993.50,688.00L994.00,688.00L994.50,688.00L995.00,688.00" stroke="#0000ff" stroke-width="1.3" fill="none" stroke-linejoin="round"/><path d="M590.50,678.80L591.00,678.80L591.50,678.80L592.00,678.80L592.50,678.80L593.00,678.80L593.50,678.80L594.00,678.80L594.50,678.80L595.00,678.80L595.50,678.80L596.00,678.80L596.50,678.80L597.00,678.80L597.50,678.80L598.00,678.80L598.50,678.80L599.00,678.80L599.50,678.80L600.00,678.80L600.50,678.80L601.00,678.80L601.50,678.80L602.00,678.79L602.50,678.79L603.00,678.79L603.50,678.79L604.00,678.79L604.50,678.79L605.00,678.79L605.50,678.79L606.00,678.79L606.50,678.79L607.00,678.79L607.50,678.79L608.00,678.79L608.50,678.79L609.00,678.79L609.50,678.79L610.00,678.79L610.50,678.78L611.00,678.78L611.50,678.78L612.00,678.78L612.50,678.78L613.00,678.78L613.50,678.78L614.00,678.78L614.50,678.78L615.00,678.78L615.50,678.78L616.00,678.77L616.50,678.77L617.00,678.77L617.50,678.77L618.00,678.77L618.50,678.77L619.00,678.77L619.50,678.77L620.00,678.77L620.50,678.76L621.00,678.76L621.50,678.76L622.00,678.76L622.50,678.76L623.00,678.76L623.50,678.76L624.00,678.76L624.50,678.75L625.00,678.75L625.50,678.75L626.00,678.75L626.50,678.75L627.00,678.75L627.50,678.75L628.00,678.74L628.50,678.74L629.00,678.74L629.50,678.74L630.00,678.74L630.50,678.74L631.00,678.74L631.50,678.73L632.00,678.73L632.50,678.73L633.00,678.73L633.50,678.73L634.00,678.73L634.50,678.72L635.00,678.72L635.50,678.72L636.00,678.72L636.50,678.72L637.00,678.71L637.50,678.71L638.00,678.71L638.50,678.71L639.00,678.71L639.50,678.70L640.00,678.70L640.50,678.70L641.00,678.70L641.50,678.70L642.00,678.69L642.50,678.69L643.00,678.69L643.50,678.69L644.00,678.69L644.50,678.68L645.00,678.68L645.50,678.68L646.00,678.68L646.50,678.67L647.00,678.67L647.50,678.67L648.00,678.67L648.50,678.67L649.00,678.66L649.50,678.66L650.00,678.66L650.50,678.66L651.00,678.65L651.50,678.65L652.00,678.65L652.50,678.65L653.00,678.64L653.50,678.64L654.00,678.64L654.50,678.64L655.00,678.63L655.50,678.63L656.00,678.63L656.50,678.62L657.00,678.62L657.50,678.62L658.00,678.62L658.50,678.61L659.00,678.61L659.50,678.61L660.00,678.61L660.50,678.60L661.00,678.60L661.50,678.60L662.00,678.59L662.50,678.59L663.00,678.59L663.50,678.58L664.00,678.58L664.50,678.58L665.00,678.58L665.50,678.57L666.00,678.57L666.50,678.57L667.00,678.56L667.50,678.56L668.00,678.56L668.50,678.55L669.00,678.55L669.50,678.55L670.00,678.54L670.50,678.54L671.00,678.54L671.50,678.53L672.00,678.53L672.50,678.53L673.00,678.52L673.50,678.52L674.00,678.52L674.50,678.51L675.00,678.51L675.50,678.50L676.00,678.50L676.50,678.50L677.00,678.49L677.50,678.49L678.00,678.49L678.50,678.48L679.00,678.48L679.50,678.48L680.00,678.47L680.50,678.47L681.00,678.46L681.50,678.46L682.00,678.46L682.50,678.45L683.00,678.45L683.50,678.44L684.00,678.44L684.50,678.44L685.00,678.43L685.50,678.43L686.00,678.42L686.50,678.42L687.00,678.42L687.50,678.41L688.00,678.41L688.50,678.40L689.00,678.40L689.50,678.39L690.00,678.39L690.50,678.39L691.00,678.38L691.50,678.38L692.00,678.37L692.50,678.37L693.00,678.36L693.50,678.36L694.00,678.36L694.50,678.35L695.00,678.35L695.50,678.34L696.00,678.34L696.50,678.33L697.00,678.33L697.50,678.32L698.00,678.32L698.50,678.31L699.00,678.31L699.50,678.30L700.00,678.30L700.50,678.29L701.00,678.29L701.50,678.28L702.00,678.28L702.50,678.27L703.00,678.26L703.50,678.25L704.00,678.24L704.50,678.23L705.00,678.22L705.50,678.21L706.00,678.20L706.50,678.19L707.00,678.18L707.50,678.17L708.00,678.15L708.50,678.14L709.00,678.12L709.50,678.11L710.00,678.09L710.50,678.08L711.00,678.06L711.50,678.05L712.00,678.03L712.50,678.01L713.00,677.99L713.50,677.98L714.00,677.96L714.50,677.94L715.00,677.92L715.50,677.90L716.00,677.88L716.50,677.86L717.00,677.84L717.50,677.81L718.00,677.79L718.50,677.77L719.00,677.75L719.50,677.72L720.00,677.70L720.50,677.68L721.00,677.65L721.50,677.62L722.00,677.59L722.50,677.56L723.00,677.53L723.50,677.50L724.00,677.46L724.50,677.43L725.00,677.39L725.50,677.35L726.00,677.31L726.50,677.26L727.00,677.22L727.50,677.17L728.00,677.13L728.50,677.08L729.00,677.03L729.50,676.97L730.00,676.92L730.50,676.87L731.00,676.81L731.50,676.75L732.00,676.69L732.50,676.63L733.00,676.57L733.50,676.50L734.00,676.44L734.50,676.37L735.00,676.30L735.50,676.23L736.00,676.16L736.50,676.09L737.00,676.01L737.50,675.93L738.00,675.86L738.50,675.78L739.00,675.69L739.50,675.61L740.00,675.53L740.50,675.44L741.00,675.35L741.50,675.27L742.00,675.18L742.50,675.08L743.00,674.99L743.50,674.89L744.00,674.80L744.50,674.70L745.00,674.60L745.50,674.50L746.00,674.38L746.50,674.26L747.00,674.14L747.50,674.00L748.00,673.86L748.50,673.71L749.00,673.55L749.50,673.39L750.00,673.22L750.50,673.04L751.00,672.85L751.50,672.65L752.00,672.45L752.50,672.24L753.00,672.02L753.50,671.80L754.00,671.56L754.50,671.32L755.00,671.07L755.50,670.82L756.00,670.55L756.50,670.28L757.00,670.00L757.50,669.71L758.00,669.41L758.50,669.10L759.00,668.78L759.50,668.44L760.00,668.07L760.50,667.66L761.00,667.22L761.50,666.75L762.00,666.26L762.50,665.75L763.00,665.22L763.50,664.67L764.00,664.11L764.50,663.54L765.00,662.96L765.50,662.36L766.00,661.76L766.50,661.14L767.00,660.51L767.50,659.86L768.00,659.21L768.50,658.53L769.00,657.84L769.50,657.13L770.00,656.40L770.50,655.64L771.00,654.85L771.50,654.03L772.00,653.17L772.50,652.27L773.00,651.33L773.50,650.36L774.00,649.36L774.50,648.33L775.00,647.27L775.50,646.17L776.00,645.05L776.50,643.89L777.00,642.70L777.50,641.48L778.00,640.24L778.50,638.97L779.00,637.67L779.50,636.36L780.00,635.02L780.50,633.66L781.00,632.28L781.50,630.89L782.00,629.48L782.50,628.06L783.00,626.62L783.50,625.18L784.00,623.72L784.50,622.26L785.00,620.79L785.50,619.31L786.00,617.80L786.50,616.27L787.00,614.71L787.50,613.11L788.00,611.46L788.50,609.77L789.00,608.03L789.50,606.23L790.00,604.36L790.50,602.43L791.00,600.42L791.50,598.33L792.00,596.16L792.50,593.92L793.00,591.60L793.50,589.21L794.00,586.75L794.50,584.23L795.00,581.66L795.50,579.03L796.00,576.35L796.50,573.63L797.00,570.86L797.50,568.06L798.00,565.23L798.50,562.36L799.00,559.47L799.50,556.56L800.00,553.63L800.50,550.68L801.00,547.73L801.50,544.77L802.00,541.81L802.50,538.86L803.00,535.91L803.50,532.96L804.00,530.04L804.50,527.13L805.00,524.25L805.50,521.39L806.00,518.56L806.50,515.77L807.00,513.01L807.50,510.30L808.00,507.63L808.50,505.02L809.00,502.46L809.50,499.95L810.00,497.51L810.50,495.13L811.00,492.80L811.50,490.54L812.00,488.33L812.50,486.19L813.00,484.10L813.50,482.06L814.00,480.09L814.50,478.17L815.00,476.31L815.50,474.51L816.00,472.76L816.50,471.07L817.00,469.44L817.50,467.85L818.00,466.33L818.50,464.86L819.00,463.44L819.50,462.08L820.00,460.77L820.50,459.52L821.00,458.32L821.50,457.17L822.00,456.07L822.50,455.03L823.00,454.04L823.50,453.10L824.00,452.22L824.50,451.40L825.00,450.65L825.50,449.97L826.00,449.37L826.50,448.84L827.00,448.41L827.50,448.07L828.00,447.83L828.50,447.69L829.00,447.65L829.50,447.73L830.00,447.93L830.50,448.25L831.00,448.70L831.50,449.28L832.00,450.00L832.50,450.86L833.00,451.87L833.50,453.04L834.00,454.36L834.50,455.83L835.00,457.44L835.50,459.19L836.00,461.06L836.50,463.05L837.00,465.14L837.50,467.33L838.00,469.62L838.50,471.98L839.00,474.44L839.50,476.97L840.00,479.58L840.50,482.80L841.00,486.08L841.50,489.42L842.00,492.82L842.50,496.30L843.00,499.84L843.50,503.44L844.00,507.10L844.50,510.82L845.00,514.58L845.50,518.38L846.00,522.21L846.50,526.06L847.00,529.91L847.50,533.76L848.00,537.59L848.50,540.95L849.00,544.31L849.50,547.65L850.00,550.98L850.50,554.29L851.00,557.58L851.50,560.83L852.00,564.05L852.50,567.23L853.00,570.38L853.50,573.48L854.00,576.53L854.50,579.54L855.00,582.50L855.50,585.40L856.00,588.26L856.50,591.05L857.00,593.79L857.50,596.47L858.00,599.10L858.50,601.67L859.00,604.17L859.50,606.62L860.00,609.01L860.50,611.35L861.00,613.62L861.50,615.83L862.00,617.99L862.50,620.09L863.00,622.13L863.50,624.11L864.00,626.04L864.50,627.92L865.00,629.74L865.50,631.51L866.00,633.22L866.50,634.89L867.00,636.50L867.50,638.07L868.00,639.59L868.50,641.06L869.00,642.48L869.50,643.86L870.00,645.20L870.50,646.50L871.00,647.75L871.50,648.97L872.00,650.15L872.50,651.29L873.00,652.40L873.50,653.47L874.00,654.51L874.50,655.51L875.00,656.48L875.50,657.43L876.00,658.34L876.50,659.22L877.00,660.08L877.50,660.90L878.00,661.71L878.50,662.48L879.00,663.23L879.50,663.96L880.00,664.66L880.50,665.35L881.00,666.01L881.50,666.64L882.00,667.26L882.50,667.86L883.00,668.44L883.50,669.00L884.00,669.55L884.50,670.07L885.00,670.58L885.50,671.07L886.00,671.55L886.50,672.01L887.00,672.46L887.50,672.90L888.00,673.32L888.50,673.72L889.00,674.12L889.50,674.50L890.00,674.87L890.50,675.23L891.00,675.58L891.50,675.91L892.00,676.24L892.50,676.56L893.00,676.86L893.50,677.16L894.00,677.45L894.50,677.73L895.00,678.00L895.50,678.26L896.00,678.52L896.50,678.76L897.00,679.00L897.50,679.24L898.00,679.46L898.50,679.68L899.00,679.89L899.50,680.10L900.00,680.30L900.50,680.49L901.00,680.68L901.50,680.86L902.00,681.04L902.50,681.21L903.00,681.38L903.50,681.54L904.00,681.70L904.50,681.85L905.00,682.00L905.50,682.14L906.00,682.28L906.50,682.42L907.00,682.55L907.50,682.68L908.00,682.81L908.50,682.93L909.00,683.05L909.50,683.16L910.00,683.28L910.50,683.39L911.00,683.49L911.50,683.60L912.00,683.70L912.50,683.79L913.00,683.89L913.50,683.98L914.00,684.07L914.50,684.16L915.00,684.25L915.50,684.33L916.00,684.41L916.50,684.49L917.00,684.57L917.50,684.64L918.00,684.71L918.50,684.79L919.00,684.85L919.50,684.92L920.00,684.99L920.50,685.05L921.00,685.12L921.50,685.18L922.00,685.24L922.50,685.29L923.00,685.35L923.50,685.41L924.00,685.46L924.50,685.51L925.00,685.56L925.50,685.61L926.00,685.66L926.50,685.71L927.00,685.75L927.50,685.80L928.00,685.84L928.50,685.89L929.00,685.93L929.50,685.97L930.00,686.01L930.50,686.05L931.00,686.09L931.50,686.13L932.00,686.16L932.50,686.20L933.00,686.23L933.50,686.27L934.00,686.30L934.50,686.33L935.00,686.36L935.50,686.39L936.00,686.43L936.50,686.45L937.00,686.48L937.50,686.51L938.00,686.54L938.50,686.57L939.00,686.59L939.50,686.62L940.00,686.64L940.50,686.67L941.00,686.69L941.50,686.72L942.00,686.74L942.50,686.76L943.00,686.78L943.50,686.81L944.00,686.83L944.50,686.85L945.00,686.87L945.50,686.89L946.00,686.91L946.50,686.93L947.00,686.95L947.50,686.96L948.00,686.98L948.50,687.00L949.00,687.02L949.50,687.03L950.00,687.05L950.50,687.07L951.00,687.08L951.50,687.10L952.00,687.11L952.50,687.13L953.00,687.14L953.50,687.16L954.00,687.17L954.50,687.18L955.00,687.20L955.50,687.21L956.00,687.22L956.50,687.24L957.00,687.25L957.50,687.26L958.00,687.27L958.50,687.28L959.00,687.30L959.50,687.31L960.00,687.32L960.50,687.33L961.00,687.34L961.50,687.35L962.00,687.36L962.50,687.37L963.00,687.38L963.50,687.39L964.00,687.40L964.50,687.41L965.00,687.42L965.50,687.43L966.00,687.44L966.50,687.44L967.00,687.45L967.50,687.46L968.00,687.47L968.50,687.48L969.00,687.48L969.50,687.49L970.00,687.50L970.50,687.51L971.00,687.51L971.50,687.52L972.00,687.53L972.50,687.54L973.00,687.54L973.50,687.55L974.00,687.56L974.50,687.56L975.00,687.57L975.50,687.57L976.00,687.58L976.50,687.59L977.00,687.59L977.50,687.60L978.00,687.60L978.50,687.61L979.00,687.62L979.50,687.62L980.00,687.63L980.50,687.63L981.00,687.64L981.50,687.64L982.00,687.65L982.50,687.65L983.00,687.66L983.50,687.66L984.00,687.67L984.50,687.67L985.00,687.67L985.50,687.68L986.00,687.68L986.50,687.69L987.00,687.69L987.50,687.70L988.00,687.70L988.50,687.70L989.00,687.71L989.50,687.71L990.00,687.72L990.50,687.72L991.00,687.72L991.50,687.73L992.00,687.73L992.50,687.73L993.00,687.74L993.50,687.74L994.00,687.74L994.50,687.75L995.00,687.75" stroke="#ff0000" stroke-width="1.4" fill="none" stroke-linejoin="round"/><path d="M590.50,678.79L591.00,678.79L591.50,678.79L592.00,678.79L592.50,678.79L593.00,678.79L593.50,678.79L594.00,678.78L594.50,678.78L595.00,678.78L595.50,678.78L596.00,678.78L596.50,678.78L597.00,678.78L597.50,678.78L598.00,678.77L598.50,678.77L599.00,678.77L599.50,678.77L600.00,678.77L600.50,678.77L601.00,678.77L601.50,678.76L602.00,678.76L602.50,678.76L603.00,678.76L603.50,678.76L604.00,678.76L604.50,678.75L605.00,678.75L605.50,678.75L606.00,678.75L606.50,678.75L607.00,678.75L607.50,678.74L608.00,678.74L608.50,678.74L609.00,678.74L609.50,678.74L610.00,678.74L610.50,678.73L611.00,678.73L611.50,678.73L612.00,678.73L612.50,678.73L613.00,678.72L613.50,678.72L614.00,678.72L614.50,678.72L615.00,678.72L615.50,678.72L616.00,678.71L616.50,678.71L617.00,678.71L617.50,678.71L618.00,678.71L618.50,678.70L619.00,678.70L619.50,678.70L620.00,678.70L620.50,678.69L621.00,678.69L621.50,678.69L622.00,678.69L622.50,678.69L623.00,678.68L623.50,678.68L624.00,678.68L624.50,678.68L625.00,678.68L625.50,678.67L626.00,678.67L626.50,678.67L627.00,678.67L627.50,678.66L628.00,678.66L628.50,678.66L629.00,678.66L629.50,678.65L630.00,678.65L630.50,678.65L631.00,678.65L631.50,678.64L632.00,678.64L632.50,678.64L633.00,678.64L633.50,678.63L634.00,678.63L634.50,678.63L635.00,678.63L635.50,678.62L636.00,678.62L636.50,678.62L637.00,678.62L637.50,678.61L638.00,678.61L638.50,678.61L639.00,678.61L639.50,678.60L640.00,678.60L640.50,678.60L641.00,678.59L641.50,678.59L642.00,678.59L642.50,678.59L643.00,678.58L643.50,678.58L644.00,678.58L644.50,678.57L645.00,678.57L645.50,678.57L646.00,678.56L646.50,678.56L647.00,678.56L647.50,678.56L648.00,678.55L648.50,678.55L649.00,678.55L649.50,678.54L650.00,678.54L650.50,678.54L651.00,678.53L651.50,678.53L652.00,678.53L652.50,678.52L653.00,678.52L653.50,678.52L654.00,678.51L654.50,678.51L655.00,678.51L655.50,678.50L656.00,678.50L656.50,678.50L657.00,678.49L657.50,678.49L658.00,678.49L658.50,678.48L659.00,678.48L659.50,678.48L660.00,678.47L660.50,678.47L661.00,678.46L661.50,678.46L662.00,678.46L662.50,678.45L663.00,678.45L663.50,678.45L664.00,678.44L664.50,678.44L665.00,678.43L665.50,678.43L666.00,678.43L666.50,678.42L667.00,678.42L667.50,678.41L668.00,678.41L668.50,678.41L669.00,678.40L669.50,678.40L670.00,678.39L670.50,678.39L671.00,678.38L671.50,678.38L672.00,678.38L672.50,678.37L673.00,678.37L673.50,678.36L674.00,678.36L674.50,678.35L675.00,678.35L675.50,678.34L676.00,678.34L676.50,678.33L677.00,678.33L677.50,678.32L678.00,678.32L678.50,678.31L679.00,678.31L679.50,678.30L680.00,678.30L680.50,678.29L681.00,678.29L681.50,678.28L682.00,678.28L682.50,678.27L683.00,678.27L683.50,678.26L684.00,678.26L684.50,678.25L685.00,678.24L685.50,678.24L686.00,678.23L686.50,678.23L687.00,678.22L687.50,678.21L688.00,678.21L688.50,678.20L689.00,678.20L689.50,678.19L690.00,678.18L690.50,678.18L691.00,678.17L691.50,678.16L692.00,678.16L692.50,678.15L693.00,678.14L693.50,678.13L694.00,678.13L694.50,678.12L695.00,678.11L695.50,678.11L696.00,678.10L696.50,678.09L697.00,678.08L697.50,678.07L698.00,678.07L698.50,678.06L699.00,678.05L699.50,678.04L700.00,678.03L700.50,678.02L701.00,678.01L701.50,678.00L702.00,677.99L702.50,677.98L703.00,677.97L703.50,677.96L704.00,677.95L704.50,677.94L705.00,677.93L705.50,677.91L706.00,677.90L706.50,677.89L707.00,677.88L707.50,677.86L708.00,677.85L708.50,677.84L709.00,677.82L709.50,677.81L710.00,677.80L710.50,677.78L711.00,677.77L711.50,677.75L712.00,677.74L712.50,677.72L713.00,677.71L713.50,677.69L714.00,677.68L714.50,677.66L715.00,677.65L715.50,677.63L716.00,677.61L716.50,677.60L717.00,677.58L717.50,677.56L718.00,677.55L718.50,677.53L719.00,677.51L719.50,677.50L720.00,677.48L720.50,677.46L721.00,677.44L721.50,677.43L722.00,677.41L722.50,677.39L723.00,677.37L723.50,677.35L724.00,677.33L724.50,677.30L725.00,677.28L725.50,677.26L726.00,677.24L726.50,677.21L727.00,677.19L727.50,677.16L728.00,677.14L728.50,677.11L729.00,677.08L729.50,677.06L730.00,677.03L730.50,677.00L731.00,676.97L731.50,676.94L732.00,676.90L732.50,676.87L733.00,676.84L733.50,676.80L734.00,676.77L734.50,676.73L735.00,676.69L735.50,676.65L736.00,676.61L736.50,676.57L737.00,676.53L737.50,676.48L738.00,676.44L738.50,676.39L739.00,676.35L739.50,676.30L740.00,676.25L740.50,676.19L741.00,676.14L741.50,676.08L742.00,676.03L742.50,675.97L743.00,675.91L743.50,675.85L744.00,675.78L744.50,675.72L745.00,675.65L745.50,675.58L746.00,675.50L746.50,675.43L747.00,675.35L747.50,675.27L748.00,675.19L748.50,675.11L749.00,675.02L749.50,674.93L750.00,674.84L750.50,674.74L751.00,674.64L751.50,674.54L752.00,674.44L752.50,674.33L753.00,674.21L753.50,674.10L754.00,673.98L754.50,673.86L755.00,673.73L755.50,673.60L756.00,673.46L756.50,673.32L757.00,673.18L757.50,673.03L758.00,672.88L758.50,672.72L759.00,672.55L759.50,672.38L760.00,672.21L760.50,672.03L761.00,671.84L761.50,671.65L762.00,671.45L762.50,671.25L763.00,671.03L763.50,670.81L764.00,670.59L764.50,670.35L765.00,670.11L765.50,669.86L766.00,669.60L766.50,669.34L767.00,669.06L767.50,668.77L768.00,668.48L768.50,668.18L769.00,667.87L769.50,667.55L770.00,667.22L770.50,666.88L771.00,666.52L771.50,666.16L772.00,665.79L772.50,665.40L773.00,665.00L773.50,664.59L774.00,664.16L774.50,663.73L775.00,663.27L775.50,662.80L776.00,662.32L776.50,661.82L777.00,661.31L777.50,660.78L778.00,660.23L778.50,659.66L779.00,659.07L779.50,658.47L780.00,657.84L780.50,657.20L781.00,656.53L781.50,655.84L782.00,655.13L782.50,654.40L783.00,653.64L783.50,652.86L784.00,652.05L784.50,651.22L785.00,650.36L785.50,649.47L786.00,648.55L786.50,647.61L787.00,646.64L787.50,645.63L788.00,644.60L788.50,643.53L789.00,642.43L789.50,641.29L790.00,640.13L790.50,638.92L791.00,637.69L791.50,636.43L792.00,635.13L792.50,633.81L793.00,632.45L793.50,631.05L794.00,629.62L794.50,628.15L795.00,626.64L795.50,625.09L796.00,623.50L796.50,621.86L797.00,620.19L797.50,618.47L798.00,616.70L798.50,614.89L799.00,613.03L799.50,611.12L800.00,609.16L800.50,607.16L801.00,605.10L801.50,603.00L802.00,600.85L802.50,598.65L803.00,596.41L803.50,594.12L804.00,591.79L804.50,589.41L805.00,586.99L805.50,584.53L806.00,582.03L806.50,579.49L807.00,576.91L807.50,574.29L808.00,571.64L808.50,568.96L809.00,566.24L809.50,563.50L810.00,560.72L810.50,557.93L811.00,555.11L811.50,552.27L812.00,549.42L812.50,546.55L813.00,543.67L813.50,540.79L814.00,537.90L814.50,535.01L815.00,532.13L815.50,529.25L816.00,526.39L816.50,523.55L817.00,520.72L817.50,517.92L818.00,515.15L818.50,512.41L819.00,509.72L819.50,507.07L820.00,504.46L820.50,501.91L821.00,499.42L821.50,496.99L822.00,494.63L822.50,492.34L823.00,490.13L823.50,488.00L824.00,485.95L824.50,484.00L825.00,482.14L825.50,480.38L826.00,478.73L826.50,477.18L827.00,475.75L827.50,474.43L828.00,473.22L828.50,472.14L829.00,471.18L829.50,470.35L830.00,469.65L830.50,469.08L831.00,468.65L831.50,468.34L832.00,468.18L832.50,468.15L833.00,468.26L833.50,468.56L834.00,469.04L834.50,469.71L835.00,470.56L835.50,471.59L836.00,472.79L836.50,474.17L837.00,475.71L837.50,477.42L838.00,479.28L838.50,481.29L839.00,483.44L839.50,485.72L840.00,488.14L840.50,490.67L841.00,493.32L841.50,496.07L842.00,498.92L842.50,501.85L843.00,504.87L843.50,507.95L844.00,511.10L844.50,514.30L845.00,517.55L845.50,520.83L846.00,524.15L846.50,527.49L847.00,530.85L847.50,534.22L848.00,537.59L848.50,540.95L849.00,544.31L849.50,547.65L850.00,550.98L850.50,554.29L851.00,557.58L851.50,560.83L852.00,564.05L852.50,567.23L853.00,570.38L853.50,573.48L854.00,576.53L854.50,579.54L855.00,582.50L855.50,585.40L856.00,588.26L856.50,591.05L857.00,593.79L857.50,596.47L858.00,599.10L858.50,601.67L859.00,604.17L859.50,606.62L860.00,609.01L860.50,611.35L861.00,613.62L861.50,615.83L862.00,617.99L862.50,620.09L863.00,622.13L863.50,624.11L864.00,626.04L864.50,627.92L865.00,629.74L865.50,631.51L866.00,633.22L866.50,634.89L867.00,636.50L867.50,638.07L868.00,639.59L868.50,641.06L869.00,642.48L869.50,643.86L870.00,645.20L870.50,646.50L871.00,647.75L871.50,648.97L872.00,650.15L872.50,651.29L873.00,652.40L873.50,653.47L874.00,654.51L874.50,655.51L875.00,656.48L875.50,657.43L876.00,658.34L876.50,659.22L877.00,660.08L877.50,660.90L878.00,661.71L878.50,662.48L879.00,663.23L879.50,663.96L880.00,664.66L880.50,665.35L881.00,666.01L881.50,666.64L882.00,667.26L882.50,667.86L883.00,668.44L883.50,669.00L884.00,669.55L884.50,670.07L885.00,670.58L885.50,671.07L886.00,671.55L886.50,672.01L887.00,672.46L887.50,672.90L888.00,673.32L888.50,673.72L889.00,674.12L889.50,674.50L890.00,674.87L890.50,675.23L891.00,675.58L891.50,675.91L892.00,676.24L892.50,676.56L893.00,676.86L893.50,677.16L894.00,677.45L894.50,677.73L895.00,678.00L895.50,678.26L896.00,678.52L896.50,678.76L897.00,679.00L897.50,679.24L898.00,679.46L898.50,679.68L899.00,679.89L899.50,680.10L900.00,680.30L900.50,680.49L901.00,680.68L901.50,680.86L902.00,681.04L902.50,681.21L903.00,681.38L903.50,681.54L904.00,681.70L904.50,681.85L905.00,682.00L905.50,682.14L906.00,682.28L906.50,682.42L907.00,682.55L907.50,682.68L908.00,682.81L908.50,682.93L909.00,683.05L909.50,683.16L910.00,683.28L910.50,683.39L911.00,683.49L911.50,683.60L912.00,683.70L912.50,683.79L913.00,683.89L913.50,683.98L914.00,684.07L914.50,684.16L915.00,684.25L915.50,684.33L916.00,684.41L916.50,684.49L917.00,684.57L917.50,684.64L918.00,684.71L918.50,684.79L919.00,684.85L919.50,684.92L920.00,684.99L920.50,685.05L921.00,685.12L921.50,685.18L922.00,685.24L922.50,685.29L923.00,685.35L923.50,685.41L924.00,685.46L924.50,685.51L925.00,685.56L925.50,685.61L926.00,685.66L926.50,685.71L927.00,685.75L927.50,685.80L928.00,685.84L928.50,685.89L929.00,685.93L929.50,685.97L930.00,686.01L930.50,686.05L931.00,686.09L931.50,686.13L932.00,686.16L932.50,686.20L933.00,686.23L933.50,686.27L934.00,686.30L934.50,686.33L935.00,686.36L935.50,686.39L936.00,686.43L936.50,686.45L937.00,686.48L937.50,686.51L938.00,686.54L938.50,686.57L939.00,686.59L939.50,686.62L940.00,686.64L940.50,686.67L941.00,686.69L941.50,686.72L942.00,686.74L942.50,686.76L943.00,686.78L943.50,686.81L944.00,686.83L944.50,686.85L945.00,686.87L945.50,686.89L946.00,686.91L946.50,686.93L947.00,686.95L947.50,686.96L948.00,686.98L948.50,687.00L949.00,687.02L949.50,687.03L950.00,687.05L950.50,687.07L951.00,687.08L951.50,687.10L952.00,687.11L952.50,687.13L953.00,687.14L953.50,687.16L954.00,687.17L954.50,687.18L955.00,687.20L955.50,687.21L956.00,687.22L956.50,687.24L957.00,687.25L957.50,687.26L958.00,687.27L958.50,687.28L959.00,687.30L959.50,687.31L960.00,687.32L960.50,687.33L961.00,687.34L961.50,687.35L962.00,687.36L962.50,687.37L963.00,687.38L963.50,687.39L964.00,687.40L964.50,687.41L965.00,687.42L965.50,687.43L966.00,687.44L966.50,687.44L967.00,687.45L967.50,687.46L968.00,687.47L968.50,687.48L969.00,687.48L969.50,687.49L970.00,687.50L970.50,687.51L971.00,687.51L971.50,687.52L972.00,687.53L972.50,687.54L973.00,687.54L973.50,687.55L974.00,687.56L974.50,687.56L975.00,687.57L975.50,687.57L976.00,687.58L976.50,687.59L977.00,687.59L977.50,687.60L978.00,687.60L978.50,687.61L979.00,687.62L979.50,687.62L980.00,687.63L980.50,687.63L981.00,687.64L981.50,687.64L982.00,687.65L982.50,687.65L983.00,687.66L983.50,687.66L984.00,687.67L984.50,687.67L985.00,687.67L985.50,687.68L986.00,687.68L986.50,687.69L987.00,687.69L987.50,687.70L988.00,687.70L988.50,687.70L989.00,687.71L989.50,687.71L990.00,687.72L990.50,687.72L991.00,687.72L991.50,687.73L992.00,687.73L992.50,687.73L993.00,687.74L993.50,687.74L994.00,687.74L994.50,687.75L995.00,687.75" stroke="#ff00ff" stroke-width="1.3" fill="none" stroke-linejoin="round"/><path d="M590.50,678.80L591.00,678.80L591.50,678.80L592.00,678.80L592.50,678.80L593.00,678.80L593.50,678.80L594.00,678.80L594.50,678.80L595.00,678.80L595.50,678.80L596.00,678.80L596.50,678.80L597.00,678.80L597.50,678.80L598.00,678.80L598.50,678.80L599.00,678.80L599.50,678.80L600.00,678.79L600.50,678.79L601.00,678.79L601.50,678.79L602.00,678.79L602.50,678.79L603.00,678.79L603.50,678.79L604.00,678.79L604.50,678.79L605.00,678.79L605.50,678.79L606.00,678.79L606.50,678.78L607.00,678.78L607.50,678.78L608.00,678.78L608.50,678.78L609.00,678.78L609.50,678.78L610.00,678.78L610.50,678.78L611.00,678.78L611.50,678.77L612.00,678.77L612.50,678.77L613.00,678.77L613.50,678.77L614.00,678.77L614.50,678.77L615.00,678.77L615.50,678.76L616.00,678.76L616.50,678.76L617.00,678.76L617.50,678.76L618.00,678.76L618.50,678.76L619.00,678.75L619.50,678.75L620.00,678.75L620.50,678.75L621.00,678.75L621.50,678.75L622.00,678.74L622.50,678.74L623.00,678.74L623.50,678.74L624.00,678.74L624.50,678.74L625.00,678.73L625.50,678.73L626.00,678.73L626.50,678.73L627.00,678.73L627.50,678.72L628.00,678.72L628.50,678.72L629.00,678.72L629.50,678.72L630.00,678.71L630.50,678.71L631.00,678.71L631.50,678.71L632.00,678.71L632.50,678.70L633.00,678.70L633.50,678.70L634.00,678.70L634.50,678.70L635.00,678.69L635.50,678.69L636.00,678.69L636.50,678.69L637.00,678.68L637.50,678.68L638.00,678.68L638.50,678.68L639.00,678.67L639.50,678.67L640.00,678.67L640.50,678.67L641.00,678.67L641.50,678.66L642.00,678.66L642.50,678.66L643.00,678.66L643.50,678.65L644.00,678.65L644.50,678.65L645.00,678.65L645.50,678.64L646.00,678.64L646.50,678.64L647.00,678.63L647.50,678.63L648.00,678.63L648.50,678.63L649.00,678.62L649.50,678.62L650.00,678.62L650.50,678.62L651.00,678.61L651.50,678.61L652.00,678.61L652.50,678.61L653.00,678.60L653.50,678.60L654.00,678.60L654.50,678.59L655.00,678.59L655.50,678.59L656.00,678.59L656.50,678.58L657.00,678.58L657.50,678.58L658.00,678.57L658.50,678.57L659.00,678.57L659.50,678.56L660.00,678.56L660.50,678.56L661.00,678.56L661.50,678.55L662.00,678.55L662.50,678.55L663.00,678.54L663.50,678.54L664.00,678.54L664.50,678.53L665.00,678.53L665.50,678.53L666.00,678.53L666.50,678.52L667.00,678.52L667.50,678.52L668.00,678.51L668.50,678.51L669.00,678.51L669.50,678.50L670.00,678.50L670.50,678.50L671.00,678.49L671.50,678.49L672.00,678.49L672.50,678.48L673.00,678.48L673.50,678.48L674.00,678.47L674.50,678.47L675.00,678.47L675.50,678.47L676.00,678.46L676.50,678.46L677.00,678.46L677.50,678.45L678.00,678.45L678.50,678.45L679.00,678.44L679.50,678.44L680.00,678.44L680.50,678.43L681.00,678.43L681.50,678.43L682.00,678.42L682.50,678.42L683.00,678.42L683.50,678.41L684.00,678.41L684.50,678.41L685.00,678.40L685.50,678.40L686.00,678.40L686.50,678.39L687.00,678.39L687.50,678.39L688.00,678.38L688.50,678.38L689.00,678.38L689.50,678.37L690.00,678.37L690.50,678.36L691.00,678.36L691.50,678.36L692.00,678.35L692.50,678.35L693.00,678.35L693.50,678.34L694.00,678.34L694.50,678.34L695.00,678.33L695.50,678.33L696.00,678.33L696.50,678.32L697.00,678.32L697.50,678.32L698.00,678.31L698.50,678.31L699.00,678.31L699.50,678.30L700.00,678.30L700.50,678.30L701.00,678.29L701.50,678.29L702.00,678.29L702.50,678.28L703.00,678.28L703.50,678.28L704.00,678.27L704.50,678.27L705.00,678.26L705.50,678.26L706.00,678.26L706.50,678.25L707.00,678.25L707.50,678.24L708.00,678.24L708.50,678.24L709.00,678.23L709.50,678.23L710.00,678.22L710.50,678.22L711.00,678.21L711.50,678.21L712.00,678.20L712.50,678.20L713.00,678.19L713.50,678.19L714.00,678.18L714.50,678.18L715.00,678.17L715.50,678.16L716.00,678.16L716.50,678.15L717.00,678.14L717.50,678.14L718.00,678.13L718.50,678.12L719.00,678.12L719.50,678.11L720.00,678.10L720.50,678.09L721.00,678.08L721.50,678.07L722.00,678.07L722.50,678.06L723.00,678.05L723.50,678.03L724.00,678.02L724.50,678.01L725.00,678.00L725.50,677.99L726.00,677.98L726.50,677.96L727.00,677.95L727.50,677.93L728.00,677.92L728.50,677.90L729.00,677.89L729.50,677.87L730.00,677.86L730.50,677.84L731.00,677.82L731.50,677.80L732.00,677.78L732.50,677.76L733.00,677.74L733.50,677.72L734.00,677.70L734.50,677.68L735.00,677.66L735.50,677.64L736.00,677.61L736.50,677.59L737.00,677.57L737.50,677.54L738.00,677.51L738.50,677.49L739.00,677.46L739.50,677.43L740.00,677.41L740.50,677.38L741.00,677.35L741.50,677.32L742.00,677.29L742.50,677.26L743.00,677.23L743.50,677.19L744.00,677.16L744.50,677.13L745.00,677.09L745.50,677.06L746.00,677.02L746.50,676.98L747.00,676.95L747.50,676.91L748.00,676.87L748.50,676.83L749.00,676.79L749.50,676.75L750.00,676.71L750.50,676.66L751.00,676.62L751.50,676.58L752.00,676.52L752.50,676.46L753.00,676.40L753.50,676.34L754.00,676.27L754.50,676.19L755.00,676.12L755.50,676.03L756.00,675.95L756.50,675.86L757.00,675.76L757.50,675.67L758.00,675.56L758.50,675.46L759.00,675.34L759.50,675.23L760.00,675.11L760.50,674.98L761.00,674.85L761.50,674.72L762.00,674.58L762.50,674.43L763.00,674.28L763.50,674.13L764.00,673.97L764.50,673.80L765.00,673.63L765.50,673.45L766.00,673.27L766.50,673.08L767.00,672.88L767.50,672.68L768.00,672.47L768.50,672.23L769.00,671.99L769.50,671.75L770.00,671.51L770.50,671.27L771.00,671.03L771.50,670.79L772.00,670.55L772.50,670.31L773.00,670.07L773.50,669.83L774.00,669.60L774.50,669.37L775.00,669.14L775.50,668.92L776.00,668.70L776.50,668.49L777.00,668.28L777.50,668.07L778.00,667.87L778.50,667.68L779.00,667.49L779.50,667.31L780.00,667.14L780.50,666.98L781.00,666.82L781.50,666.67L782.00,666.54L782.50,666.41L783.00,666.29L783.50,666.18L784.00,666.08L784.50,665.99L785.00,665.91L785.50,665.84L786.00,665.78L786.50,665.73L787.00,665.70L787.50,665.67L788.00,665.66L788.50,665.66L789.00,665.67L789.50,665.70L790.00,665.73L790.50,665.79L791.00,665.85L791.50,665.93L792.00,666.02L792.50,666.12L793.00,666.24L793.50,666.37L794.00,666.52L794.50,666.68L795.00,666.85L795.50,667.02L796.00,667.22L796.50,667.42L797.00,667.63L797.50,667.85L798.00,668.07L798.50,668.31L799.00,668.56L799.50,668.81L800.00,669.07L800.50,669.33L801.00,669.60L801.50,669.88L802.00,670.16L802.50,670.44L803.00,670.73L803.50,671.02L804.00,671.32L804.50,671.62L805.00,671.92L805.50,672.22L806.00,672.52L806.50,672.82L807.00,673.12L807.50,673.43L808.00,673.73L808.50,674.03L809.00,674.32L809.50,674.62L810.00,674.91L810.50,675.20L811.00,675.49L811.50,675.77L812.00,676.04L812.50,676.31L813.00,676.58L813.50,676.83L814.00,677.09L814.50,677.33L815.00,677.57L815.50,677.79L816.00,678.02L816.50,678.23L817.00,678.44L817.50,678.64L818.00,678.83L818.50,679.02L819.00,679.21L819.50,679.39L820.00,679.56L820.50,679.73L821.00,679.90L821.50,680.07L822.00,680.23L822.50,680.39L823.00,680.55L823.50,680.70L824.00,680.86L824.50,681.01L825.00,681.15L825.50,681.30L826.00,681.44L826.50,681.59L827.00,681.72L827.50,681.86L828.00,682.00L828.50,682.13L829.00,682.26L829.50,682.39L830.00,682.51L830.50,682.64L831.00,682.76L831.50,682.88L832.00,683.00L832.50,683.12L833.00,683.23L833.50,683.34L834.00,683.45L834.50,683.56L835.00,683.67L835.50,683.77L836.00,683.88L836.50,683.98L837.00,684.08L837.50,684.18L838.00,684.27L838.50,684.37L839.00,684.46L839.50,684.55L840.00,684.64L840.50,684.73L841.00,684.82L841.50,684.90L842.00,684.98L842.50,685.07L843.00,685.15L843.50,685.23L844.00,685.31L844.50,685.39L845.00,685.47L845.50,685.54L846.00,685.62L846.50,685.69L847.00,685.76L847.50,685.83L848.00,685.90L848.50,685.97L849.00,686.04L849.50,686.11L850.00,686.18L850.50,686.24L851.00,686.31L851.50,686.37L852.00,686.44L852.50,686.50L853.00,686.56L853.50,686.63L854.00,686.69L854.50,686.75L855.00,686.81L855.50,686.87L856.00,686.93L856.50,686.98L857.00,687.04L857.50,687.10L858.00,687.15L858.50,687.20L859.00,687.24L859.50,687.29L860.00,687.33L860.50,687.37L861.00,687.41L861.50,687.45L862.00,687.48L862.50,687.52L863.00,687.55L863.50,687.58L864.00,687.61L864.50,687.64L865.00,687.66L865.50,687.69L866.00,687.71L866.50,687.73L867.00,687.75L867.50,687.76L868.00,687.77L868.50,687.79L869.00,687.79L869.50,687.80L870.00,687.81L870.50,687.81L871.00,687.82L871.50,687.83L872.00,687.83L872.50,687.84L873.00,687.84L873.50,687.85L874.00,687.85L874.50,687.86L875.00,687.86L875.50,687.87L876.00,687.87L876.50,687.88L877.00,687.88L877.50,687.89L878.00,687.89L878.50,687.90L879.00,687.90L879.50,687.91L880.00,687.91L880.50,687.92L881.00,687.92L881.50,687.92L882.00,687.93L882.50,687.93L883.00,687.94L883.50,687.94L884.00,687.94L884.50,687.95L885.00,687.95L885.50,687.95L886.00,687.96L886.50,687.96L887.00,687.96L887.50,687.96L888.00,687.97L888.50,687.97L889.00,687.97L889.50,687.98L890.00,687.98L890.50,687.98L891.00,687.98L891.50,687.98L892.00,687.99L892.50,687.99L893.00,687.99L893.50,687.99L894.00,687.99L894.50,687.99L895.00,687.99L895.50,688.00L896.00,688.00L896.50,688.00L897.00,688.00L897.50,688.00L898.00,688.00L898.50,688.00L899.00,688.00L899.50,688.00L900.00,688.00L900.50,688.00L901.00,688.00L901.50,688.00L902.00,688.00L902.50,688.00L903.00,688.00L903.50,688.00L904.00,688.00L904.50,688.00L905.00,688.00L905.50,688.00L906.00,688.00L906.50,688.00L907.00,688.00L907.50,688.00L908.00,688.00L908.50,688.00L909.00,688.00L909.50,688.00L910.00,688.00L910.50,688.00L911.00,688.00L911.50,688.00L912.00,688.00L912.50,688.00L913.00,688.00L913.50,688.00L914.00,688.00L914.50,688.00L915.00,688.00L915.50,688.00L916.00,688.00L916.50,688.00L917.00,688.00L917.50,688.00L918.00,688.00L918.50,688.00L919.00,688.00L919.50,688.00L920.00,688.00L920.50,688.00L921.00,688.00L921.50,688.00L922.00,688.00L922.50,688.00L923.00,688.00L923.50,688.00L924.00,688.00L924.50,688.00L925.00,688.00L925.50,688.00L926.00,688.00L926.50,688.00L927.00,688.00L927.50,688.00L928.00,688.00L928.50,688.00L929.00,688.00L929.50,688.00L930.00,688.00L930.50,688.00L931.00,688.00L931.50,688.00L932.00,688.00L932.50,688.00L933.00,688.00L933.50,688.00L934.00,688.00L934.50,688.00L935.00,688.00L935.50,688.00L936.00,688.00L936.50,688.00L937.00,688.00L937.50,688.00L938.00,688.00L938.50,688.00L939.00,688.00L939.50,688.00L940.00,688.00L940.50,688.00L941.00,688.00L941.50,688.00L942.00,688.00L942.50,688.00L943.00,688.00L943.50,688.00L944.00,688.00L944.50,688.00L945.00,688.00L945.50,688.00L946.00,688.00L946.50,688.00L947.00,688.00L947.50,688.00L948.00,688.00L948.50,688.00L949.00,688.00L949.50,688.00L950.00,688.00L950.50,688.00L951.00,688.00L951.50,688.00L952.00,688.00L952.50,688.00L953.00,688.00L953.50,688.00L954.00,688.00L954.50,688.00L955.00,688.00L955.50,688.00L956.00,688.00L956.50,688.00L957.00,688.00L957.50,688.00L958.00,688.00L958.50,688.00L959.00,688.00L959.50,688.00L960.00,688.00L960.50,688.00L961.00,688.00L961.50,688.00L962.00,688.00L962.50,688.00L963.00,688.00L963.50,688.00L964.00,688.00L964.50,688.00L965.00,688.00L965.50,688.00L966.00,688.00L966.50,688.00L967.00,688.00L967.50,688.00L968.00,688.00L968.50,688.00L969.00,688.00L969.50,688.00L970.00,688.00L970.50,688.00L971.00,688.00L971.50,688.00L972.00,688.00L972.50,688.00L973.00,688.00L973.50,688.00L974.00,688.00L974.50,688.00L975.00,688.00L975.50,688.00L976.00,688.00L976.50,688.00L977.00,688.00L977.50,688.00L978.00,688.00L978.50,688.00L979.00,688.00L979.50,688.00L980.00,688.00L980.50,688.00L981.00,688.00L981.50,688.00L982.00,688.00L982.50,688.00L983.00,688.00L983.50,688.00L984.00,688.00L984.50,688.00L985.00,688.00L985.50,688.00L986.00,688.00L986.50,688.00L987.00,688.00L987.50,688.00L988.00,688.00L988.50,688.00L989.00,688.00L989.50,688.00L990.00,688.00L990.50,688.00L991.00,688.00L991.50,688.00L992.00,688.00L992.50,688.00L993.00,688.00L993.50,688.00L994.00,688.00L994.50,688.00L995.00,688.00" stroke="#008000" stroke-width="1.3" fill="none" stroke-linejoin="round"/><text x="761.8" y="443.8" font-family="'Liberation Sans', sans-serif" font-size="20.6" font-weight="normal" text-anchor="start" fill="#000" stroke="#000" stroke-width="0.35">C-C</text><text x="728.2" y="633" font-family="'Liberation Sans', sans-serif" font-size="20.6" font-weight="normal" text-anchor="start" fill="#000" stroke="#000" stroke-width="0.35">C-N</text><text x="652.5" y="646.3" font-family="'Liberation Sans', sans-serif" font-size="20.6" font-weight="normal" text-anchor="start" fill="#000" stroke="#000" stroke-width="0.35">O-C=O</text><path d="M829.10,469.30L799.73,452.39" stroke="#000" stroke-width="1.2" fill="none"/><path d="M792.80,448.40L802.10,450.29L799.10,455.49Z" fill="#000"/><path d="M787.60,665.20L750.23,642.46" stroke="#000" stroke-width="1.2" fill="none"/><path d="M743.40,638.30L752.65,640.42L749.53,645.54Z" fill="#000"/><path d="M746.30,676.20L697.90,654.48" stroke="#000" stroke-width="1.2" fill="none"/><path d="M690.60,651.20L700.04,652.15L697.58,657.62Z" fill="#000"/><rect x="57.2" y="808.3" width="403.7" height="299.0" fill="none" stroke="#000" stroke-width="2"/><path d="M57.20,1107.3L57.20,1113.8M137.94,1107.3L137.94,1113.8M218.68,1107.3L218.68,1113.8M299.42,1107.3L299.42,1113.8M380.16,1107.3L380.16,1113.8M460.90,1107.3L460.90,1113.8M97.57,1107.3L97.57,1111.3M178.31,1107.3L178.31,1111.3M259.05,1107.3L259.05,1111.3M339.79,1107.3L339.79,1111.3M420.53,1107.3L420.53,1111.3" stroke="#000" stroke-width="2" fill="none"/><text x="57.2" y="1133.3" font-family="'Liberation Sans', sans-serif" font-size="21" font-weight="normal" text-anchor="middle" fill="#000" stroke="#000" stroke-width="0.35">404</text><text x="137.94" y="1133.3" font-family="'Liberation Sans', sans-serif" font-size="21" font-weight="normal" text-anchor="middle" fill="#000" stroke="#000" stroke-width="0.35">402</text><text x="218.68" y="1133.3" font-family="'Liberation Sans', sans-serif" font-size="21" font-weight="normal" text-anchor="middle" fill="#000" stroke="#000" stroke-width="0.35">400</text><text x="299.42" y="1133.3" font-family="'Liberation Sans', sans-serif" font-size="21" font-weight="normal" text-anchor="middle" fill="#000" stroke="#000" stroke-width="0.35">398</text><text x="380.16" y="1133.3" font-family="'Liberation Sans', sans-serif" font-size="21" font-weight="normal" text-anchor="middle" fill="#000" stroke="#000" stroke-width="0.35">396</text><text x="460.9" y="1133.3" font-family="'Liberation Sans', sans-serif" font-size="21" font-weight="normal" text-anchor="middle" fill="#000" stroke="#000" stroke-width="0.35">394</text><text x="142.4" y="1163.7" font-family="'Liberation Sans', sans-serif" font-size="26.7" font-weight="normal" text-anchor="start" fill="#000" stroke="#000" stroke-width="0.35">Binding energy (eV)</text><text x="30" y="1033" font-family="'Liberation Sans', sans-serif" font-size="26.7" font-weight="normal" text-anchor="start" fill="#000" stroke="#000" stroke-width="0.35" transform="rotate(-90 30 1033)">Intensity (a.u.)</text><text x="8.8" y="811.6" font-family="'Liberation Serif', serif" font-size="29.5" font-weight="bold" text-anchor="start" fill="#000">(e)</text><path d="M58.20,1066.78L58.70,1066.79L59.20,1066.60L59.70,1066.58L60.20,1066.41L60.70,1066.59L61.20,1066.39L61.70,1066.41L62.20,1065.99L62.70,1066.11L63.20,1065.97L63.70,1065.89L64.20,1065.55L64.70,1065.26L65.20,1064.88L65.70,1064.68L66.20,1064.30L66.70,1064.34L67.20,1063.92L67.70,1063.72L68.20,1063.55L68.70,1063.45L69.20,1063.05L69.70,1062.79L70.20,1062.35L70.70,1062.22L71.20,1062.04L71.70,1062.22L72.20,1062.35L72.70,1062.12L73.20,1061.70L73.70,1061.33L74.20,1061.38L74.70,1061.66L75.20,1061.94L75.70,1062.27L76.20,1062.47L76.70,1063.02L77.20,1062.82L77.70,1062.55L78.20,1062.25L78.70,1062.52L79.20,1062.54L79.70,1062.33L80.20,1061.72L80.70,1061.32L81.20,1060.99L81.70,1061.37L82.20,1062.00L82.70,1062.50L83.20,1062.97L83.70,1063.34L84.20,1063.96L84.70,1064.06L85.20,1064.25L85.70,1064.20L86.20,1064.44L86.70,1064.40L87.20,1064.44L87.70,1064.51L88.20,1064.61L88.70,1064.79L89.20,1064.74L89.70,1064.93L90.20,1064.82L90.70,1065.04L91.20,1065.18L91.70,1065.28L92.20,1065.46L92.70,1065.58L93.20,1065.70L93.70,1065.17L94.20,1064.48L94.70,1064.26L95.20,1064.62L95.70,1064.81L96.20,1064.78L96.70,1064.26L97.20,1063.87L97.70,1063.66L98.20,1063.41L98.70,1063.45L99.20,1063.47L99.70,1063.66L100.20,1063.78L100.70,1063.62L101.20,1063.71L101.70,1063.69L102.20,1063.49L102.70,1063.22L103.20,1063.03L103.70,1063.41L104.20,1063.64L104.70,1063.78L105.20,1063.40L105.70,1062.96L106.20,1062.51L106.70,1061.92L107.20,1061.31L107.70,1061.27L108.20,1061.39L108.70,1061.77L109.20,1061.77L109.70,1061.79L110.20,1061.72L110.70,1062.12L111.20,1062.71L111.70,1063.34L112.20,1063.43L112.70,1063.51L113.20,1063.48L113.70,1063.63L114.20,1063.66L114.70,1063.76L115.20,1063.85L115.70,1064.23L116.20,1063.93L116.70,1063.81L117.20,1063.34L117.70,1063.08L118.20,1062.59L118.70,1062.01L119.20,1061.64L119.70,1061.01L120.20,1060.29L120.70,1060.22L121.20,1060.33L121.70,1060.55L122.20,1060.05L122.70,1059.67L123.20,1059.53L123.70,1059.60L124.20,1059.73L124.70,1060.04L125.20,1060.41L125.70,1060.49L126.20,1060.52L126.70,1060.95L127.20,1061.47L127.70,1061.87L128.20,1062.22L128.70,1062.38L129.20,1062.25L129.70,1061.66L130.20,1061.40L130.70,1060.59L131.20,1060.10L131.70,1059.22L132.20,1058.74L132.70,1057.97L133.20,1057.86L133.70,1058.02L134.20,1058.18L134.70,1058.51L135.20,1058.79L135.70,1059.24L136.20,1059.20L136.70,1059.32L137.20,1059.37L137.70,1059.26L138.20,1059.22L138.70,1059.08L139.20,1058.94L139.70,1058.59L140.20,1058.15L140.70,1057.54L141.20,1056.67L141.70,1056.01L142.20,1055.06L142.70,1054.53L143.20,1053.97L143.70,1053.60L144.20,1053.69L144.70,1053.32L145.20,1053.33L145.70,1053.00L146.20,1053.13L146.70,1053.49L147.20,1053.74L147.70,1054.20L148.20,1054.36L148.70,1054.60L149.20,1054.44L149.70,1054.72L150.20,1054.71L150.70,1054.67L151.20,1054.90L151.70,1054.91L152.20,1055.06L152.70,1054.65L153.20,1054.84L153.70,1054.63L154.20,1054.53L154.70,1054.31L155.20,1054.65L155.70,1054.41L156.20,1054.05L156.70,1053.29L157.20,1053.37L157.70,1053.03L158.20,1052.86L158.70,1052.26L159.20,1051.84L159.70,1051.57L160.20,1051.08L160.70,1051.24L161.20,1050.97L161.70,1050.91L162.20,1050.60L162.70,1050.16L163.20,1050.17L163.70,1049.97L164.20,1049.78L164.70,1049.41L165.20,1048.88L165.70,1048.91L166.20,1048.56L166.70,1048.18L167.20,1047.91L167.70,1047.64L168.20,1047.61L168.70,1047.46L169.20,1047.50L169.70,1047.38L170.20,1046.79L170.70,1046.52L171.20,1046.18L171.70,1046.40L172.20,1046.06L172.70,1046.16L173.20,1045.86L173.70,1045.68L174.20,1045.27L174.70,1044.66L175.20,1044.51L175.70,1044.22L176.20,1044.05L176.70,1043.71L177.20,1043.41L177.70,1043.30L178.20,1042.84L178.70,1042.55L179.20,1042.24L179.70,1041.90L180.20,1041.39L180.70,1040.82L181.20,1040.34L181.70,1040.08L182.20,1039.69L182.70,1039.17L183.20,1038.70L183.70,1038.56L184.20,1038.30L184.70,1037.93L185.20,1037.20L185.70,1036.67L186.20,1036.13L186.70,1035.58L187.20,1035.08L187.70,1034.42L188.20,1033.87L188.70,1033.29L189.20,1032.76L189.70,1032.17L190.20,1031.53L190.70,1030.96L191.20,1030.34L191.70,1029.77L192.20,1029.16L192.70,1028.54L193.20,1027.91L193.70,1027.28L194.20,1026.71L194.70,1026.12L195.20,1025.54L195.70,1024.90L196.20,1024.25L196.70,1023.57L197.20,1022.89L197.70,1022.17L198.20,1021.48L198.70,1020.71L199.20,1019.93L199.70,1019.12L200.20,1018.20L200.70,1017.20L201.20,1016.05L201.70,1014.88L202.20,1013.69L202.70,1012.44L203.20,1011.09L203.70,1009.65L204.20,1008.18L204.70,1006.78L205.20,1005.27L205.70,1003.78L206.20,1002.14L206.70,1000.60L207.20,999.01L207.70,997.33L208.20,995.62L208.70,993.72L209.20,991.92L209.70,989.97L210.20,988.14L210.70,986.21L211.20,984.35L211.70,982.43L212.20,980.51L212.70,978.54L213.20,976.58L213.70,974.53L214.20,972.49L214.70,970.39L215.20,968.36L215.70,966.38L216.20,964.33L216.70,962.31L217.20,960.17L217.70,958.15L218.20,956.14L218.70,954.28L219.20,952.48L219.70,950.72L220.20,948.94L220.70,947.21L221.20,945.44L221.70,943.62L222.20,941.80L222.70,939.99L223.20,938.25L223.70,936.41L224.20,934.44L224.70,932.41L225.20,930.15L225.70,927.81L226.20,925.34L226.70,922.79L227.20,920.23L227.70,917.60L228.20,914.99L228.70,912.33L229.20,909.72L229.70,907.22L230.20,904.85L230.70,902.59L231.20,900.40L231.70,898.35L232.20,896.50L232.70,894.70L233.20,893.00L233.70,891.33L234.20,889.83L234.70,888.39L235.20,886.91L235.70,885.55L236.20,884.04L236.70,882.61L237.20,881.06L237.70,879.58L238.20,878.09L238.70,876.55L239.20,874.99L239.70,873.30L240.20,871.59L240.70,869.92L241.20,868.26L241.70,866.63L242.20,865.00L242.70,863.47L243.20,861.99L243.70,860.64L244.20,859.43L244.70,858.40L245.20,857.41L245.70,856.42L246.20,855.45L246.70,854.59L247.20,853.73L247.70,852.96L248.20,852.24L248.70,851.59L249.20,850.94L249.70,850.35L250.20,849.72L250.70,849.25L251.20,848.72L251.70,848.32L252.20,847.88L252.70,847.49L253.20,847.12L253.70,846.73L254.20,846.37L254.70,846.07L255.20,845.88L255.70,845.74L256.20,845.74L256.70,845.77L257.20,845.86L257.70,845.94L258.20,845.93L258.70,845.97L259.20,845.99L259.70,846.15L260.20,846.28L260.70,846.61L261.20,847.02L261.70,847.65L262.20,848.40L262.70,849.32L263.20,850.41L263.70,851.49L264.20,852.65L264.70,853.74L265.20,855.03L265.70,856.23L266.20,857.43L266.70,858.57L267.20,859.79L267.70,860.98L268.20,862.16L268.70,863.26L269.20,864.42L269.70,865.76L270.20,867.21L270.70,868.77L271.20,870.21L271.70,871.66L272.20,873.15L272.70,874.71L273.20,876.23L273.70,877.78L274.20,879.34L274.70,880.93L275.20,882.52L275.70,884.10L276.20,885.80L276.70,887.46L277.20,889.04L277.70,890.68L278.20,892.42L278.70,894.29L279.20,896.08L279.70,897.88L280.20,899.72L280.70,901.68L281.20,903.59L281.70,905.63L282.20,907.62L282.70,909.70L283.20,911.68L283.70,913.67L284.20,915.63L284.70,917.59L285.20,919.45L285.70,921.39L286.20,923.27L286.70,925.15L287.20,927.05L287.70,928.92L288.20,930.78L288.70,932.55L289.20,934.38L289.70,936.24L290.20,938.07L290.70,939.80L291.20,941.61L291.70,943.31L292.20,945.14L292.70,946.91L293.20,948.70L293.70,950.55L294.20,952.26L294.70,954.02L295.20,955.72L295.70,957.55L296.20,959.46L296.70,961.28L297.20,963.20L297.70,965.02L298.20,967.00L298.70,968.97L299.20,971.02L299.70,973.08L300.20,975.16L300.70,977.33L301.20,979.49L301.70,981.58L302.20,983.61L302.70,985.63L303.20,987.69L303.70,989.72L304.20,991.70L304.70,993.48L305.20,995.18L305.70,996.84L306.20,998.53L306.70,1000.03L307.20,1001.37L307.70,1002.62L308.20,1003.86L308.70,1004.91L309.20,1005.90L309.70,1006.84L310.20,1007.81L310.70,1008.69L311.20,1009.52L311.70,1010.33L312.20,1011.23L312.70,1012.20L313.20,1013.36L313.70,1014.61L314.20,1016.01L314.70,1017.47L315.20,1019.03L315.70,1020.62L316.20,1022.22L316.70,1023.88L317.20,1025.46L317.70,1026.94L318.20,1028.30L318.70,1029.55L319.20,1030.73L319.70,1031.52L320.20,1032.20L320.70,1032.65L321.20,1033.20L321.70,1033.67L322.20,1034.12L322.70,1034.54L323.20,1034.93L323.70,1035.46L324.20,1035.96L324.70,1036.60L325.20,1037.17L325.70,1037.80L326.20,1038.45L326.70,1039.18L327.20,1039.89L327.70,1040.47L328.20,1041.11L328.70,1041.72L329.20,1042.41L329.70,1042.96L330.20,1043.85L330.70,1044.13L331.20,1044.37L331.70,1044.80L332.20,1045.57L332.70,1045.95L333.20,1046.19L333.70,1046.25L334.20,1046.82L334.70,1047.14L335.20,1047.98L335.70,1048.31L336.20,1048.85L336.70,1048.75L337.20,1048.69L337.70,1048.23L338.20,1048.53L338.70,1048.84L339.20,1049.11L339.70,1049.52L340.20,1049.80L340.70,1050.62L341.20,1050.41L341.70,1050.40L342.20,1050.49L342.70,1051.18L343.20,1051.62L343.70,1052.11L344.20,1052.51L344.70,1053.25L345.20,1053.37L345.70,1052.60L346.20,1052.09L346.70,1051.93L347.20,1052.10L347.70,1051.69L348.20,1051.22L348.70,1050.96L349.20,1050.90L349.70,1050.77L350.20,1050.69L350.70,1050.80L351.20,1051.14L351.70,1051.50L352.20,1052.01L352.70,1052.40L353.20,1052.64L353.70,1052.41L354.20,1052.59L354.70,1052.59L355.20,1053.33L355.70,1053.27L356.20,1053.86L356.70,1053.74L357.20,1054.13L357.70,1053.83L358.20,1053.86L358.70,1053.55L359.20,1053.49L359.70,1053.37L360.20,1053.61L360.70,1053.55L361.20,1053.85L361.70,1053.75L362.20,1054.11L362.70,1053.85L363.20,1054.00L363.70,1053.71L364.20,1053.89L364.70,1053.97L365.20,1054.24L365.70,1054.46L366.20,1054.68L366.70,1055.05L367.20,1054.94L367.70,1055.07L368.20,1055.21L368.70,1055.62L369.20,1055.73L369.70,1056.31L370.20,1056.82L370.70,1057.38L371.20,1057.49L371.70,1057.43L372.20,1057.46L372.70,1057.21L373.20,1057.66L373.70,1057.70L374.20,1058.24L374.70,1058.72L375.20,1059.53L375.70,1059.90L376.20,1060.03L376.70,1060.54L377.20,1061.13L377.70,1061.51L378.20,1061.57L378.70,1061.71L379.20,1061.73L379.70,1061.65L380.20,1061.20L380.70,1061.26L381.20,1061.15L381.70,1061.43L382.20,1061.31L382.70,1061.01L383.20,1060.94L383.70,1060.57L384.20,1060.81L384.70,1060.48L385.20,1060.53L385.70,1060.22L386.20,1060.36L386.70,1060.91L387.20,1061.23L387.70,1061.42L388.20,1061.09L388.70,1061.26L389.20,1061.41L389.70,1061.72L390.20,1062.18L390.70,1062.48L391.20,1062.94L391.70,1063.43L392.20,1063.96L392.70,1064.10L393.20,1064.26L393.70,1064.29L394.20,1064.18L394.70,1063.63L395.20,1063.18L395.70,1063.11L396.20,1062.91L396.70,1062.72L397.20,1062.57L397.70,1062.39L398.20,1061.86L398.70,1061.00L399.20,1060.66L399.70,1060.32L400.20,1060.20L400.70,1059.96L401.20,1060.25L401.70,1060.53L402.20,1060.83L402.70,1060.56L403.20,1060.73L403.70,1060.79L404.20,1061.34L404.70,1061.28L405.20,1060.94L405.70,1060.84L406.20,1060.49L406.70,1060.14L407.20,1059.30L407.70,1058.76L408.20,1058.14L408.70,1057.64L409.20,1057.45L409.70,1057.32L410.20,1057.66L410.70,1057.67L411.20,1058.21L411.70,1058.32L412.20,1058.46L412.70,1058.46L413.20,1058.61L413.70,1059.21L414.20,1059.79L414.70,1060.05L415.20,1060.05L415.70,1059.85L416.20,1060.24L416.70,1060.33L417.20,1060.38L417.70,1059.86L418.20,1059.76L418.70,1059.98L419.20,1059.96L419.70,1059.43L420.20,1058.66L420.70,1058.22L421.20,1057.67L421.70,1057.66L422.20,1057.39L422.70,1057.23L423.20,1056.43L423.70,1056.48L424.20,1056.82L424.70,1057.65L425.20,1057.96L425.70,1058.14L426.20,1057.96L426.70,1058.21L427.20,1058.58L427.70,1059.28L428.20,1059.34L428.70,1059.71L429.20,1059.92L429.70,1060.14L430.20,1059.96L430.70,1059.55L431.20,1059.58L431.70,1059.79L432.20,1059.82L432.70,1059.05L433.20,1058.53L433.70,1058.02L434.20,1058.36L434.70,1058.66L435.20,1059.10L435.70,1058.81L436.20,1058.92L436.70,1059.20L437.20,1060.24L437.70,1060.47L438.20,1060.83L438.70,1060.51L439.20,1060.91L439.70,1060.81L440.20,1061.01L440.70,1061.11L441.20,1061.70L441.70,1062.53L442.20,1062.89L442.70,1063.06L443.20,1063.09L443.70,1063.23L444.20,1063.38L444.70,1063.51L445.20,1063.09L445.70,1063.01L446.20,1062.77L446.70,1063.00L447.20,1062.64L447.70,1062.56L448.20,1062.29L448.70,1061.95L449.20,1061.54L449.70,1061.32L450.20,1061.22L450.70,1060.82L451.20,1060.77L451.70,1061.12L452.20,1061.71L452.70,1062.15L453.20,1062.39L453.70,1062.90L454.20,1062.86L454.70,1063.30L455.20,1063.17L455.70,1063.50L456.20,1063.00L456.70,1062.94L457.20,1062.96L457.70,1063.09L458.20,1062.93L458.70,1062.16L459.20,1061.87L459.70,1061.42" stroke="#000" stroke-width="1.6" fill="none" stroke-linejoin="round"/><rect x="588" y="807.7" width="410" height="303.20000000000005" fill="none" stroke="#000" stroke-width="2"/><path d="M588.00,1110.9L588.00,1117.4M646.57,1110.9L646.57,1117.4M705.14,1110.9L705.14,1117.4M763.71,1110.9L763.71,1117.4M822.29,1110.9L822.29,1117.4M880.86,1110.9L880.86,1117.4M939.43,1110.9L939.43,1117.4M998.00,1110.9L998.00,1117.4M617.29,1110.9L617.29,1114.9M675.86,1110.9L675.86,1114.9M734.43,1110.9L734.43,1114.9M793.00,1110.9L793.00,1114.9M851.57,1110.9L851.57,1114.9M910.14,1110.9L910.14,1114.9M968.71,1110.9L968.71,1114.9" stroke="#000" stroke-width="2" fill="none"/><text x="588.0" y="1137" font-family="'Liberation Sans', sans-serif" font-size="21" font-weight="normal" text-anchor="middle" fill="#000" stroke="#000" stroke-width="0.35">174</text><text x="646.57" y="1137" font-family="'Liberation Sans', sans-serif" font-size="21" font-weight="normal" text-anchor="middle" fill="#000" stroke="#000" stroke-width="0.35">172</text><text x="705.14" y="1137" font-family="'Liberation Sans', sans-serif" font-size="21" font-weight="normal" text-anchor="middle" fill="#000" stroke="#000" stroke-width="0.35">170</text><text x="763.71" y="1137" font-family="'Liberation Sans', sans-serif" font-size="21" font-weight="normal" text-anchor="middle" fill="#000" stroke="#000" stroke-width="0.35">168</text><text x="822.29" y="1137" font-family="'Liberation Sans', sans-serif" font-size="21" font-weight="normal" text-anchor="middle" fill="#000" stroke="#000" stroke-width="0.35">166</text><text x="880.86" y="1137" font-family="'Liberation Sans', sans-serif" font-size="21" font-weight="normal" text-anchor="middle" fill="#000" stroke="#000" stroke-width="0.35">164</text><text x="939.43" y="1137" font-family="'Liberation Sans', sans-serif" font-size="21" font-weight="normal" text-anchor="middle" fill="#000" stroke="#000" stroke-width="0.35">162</text><text x="998.0" y="1137" font-family="'Liberation Sans', sans-serif" font-size="21" font-weight="normal" text-anchor="middle" fill="#000" stroke="#000" stroke-width="0.35">160</text><text x="675.0" y="1170.9" font-family="'Liberation Sans', sans-serif" font-size="26.7" font-weight="normal" text-anchor="start" fill="#000" stroke="#000" stroke-width="0.35">Binding energy (eV)</text><text x="560.4" y="1035" font-family="'Liberation Sans', sans-serif" font-size="26.7" font-weight="normal" text-anchor="start" fill="#000" stroke="#000" stroke-width="0.35" transform="rotate(-90 560.4 1035)">Intensity (a.u.)</text><text x="526.8" y="811.6" font-family="'Liberation Serif', serif" font-size="29.5" font-weight="bold" text-anchor="start" fill="#000">(f)</text><path d="M589.00,1075.52L589.50,1075.60L590.00,1075.99L590.50,1075.78L591.00,1076.07L591.50,1076.08L592.00,1076.20L592.50,1075.85L593.00,1075.70L593.50,1075.89L594.00,1076.47L594.50,1076.99L595.00,1077.15L595.50,1076.95L596.00,1077.25L596.50,1077.64L597.00,1077.70L597.50,1077.42L598.00,1077.28L598.50,1077.54L599.00,1077.81L599.50,1077.91L600.00,1078.01L600.50,1078.02L601.00,1078.27L601.50,1078.15L602.00,1078.07L602.50,1078.34L603.00,1078.48L603.50,1078.58L604.00,1078.35L604.50,1078.32L605.00,1078.28L605.50,1078.55L606.00,1078.92L606.50,1078.81L607.00,1078.53L607.50,1078.07L608.00,1077.99L608.50,1077.96L609.00,1078.42L609.50,1078.62L610.00,1078.80L610.50,1078.23L611.00,1078.17L611.50,1077.83L612.00,1077.96L612.50,1078.05L613.00,1078.11L613.50,1077.99L614.00,1077.62L614.50,1077.52L615.00,1077.78L615.50,1078.13L616.00,1078.18L616.50,1078.11L617.00,1078.63L617.50,1079.23L618.00,1079.72L618.50,1079.91L619.00,1080.20L619.50,1080.48L620.00,1080.51L620.50,1080.77L621.00,1081.06L621.50,1081.43L622.00,1081.38L622.50,1081.21L623.00,1080.77L623.50,1080.40L624.00,1080.11L624.50,1080.07L625.00,1080.04L625.50,1080.25L626.00,1080.39L626.50,1080.28L627.00,1080.12L627.50,1079.66L628.00,1079.57L628.50,1079.34L629.00,1079.63L629.50,1079.73L630.00,1079.87L630.50,1079.93L631.00,1079.78L631.50,1080.01L632.00,1080.22L632.50,1080.91L633.00,1080.83L633.50,1080.79L634.00,1080.31L634.50,1080.90L635.00,1081.06L635.50,1081.60L636.00,1081.19L636.50,1081.29L637.00,1081.24L637.50,1081.39L638.00,1081.30L638.50,1081.31L639.00,1081.43L639.50,1081.37L640.00,1081.82L640.50,1081.99L641.00,1082.33L641.50,1082.10L642.00,1082.05L642.50,1082.00L643.00,1082.07L643.50,1082.05L644.00,1082.29L644.50,1082.14L645.00,1082.39L645.50,1081.98L646.00,1082.06L646.50,1081.96L647.00,1082.36L647.50,1082.54L648.00,1082.23L648.50,1081.86L649.00,1081.89L649.50,1081.99L650.00,1081.82L650.50,1081.73L651.00,1081.90L651.50,1081.95L652.00,1081.63L652.50,1081.75L653.00,1081.88L653.50,1081.89L654.00,1081.58L654.50,1081.89L655.00,1081.71L655.50,1081.88L656.00,1081.70L656.50,1082.13L657.00,1082.26L657.50,1082.31L658.00,1082.41L658.50,1082.43L659.00,1082.76L659.50,1082.31L660.00,1082.26L660.50,1082.07L661.00,1082.26L661.50,1082.53L662.00,1082.57L662.50,1082.44L663.00,1082.04L663.50,1081.95L664.00,1082.13L664.50,1081.90L665.00,1081.73L665.50,1081.63L666.00,1081.46L666.50,1081.20L667.00,1081.29L667.50,1081.60L668.00,1081.45L668.50,1081.11L669.00,1081.15L669.50,1081.43L670.00,1081.55L670.50,1081.25L671.00,1081.18L671.50,1081.34L672.00,1080.98L672.50,1081.10L673.00,1080.77L673.50,1080.95L674.00,1080.68L674.50,1080.65L675.00,1080.70L675.50,1080.83L676.00,1080.95L676.50,1081.31L677.00,1081.02L677.50,1081.24L678.00,1080.85L678.50,1081.15L679.00,1080.95L679.50,1081.34L680.00,1081.08L680.50,1081.16L681.00,1081.27L681.50,1081.73L682.00,1081.66L682.50,1081.49L683.00,1081.39L683.50,1081.45L684.00,1081.42L684.50,1081.28L685.00,1080.64L685.50,1080.39L686.00,1080.69L686.50,1080.86L687.00,1080.52L687.50,1079.72L688.00,1079.48L688.50,1079.31L689.00,1079.14L689.50,1079.51L690.00,1079.41L690.50,1079.43L691.00,1078.94L691.50,1078.73L692.00,1078.43L692.50,1078.18L693.00,1078.53L693.50,1078.53L694.00,1078.40L694.50,1078.07L695.00,1078.40L695.50,1078.62L696.00,1078.52L696.50,1078.08L697.00,1077.84L697.50,1077.51L698.00,1077.54L698.50,1076.78L699.00,1076.52L699.50,1075.66L700.00,1075.70L700.50,1075.10L701.00,1074.91L701.50,1074.70L702.00,1074.40L702.50,1073.58L703.00,1072.81L703.50,1072.40L704.00,1072.17L704.50,1071.79L705.00,1071.91L705.50,1071.75L706.00,1071.49L706.50,1071.11L707.00,1070.78L707.50,1070.48L708.00,1070.19L708.50,1069.83L709.00,1069.44L709.50,1068.92L710.00,1068.37L710.50,1067.74L711.00,1067.14L711.50,1066.56L712.00,1065.89L712.50,1065.18L713.00,1064.36L713.50,1063.61L714.00,1062.67L714.50,1061.71L715.00,1060.69L715.50,1059.82L716.00,1058.87L716.50,1057.77L717.00,1056.52L717.50,1055.23L718.00,1054.00L718.50,1052.58L719.00,1051.12L719.50,1049.46L720.00,1047.81L720.50,1046.13L721.00,1044.43L721.50,1042.67L722.00,1040.90L722.50,1039.15L723.00,1037.33L723.50,1035.48L724.00,1033.63L724.50,1031.77L725.00,1029.68L725.50,1027.53L726.00,1025.25L726.50,1022.97L727.00,1020.73L727.50,1018.49L728.00,1016.25L728.50,1013.90L729.00,1011.59L729.50,1009.30L730.00,1007.09L730.50,1004.85L731.00,1002.56L731.50,1000.32L732.00,998.11L732.50,995.92L733.00,993.66L733.50,991.33L734.00,989.02L734.50,986.71L735.00,984.40L735.50,982.01L736.00,979.61L736.50,977.23L737.00,974.98L737.50,972.63L738.00,970.24L738.50,967.79L739.00,965.46L739.50,963.18L740.00,960.95L740.50,958.71L741.00,956.50L741.50,954.33L742.00,952.21L742.50,950.10L743.00,947.92L743.50,945.81L744.00,943.81L744.50,941.94L745.00,940.11L745.50,938.37L746.00,936.77L746.50,935.31L747.00,933.91L747.50,932.59L748.00,931.30L748.50,930.06L749.00,928.84L749.50,927.65L750.00,926.41L750.50,925.15L751.00,923.91L751.50,922.63L752.00,921.28L752.50,919.84L753.00,918.41L753.50,917.05L754.00,915.67L754.50,914.35L755.00,912.95L755.50,911.55L756.00,910.11L756.50,908.67L757.00,907.15L757.50,905.61L758.00,904.05L758.50,902.55L759.00,901.04L759.50,899.58L760.00,898.01L760.50,896.33L761.00,894.52L761.50,892.79L762.00,891.05L762.50,889.15L763.00,887.17L763.50,885.09L764.00,883.04L764.50,880.98L765.00,878.80L765.50,876.63L766.00,874.38L766.50,872.29L767.00,870.23L767.50,868.34L768.00,866.53L768.50,864.86L769.00,863.22L769.50,861.55L770.00,859.91L770.50,858.30L771.00,856.81L771.50,855.38L772.00,853.97L772.50,852.64L773.00,851.30L773.50,849.97L774.00,848.50L774.50,847.07L775.00,845.60L775.50,844.10L776.00,842.64L776.50,841.27L777.00,839.97L777.50,838.66L778.00,837.52L778.50,836.45L779.00,835.65L779.50,834.85L780.00,834.42L780.50,834.13L781.00,834.17L781.50,834.43L782.00,834.93L782.50,835.65L783.00,836.59L783.50,837.80L784.00,839.11L784.50,840.50L785.00,841.84L785.50,843.22L786.00,844.66L786.50,846.34L787.00,848.22L787.50,850.44L788.00,852.71L788.50,855.06L789.00,857.39L789.50,859.78L790.00,862.24L790.50,864.71L791.00,867.43L791.50,870.24L792.00,873.11L792.50,875.97L793.00,878.92L793.50,881.98L794.00,885.16L794.50,888.32L795.00,891.59L795.50,895.07L796.00,898.77L796.50,902.56L797.00,906.37L797.50,910.29L798.00,914.26L798.50,918.18L799.00,922.07L799.50,926.03L800.00,929.96L800.50,933.81L801.00,937.48L801.50,941.26L802.00,945.00L802.50,948.80L803.00,952.53L803.50,956.31L804.00,960.17L804.50,964.01L805.00,968.02L805.50,972.35L806.00,976.88L806.50,981.42L807.00,985.94L807.50,990.46L808.00,994.78L808.50,998.81L809.00,1002.40L809.50,1005.60L810.00,1008.63L810.50,1011.45L811.00,1014.21L811.50,1016.73L812.00,1019.25L812.50,1021.55L813.00,1023.85L813.50,1026.03L814.00,1028.28L814.50,1030.48L815.00,1032.89L815.50,1035.32L816.00,1038.03L816.50,1040.82L817.00,1043.97L817.50,1047.10L818.00,1050.30L818.50,1053.30L819.00,1056.00L819.50,1058.23L820.00,1059.96L820.50,1061.27L821.00,1062.49L821.50,1063.51L822.00,1064.53L822.50,1065.48L823.00,1066.39L823.50,1067.05L824.00,1067.69L824.50,1068.33L825.00,1069.05L825.50,1069.64L826.00,1070.18L826.50,1070.59L827.00,1071.02L827.50,1071.42L828.00,1071.93L828.50,1072.31L829.00,1072.71L829.50,1072.98L830.00,1073.39L830.50,1073.95L831.00,1074.48L831.50,1074.64L832.00,1074.95L832.50,1075.35L833.00,1075.57L833.50,1075.67L834.00,1075.95L834.50,1075.83L835.00,1075.94L835.50,1076.34L836.00,1076.91L836.50,1077.70L837.00,1078.02L837.50,1078.28L838.00,1077.72L838.50,1077.55L839.00,1077.69L839.50,1078.59L840.00,1078.97L840.50,1078.84L841.00,1078.81L841.50,1079.08L842.00,1079.74L842.50,1080.00L843.00,1079.79L843.50,1079.69L844.00,1079.64L844.50,1080.08L845.00,1080.09L845.50,1080.28L846.00,1080.36L846.50,1080.14L847.00,1080.16L847.50,1080.13L848.00,1080.50L848.50,1080.37L849.00,1080.48L849.50,1080.96L850.00,1081.20L850.50,1080.89L851.00,1080.56L851.50,1080.52L852.00,1080.40L852.50,1080.54L853.00,1080.45L853.50,1080.86L854.00,1080.68L854.50,1080.92L855.00,1080.84L855.50,1080.90L856.00,1080.89L856.50,1081.28L857.00,1081.42L857.50,1081.38L858.00,1081.41L858.50,1081.64L859.00,1081.77L859.50,1081.87L860.00,1081.98L860.50,1081.82L861.00,1081.46L861.50,1081.68L862.00,1081.77L862.50,1081.66L863.00,1081.30L863.50,1081.51L864.00,1082.07L864.50,1082.54L865.00,1082.56L865.50,1082.09L866.00,1081.67L866.50,1081.84L867.00,1082.55L867.50,1082.68L868.00,1082.48L868.50,1082.19L869.00,1082.03L869.50,1082.05L870.00,1082.62L870.50,1083.26L871.00,1083.42L871.50,1082.83L872.00,1082.75L872.50,1083.06L873.00,1083.45L873.50,1083.01L874.00,1082.93L874.50,1082.74L875.00,1083.36L875.50,1082.96L876.00,1083.33L876.50,1083.07L877.00,1083.79L877.50,1083.61L878.00,1084.01L878.50,1083.84L879.00,1083.87L879.50,1083.61L880.00,1083.99L880.50,1084.01L881.00,1084.22L881.50,1084.17L882.00,1084.16L882.50,1084.17L883.00,1084.01L883.50,1084.53L884.00,1084.44L884.50,1084.62L885.00,1084.16L885.50,1084.04L886.00,1084.09L886.50,1084.47L887.00,1084.89L887.50,1084.29L888.00,1084.46L888.50,1084.43L889.00,1085.02L889.50,1085.15L890.00,1085.24L890.50,1085.20L891.00,1084.59L891.50,1084.40L892.00,1084.53L892.50,1084.32L893.00,1084.39L893.50,1084.10L894.00,1084.34L894.50,1084.43L895.00,1084.47L895.50,1084.28L896.00,1083.89L896.50,1083.98L897.00,1084.35L897.50,1084.14L898.00,1083.85L898.50,1083.74L899.00,1084.30L899.50,1084.53L900.00,1084.31L900.50,1084.16L901.00,1083.84L901.50,1083.98L902.00,1083.79L902.50,1084.14L903.00,1084.30L903.50,1084.57L904.00,1084.38L904.50,1084.11L905.00,1083.88L905.50,1084.25L906.00,1084.27L906.50,1084.25L907.00,1083.82L907.50,1083.60L908.00,1083.69L908.50,1083.81L909.00,1084.05L909.50,1083.80L910.00,1083.64L910.50,1083.56L911.00,1083.41L911.50,1083.43L912.00,1083.75L912.50,1084.19L913.00,1084.27L913.50,1084.27L914.00,1084.18L914.50,1084.20L915.00,1084.13L915.50,1084.31L916.00,1084.83L916.50,1084.91L917.00,1084.93L917.50,1084.77L918.00,1084.58L918.50,1084.89L919.00,1085.18L919.50,1085.47L920.00,1085.19L920.50,1084.96L921.00,1085.11L921.50,1085.14L922.00,1084.87L922.50,1084.84L923.00,1084.90L923.50,1085.51L924.00,1085.54L924.50,1085.70L925.00,1085.49L925.50,1085.34L926.00,1085.19L926.50,1085.54L927.00,1086.02L927.50,1085.99L928.00,1085.72L928.50,1085.43L929.00,1085.81L929.50,1085.95L930.00,1085.94L930.50,1086.00L931.00,1085.75L931.50,1085.92L932.00,1086.06L932.50,1086.28L933.00,1086.27L933.50,1086.26L934.00,1086.06L934.50,1086.15L935.00,1085.86L935.50,1085.69L936.00,1085.58L936.50,1085.71L937.00,1085.64L937.50,1085.32L938.00,1085.23L938.50,1085.62L939.00,1085.97L939.50,1086.32L940.00,1086.91L940.50,1086.90L941.00,1086.66L941.50,1085.99L942.00,1086.26L942.50,1085.85L943.00,1086.19L943.50,1085.66L944.00,1086.11L944.50,1085.99L945.00,1086.15L945.50,1086.13L946.00,1086.34L946.50,1086.53L947.00,1086.55L947.50,1086.07L948.00,1086.02L948.50,1085.69L949.00,1086.19L949.50,1086.22L950.00,1086.71L950.50,1086.63L951.00,1086.62L951.50,1086.55L952.00,1086.58L952.50,1086.90L953.00,1086.27L953.50,1086.36L954.00,1086.37L954.50,1086.95L955.00,1086.65L955.50,1086.43L956.00,1086.54L956.50,1086.22L957.00,1086.52L957.50,1086.14L958.00,1086.94L958.50,1086.69L959.00,1087.12L959.50,1086.76L960.00,1086.59L960.50,1086.14L961.00,1085.93L961.50,1086.09L962.00,1086.11L962.50,1086.02L963.00,1085.59L963.50,1085.24L964.00,1084.87L964.50,1084.88L965.00,1085.03L965.50,1085.39L966.00,1084.73L966.50,1084.07L967.00,1083.45L967.50,1083.27L968.00,1083.54L968.50,1083.85L969.00,1084.26L969.50,1084.21L970.00,1083.66L970.50,1083.70L971.00,1083.70L971.50,1084.27L972.00,1084.46L972.50,1084.41L973.00,1084.25L973.50,1084.19L974.00,1084.80L974.50,1085.36L975.00,1085.45L975.50,1085.43L976.00,1085.48L976.50,1085.51L977.00,1085.53L977.50,1085.35L978.00,1085.54L978.50,1085.97L979.00,1086.14L979.50,1085.99L980.00,1085.99L980.50,1085.91L981.00,1086.17L981.50,1086.19L982.00,1086.23L982.50,1086.12L983.00,1085.70L983.50,1085.67L984.00,1085.98L984.50,1086.29L985.00,1086.25L985.50,1085.87L986.00,1085.87L986.50,1085.63L987.00,1085.81L987.50,1085.81L988.00,1085.91L988.50,1085.93L989.00,1085.62L989.50,1085.67L990.00,1085.60L990.50,1085.88L991.00,1085.89L991.50,1085.86L992.00,1086.02L992.50,1086.40L993.00,1086.71L993.50,1086.43L994.00,1086.17L994.50,1086.05L995.00,1086.07L995.50,1086.09L996.00,1086.22L996.50,1086.60L997.00,1086.58" stroke="#000" stroke-width="1.6" fill="none" stroke-linejoin="round"/></svg>
</body></html>
